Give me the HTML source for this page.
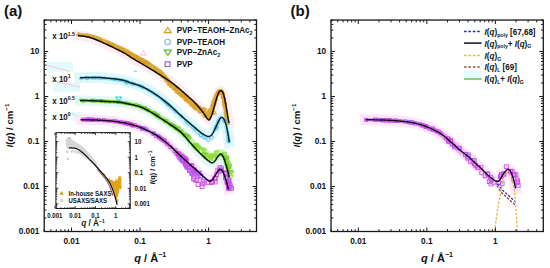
<!DOCTYPE html>
<html><head><meta charset="utf-8"><style>
html,body{margin:0;padding:0;background:#fff;width:550px;height:268px;overflow:hidden}
svg{display:block}
</style></head><body>
<svg width="550" height="268" viewBox="0 0 550 268">
<style>text{font-family:"Liberation Sans", sans-serif;font-weight:bold;fill:#111}</style>
<rect width="550" height="268" fill="#fff"/>
<rect x="47" y="62" width="26" height="10" fill="#e4fafb"/>
<rect x="53" y="83" width="27" height="9" fill="#e4fafb"/>
<rect x="72" y="112" width="10" height="9" fill="#e4fafb"/>
<path d="M47 65.4 L69.4 71.4 M53 81.1 L80 87.1 M72 113 L84 121" stroke="#f6c4ec" stroke-width="1"/>
<path d="M78.00 35.60 L78.77 35.69 L79.80 35.80 L81.02 35.93 L82.38 36.08 L83.81 36.26 L85.27 36.47 L86.68 36.71 L88.00 37.00 L89.25 37.33 L90.50 37.70 L91.75 38.11 L93.00 38.56 L94.25 39.02 L95.50 39.51 L96.75 40.00 L98.00 40.50 L99.26 41.02 L100.55 41.57 L101.84 42.14 L103.12 42.73 L104.40 43.31 L105.64 43.89 L106.85 44.46 L108.00 45.00 L109.09 45.51 L110.12 46.00 L111.10 46.48 L112.06 46.95 L113.01 47.42 L113.98 47.90 L114.97 48.39 L116.00 48.90 L117.09 49.43 L118.23 49.98 L119.39 50.54 L120.56 51.11 L121.73 51.68 L122.87 52.25 L123.96 52.83 L125.00 53.40 L125.95 53.96 L126.82 54.51 L127.64 55.06 L128.44 55.62 L129.24 56.18 L130.09 56.76 L131.00 57.37 L132.00 58.00 L133.11 58.67 L134.29 59.36 L135.53 60.07 L136.81 60.81 L138.12 61.55 L139.43 62.30 L140.73 63.05 L142.00 63.80 L143.25 64.55 L144.50 65.30 L145.75 66.06 L147.00 66.83 L148.25 67.59 L149.50 68.36 L150.75 69.13 L152.00 69.90 L153.26 70.68 L154.55 71.46 L155.84 72.25 L157.12 73.04 L158.40 73.83 L159.64 74.60 L160.85 75.36 L162.00 76.10 L163.10 76.81 L164.16 77.51 L165.19 78.19 L166.19 78.86 L167.16 79.52 L168.12 80.18 L169.06 80.84 L170.00 81.50 L170.92 82.16 L171.80 82.79 L172.65 83.42 L173.50 84.05 L174.35 84.69 L175.20 85.36 L176.08 86.06 L177.00 86.80 L177.94 87.58 L178.88 88.38 L179.84 89.21 L180.81 90.06 L181.81 90.95 L182.84 91.86 L183.90 92.81 L185.00 93.80 L186.17 94.83 L187.41 95.92 L188.69 97.05 L190.00 98.20 L191.31 99.37 L192.59 100.55 L193.83 101.73 L195.00 102.90 L196.11 104.07 L197.20 105.27 L198.26 106.49 L199.29 107.70 L200.28 108.90 L201.23 110.08 L202.14 111.21 L203.00 112.30 L203.82 113.40 L204.60 114.55 L205.34 115.70 L206.04 116.81 L206.69 117.83 L207.31 118.69 L207.88 119.37 L208.40 119.80 L208.86 119.96 L209.26 119.90 L209.61 119.65 L209.91 119.24 L210.19 118.74 L210.46 118.17 L210.72 117.57 L211.00 117.00 L211.28 116.41 L211.54 115.75 L211.79 115.03 L212.04 114.26 L212.28 113.46 L212.51 112.65 L212.75 111.82 L213.00 111.00 L213.25 110.17 L213.50 109.32 L213.75 108.45 L214.00 107.56 L214.25 106.67 L214.50 105.77 L214.75 104.88 L215.00 104.00 L215.25 103.11 L215.50 102.20 L215.75 101.28 L216.00 100.36 L216.25 99.46 L216.50 98.60 L216.75 97.77 L217.00 97.00 L217.25 96.27 L217.51 95.57 L217.76 94.89 L218.02 94.25 L218.27 93.65 L218.52 93.11 L218.76 92.62 L219.00 92.20 L219.23 91.85 L219.44 91.55 L219.66 91.32 L219.86 91.14 L220.07 91.00 L220.28 90.90 L220.48 90.84 L220.70 90.80 L220.92 90.79 L221.15 90.81 L221.38 90.86 L221.61 90.95 L221.84 91.09 L222.07 91.27 L222.29 91.51 L222.50 91.80 L222.70 92.15 L222.90 92.56 L223.08 93.02 L223.27 93.52 L223.45 94.08 L223.63 94.68 L223.81 95.32 L224.00 96.00 L224.19 96.73 L224.38 97.51 L224.56 98.33 L224.75 99.20 L224.94 100.11 L225.12 101.04 L225.31 102.01 L225.50 103.00 L225.69 104.04 L225.88 105.16 L226.08 106.32 L226.27 107.50 L226.46 108.68 L226.65 109.84 L226.83 110.96 L227.00 112.00 L227.17 112.99 L227.33 113.96 L227.49 114.90 L227.64 115.81 L227.79 116.68 L227.94 117.51 L228.07 118.28 L228.20 119.00 L228.32 119.67 L228.45 120.30 L228.56 120.90 L228.67 121.44 L228.78 121.92 L228.87 122.35 L228.94 122.71 L229.00 123.00" stroke="#fcecf6" stroke-width="10.0" fill="none" stroke-linecap="square" stroke-linejoin="round" opacity="1.00"/>
<path d="M80.00 77.80 L81.17 77.76 L82.73 77.70 L84.59 77.62 L86.65 77.54 L88.82 77.47 L91.00 77.42 L93.09 77.39 L95.00 77.40 L96.77 77.44 L98.50 77.51 L100.21 77.61 L101.90 77.72 L103.58 77.85 L105.25 77.99 L106.92 78.14 L108.60 78.30 L110.32 78.47 L112.09 78.65 L113.88 78.84 L115.65 79.04 L117.38 79.26 L119.03 79.49 L120.58 79.74 L122.00 80.00 L123.24 80.28 L124.33 80.57 L125.31 80.88 L126.21 81.21 L127.09 81.54 L127.99 81.89 L128.94 82.24 L130.00 82.60 L131.15 82.96 L132.36 83.31 L133.60 83.67 L134.88 84.04 L136.16 84.43 L137.45 84.85 L138.74 85.30 L140.00 85.80 L141.25 86.34 L142.50 86.91 L143.75 87.51 L145.00 88.14 L146.25 88.79 L147.50 89.47 L148.75 90.18 L150.00 90.90 L151.25 91.64 L152.50 92.41 L153.75 93.20 L155.00 94.02 L156.25 94.86 L157.50 95.72 L158.75 96.60 L160.00 97.50 L161.25 98.42 L162.50 99.37 L163.75 100.34 L165.00 101.33 L166.25 102.34 L167.50 103.38 L168.75 104.43 L170.00 105.50 L171.25 106.60 L172.50 107.75 L173.75 108.92 L175.00 110.11 L176.25 111.30 L177.50 112.49 L178.75 113.66 L180.00 114.80 L181.27 115.93 L182.57 117.08 L183.88 118.23 L185.19 119.36 L186.47 120.46 L187.71 121.53 L188.89 122.55 L190.00 123.50 L191.03 124.39 L191.98 125.23 L192.89 126.01 L193.75 126.76 L194.58 127.48 L195.39 128.17 L196.19 128.84 L197.00 129.50 L197.80 130.15 L198.59 130.78 L199.36 131.39 L200.11 131.97 L200.85 132.53 L201.58 133.06 L202.30 133.55 L203.00 134.00 L203.70 134.43 L204.40 134.84 L205.09 135.22 L205.77 135.57 L206.42 135.87 L207.05 136.12 L207.65 136.30 L208.20 136.40 L208.71 136.43 L209.17 136.40 L209.59 136.31 L209.99 136.16 L210.37 135.96 L210.74 135.69 L211.11 135.37 L211.50 135.00 L211.89 134.56 L212.27 134.04 L212.65 133.45 L213.02 132.82 L213.39 132.14 L213.76 131.44 L214.13 130.72 L214.50 130.00 L214.88 129.25 L215.26 128.44 L215.65 127.60 L216.03 126.74 L216.41 125.89 L216.79 125.05 L217.15 124.25 L217.50 123.50 L217.84 122.79 L218.17 122.08 L218.50 121.38 L218.82 120.72 L219.13 120.10 L219.43 119.53 L219.72 119.02 L220.00 118.60 L220.27 118.26 L220.52 117.99 L220.77 117.78 L221.01 117.62 L221.24 117.52 L221.46 117.45 L221.68 117.41 L221.90 117.40 L222.12 117.41 L222.32 117.47 L222.53 117.56 L222.73 117.69 L222.92 117.85 L223.11 118.04 L223.31 118.26 L223.50 118.50 L223.69 118.77 L223.88 119.07 L224.07 119.40 L224.26 119.76 L224.44 120.15 L224.63 120.56 L224.81 121.02 L225.00 121.50 L225.19 122.01 L225.38 122.55 L225.56 123.12 L225.75 123.72 L225.94 124.35 L226.12 125.03 L226.31 125.74 L226.50 126.50 L226.69 127.31 L226.88 128.18 L227.07 129.09 L227.26 130.04 L227.45 131.01 L227.64 132.00 L227.82 133.00 L228.00 134.00 L228.18 135.06 L228.37 136.23 L228.56 137.45 L228.74 138.67 L228.92 139.83 L229.07 140.87 L229.20 141.75 L229.30 142.40" stroke="#def8fc" stroke-width="11.0" fill="none" stroke-linecap="square" stroke-linejoin="round" opacity="1.00"/>
<path d="M80.00 100.50 L81.17 100.52 L82.73 100.54 L84.59 100.57 L86.65 100.60 L88.82 100.64 L91.00 100.68 L93.09 100.74 L95.00 100.80 L96.78 100.88 L98.55 100.97 L100.30 101.07 L102.03 101.17 L103.72 101.29 L105.39 101.40 L107.01 101.50 L108.60 101.60 L110.14 101.68 L111.64 101.75 L113.10 101.81 L114.52 101.87 L115.92 101.95 L117.30 102.04 L118.66 102.15 L120.00 102.30 L121.32 102.48 L122.60 102.70 L123.85 102.93 L125.09 103.19 L126.31 103.46 L127.53 103.73 L128.76 104.02 L130.00 104.30 L131.25 104.57 L132.50 104.84 L133.75 105.10 L135.00 105.38 L136.25 105.67 L137.50 106.00 L138.75 106.37 L140.00 106.80 L141.25 107.28 L142.50 107.81 L143.75 108.37 L145.00 108.97 L146.25 109.60 L147.50 110.25 L148.75 110.92 L150.00 111.60 L151.25 112.31 L152.50 113.04 L153.75 113.80 L155.00 114.59 L156.25 115.38 L157.50 116.19 L158.75 117.00 L160.00 117.80 L161.25 118.60 L162.50 119.41 L163.75 120.23 L165.00 121.05 L166.25 121.88 L167.50 122.71 L168.75 123.55 L170.00 124.40 L171.28 125.27 L172.62 126.16 L173.97 127.07 L175.31 127.99 L176.62 128.89 L177.85 129.77 L178.99 130.61 L180.00 131.40 L180.86 132.13 L181.60 132.81 L182.24 133.46 L182.81 134.07 L183.34 134.69 L183.87 135.30 L184.41 135.93 L185.00 136.60 L185.62 137.30 L186.25 138.01 L186.88 138.74 L187.50 139.47 L188.12 140.21 L188.75 140.95 L189.38 141.68 L190.00 142.40 L190.62 143.11 L191.25 143.82 L191.88 144.53 L192.50 145.24 L193.12 145.94 L193.75 146.63 L194.38 147.32 L195.00 148.00 L195.62 148.67 L196.25 149.34 L196.88 150.00 L197.50 150.66 L198.12 151.30 L198.75 151.94 L199.38 152.58 L200.00 153.20 L200.63 153.82 L201.27 154.44 L201.92 155.06 L202.56 155.67 L203.20 156.26 L203.82 156.84 L204.42 157.38 L205.00 157.90 L205.55 158.39 L206.09 158.86 L206.61 159.31 L207.11 159.74 L207.60 160.15 L208.08 160.53 L208.55 160.88 L209.00 161.20 L209.44 161.51 L209.87 161.80 L210.28 162.08 L210.68 162.33 L211.06 162.54 L211.45 162.69 L211.82 162.78 L212.20 162.80 L212.57 162.74 L212.92 162.61 L213.27 162.42 L213.61 162.18 L213.95 161.88 L214.30 161.55 L214.64 161.19 L215.00 160.80 L215.37 160.35 L215.75 159.82 L216.14 159.23 L216.52 158.61 L216.91 157.99 L217.29 157.40 L217.65 156.86 L218.00 156.40 L218.33 156.00 L218.65 155.61 L218.96 155.26 L219.26 154.94 L219.55 154.67 L219.84 154.45 L220.12 154.29 L220.40 154.20 L220.68 154.17 L220.95 154.20 L221.21 154.29 L221.48 154.43 L221.73 154.62 L221.99 154.87 L222.24 155.16 L222.50 155.50 L222.75 155.90 L223.01 156.35 L223.26 156.87 L223.51 157.43 L223.75 158.03 L224.00 158.66 L224.25 159.32 L224.50 160.00 L224.75 160.72 L225.01 161.51 L225.27 162.33 L225.53 163.19 L225.79 164.05 L226.04 164.90 L226.27 165.72 L226.50 166.50 L226.71 167.24 L226.91 167.95 L227.11 168.64 L227.29 169.31 L227.47 169.98 L227.65 170.65 L227.83 171.32 L228.00 172.00 L228.18 172.73 L228.37 173.50 L228.56 174.30 L228.74 175.09 L228.92 175.84 L229.07 176.51 L229.20 177.08 L229.30 177.50" stroke="#e2f8f6" stroke-width="10.0" fill="none" stroke-linecap="square" stroke-linejoin="round" opacity="1.00"/>
<path d="M80.60 119.70 L81.72 119.72 L83.21 119.74 L84.98 119.77 L86.95 119.80 L89.03 119.84 L91.12 119.88 L93.14 119.94 L95.00 120.00 L96.75 120.07 L98.51 120.15 L100.26 120.24 L101.99 120.33 L103.70 120.43 L105.37 120.55 L107.01 120.67 L108.60 120.80 L110.14 120.94 L111.64 121.09 L113.10 121.25 L114.52 121.42 L115.92 121.60 L117.30 121.79 L118.66 121.99 L120.00 122.20 L121.32 122.41 L122.60 122.63 L123.85 122.86 L125.09 123.09 L126.31 123.34 L127.53 123.61 L128.76 123.89 L130.00 124.20 L131.25 124.53 L132.50 124.87 L133.75 125.22 L135.00 125.60 L136.25 125.99 L137.50 126.41 L138.75 126.84 L140.00 127.30 L141.25 127.78 L142.50 128.27 L143.75 128.78 L145.00 129.32 L146.25 129.88 L147.50 130.46 L148.75 131.06 L150.00 131.70 L151.25 132.36 L152.50 133.04 L153.75 133.74 L155.00 134.47 L156.25 135.23 L157.50 136.01 L158.75 136.84 L160.00 137.70 L161.25 138.60 L162.50 139.54 L163.75 140.52 L165.00 141.53 L166.25 142.56 L167.50 143.62 L168.75 144.70 L170.00 145.80 L171.25 146.93 L172.50 148.11 L173.75 149.31 L175.00 150.54 L176.25 151.77 L177.50 153.00 L178.75 154.21 L180.00 155.40 L181.27 156.58 L182.57 157.78 L183.88 158.98 L185.19 160.17 L186.47 161.33 L187.71 162.45 L188.89 163.51 L190.00 164.50 L191.03 165.41 L191.98 166.25 L192.89 167.03 L193.75 167.77 L194.58 168.48 L195.39 169.18 L196.19 169.88 L197.00 170.60 L197.80 171.33 L198.56 172.05 L199.31 172.77 L200.04 173.48 L200.77 174.18 L201.50 174.87 L202.24 175.54 L203.00 176.20 L203.79 176.88 L204.63 177.60 L205.48 178.34 L206.32 179.04 L207.15 179.70 L207.94 180.26 L208.66 180.71 L209.30 181.00 L209.85 181.13 L210.32 181.14 L210.74 181.03 L211.11 180.83 L211.45 180.56 L211.79 180.23 L212.13 179.87 L212.50 179.50 L212.89 179.08 L213.28 178.57 L213.66 178.01 L214.04 177.41 L214.42 176.78 L214.79 176.16 L215.15 175.56 L215.50 175.00 L215.84 174.46 L216.17 173.91 L216.49 173.36 L216.81 172.82 L217.11 172.30 L217.41 171.82 L217.71 171.38 L218.00 171.00 L218.28 170.66 L218.55 170.36 L218.80 170.08 L219.06 169.85 L219.31 169.66 L219.56 169.52 L219.83 169.43 L220.10 169.40 L220.38 169.42 L220.68 169.47 L220.97 169.58 L221.27 169.73 L221.58 169.94 L221.89 170.22 L222.19 170.57 L222.50 171.00 L222.81 171.53 L223.13 172.17 L223.46 172.89 L223.79 173.67 L224.11 174.48 L224.42 175.31 L224.72 176.12 L225.00 176.90 L225.26 177.65 L225.50 178.40 L225.74 179.16 L225.96 179.92 L226.17 180.68 L226.38 181.45 L226.59 182.22 L226.80 183.00 L227.02 183.83 L227.25 184.73 L227.48 185.66 L227.71 186.58 L227.93 187.46 L228.12 188.24 L228.28 188.90 L228.40 189.40" stroke="#fbe8fa" stroke-width="10.0" fill="none" stroke-linecap="square" stroke-linejoin="round" opacity="1.00"/>
<path d="M78.31 33.12 L78.89 33.16 L79.63 33.20 L80.54 33.24 L81.57 33.29 L82.69 33.36 L83.88 33.44 L85.10 33.54 L86.33 33.67 L87.55 33.84 L88.71 34.03 L89.82 34.27 L90.91 34.52 L92.00 34.81 L93.07 35.11 L94.14 35.43 L95.19 35.76 L96.24 36.11 L97.28 36.46 L98.31 36.81 L99.35 37.16 L100.41 37.55 L101.49 37.96 L102.57 38.38 L103.65 38.81 L104.72 39.25 L105.77 39.68 L106.81 40.11 L107.81 40.54 L108.78 40.94 L109.72 41.34 L110.62 41.72 L111.49 42.09 L112.32 42.45 L113.13 42.81 L113.93 43.16 L114.71 43.51 L115.50 43.86 L116.29 44.21 L117.11 44.58 L117.94 44.95 L118.81 45.33 L119.71 45.73 L120.65 46.13 L121.61 46.54 L122.58 46.97 L123.56 47.40 L124.53 47.84 L125.50 48.30 L126.45 48.76 L127.38 49.23 L128.27 49.71 L129.11 50.18 L129.88 50.65 L130.60 51.10 L131.29 51.53 L131.95 51.95 L132.60 52.36 L133.26 52.77 L133.95 53.17 L134.71 53.59 L135.55 54.05 L136.47 54.53 L137.44 55.04 L138.45 55.56 L139.50 56.09 L140.57 56.64 L141.66 57.20 L142.75 57.76 L143.84 58.33 L144.91 58.90 L145.92 59.53 L146.91 60.17 L147.91 60.81 L148.91 61.45 L149.90 62.09 L150.89 62.73 L151.88 63.38 L152.86 64.02 L153.85 64.66 L154.83 65.30 L155.78 66.00 L156.75 66.72 L157.72 67.43 L158.71 68.16 L159.69 68.88 L160.66 69.60 L161.63 70.32 L162.55 71.05 L163.36 71.93 L164.13 72.79 L164.87 73.62 L165.58 74.43 L166.27 75.22 L166.95 75.99 L167.61 76.74 L168.28 77.46 L168.93 78.18 L169.58 78.89 L170.22 79.60 L170.85 80.31 L171.47 81.00 L172.07 81.68 L172.67 82.32 L173.36 82.83 L174.04 83.34 L174.72 83.86 L175.40 84.39 L176.10 84.94 L176.81 85.52 L177.55 86.13 L178.31 86.76 L179.06 87.40 L179.83 88.06 L180.59 88.73 L181.38 89.42 L182.17 90.13 L182.98 90.86 L183.81 91.61 L184.67 92.39 L185.55 93.18 L186.47 94.01 L187.44 94.87 L188.45 95.76 L189.48 96.67 L190.53 97.60 L191.65 98.47 L192.77 99.34 L193.86 100.22 L194.92 101.11 L195.93 101.99 L196.91 102.89 L197.87 103.80 L198.80 104.73 L199.72 105.66 L200.82 106.42 L202.24 106.89 L203.63 107.36 L204.98 107.84 L206.27 108.29 L207.54 108.79 L208.85 109.42 L210.15 110.14 L211.39 110.83 L212.54 111.47 L213.58 112.00 L214.50 112.37 L215.24 112.50 L215.69 112.25 L215.57 111.44 L214.33 109.95 L211.06 109.20 L206.91 109.64 L203.77 111.38 L202.34 113.09 L201.94 114.14 L202.01 114.61 L202.31 114.66 L202.73 114.41 L203.26 113.93 L203.80 113.51 L204.20 113.39 L204.54 113.31 L204.91 113.08 L205.31 112.74 L205.71 112.32 L206.13 111.82 L206.55 111.27 L206.99 110.68 L207.44 110.06 L207.89 109.46 L208.35 108.89 L208.79 108.32 L209.24 107.72 L209.70 107.11 L210.15 106.48 L210.39 105.78 L210.63 105.08 L210.88 104.37 L211.12 103.67 L211.37 102.97 L211.61 102.29 L211.85 101.59 L212.09 100.88 L212.33 100.15 L212.58 99.42 L212.83 98.69 L213.08 97.98 L213.33 97.27 L213.59 96.59 L213.85 95.94 L214.11 95.33 L214.36 94.74 L214.63 94.17 L214.89 93.61 L215.16 93.07 L215.47 92.57 L215.77 92.10 L216.08 91.65 L216.39 91.23 L216.71 90.84 L217.03 90.48 L217.36 90.14 L217.70 89.84 L218.07 89.57 L218.46 89.32 L218.87 89.13 L219.30 88.98 L219.72 88.90 L220.11 88.87 L220.49 88.88 L220.85 88.94 L221.23 89.02 L221.60 89.12 L221.98 89.27 L222.34 89.46 L222.68 89.70 L222.99 89.98 L223.27 90.30 L223.51 90.65 L223.72 91.02 L223.90 91.41 L224.06 91.80 L224.21 92.22 L224.34 92.66 L224.47 93.11 L224.59 93.59 L224.71 94.09 L224.83 94.61 L224.95 95.15 L225.06 95.72 L225.20 96.31 L225.34 96.94 L225.48 97.60 L225.62 98.28 L225.75 98.99 L225.89 99.72 L226.03 100.47 L226.16 101.24 L226.30 102.03 L226.43 102.83 L226.57 103.66 L226.71 104.55 L226.85 105.47 L226.99 106.41 L227.13 107.36 L227.27 108.31 L227.40 109.25 L227.54 110.16 L227.67 111.04 L227.79 111.87 L227.91 112.66 L228.03 113.45 L228.14 114.21 L228.26 114.96 L228.37 115.69 L228.48 116.39 L228.58 117.06 L228.68 117.70 L228.79 118.31 L228.89 118.87 L228.99 119.41 L229.09 119.92 L229.18 120.41 L229.27 120.87 L229.36 121.30 L229.44 121.69 L229.52 122.04 L229.58 122.36 L229.64 122.63 L229.69 122.86 L226.35 123.54 L226.29 123.33 L226.21 123.07 L226.12 122.76 L226.02 122.40 L225.90 122.01 L225.78 121.58 L225.65 121.11 L225.51 120.61 L225.37 120.09 L225.23 119.54 L225.08 118.97 L224.94 118.36 L224.84 117.71 L224.73 117.03 L224.62 116.33 L224.51 115.60 L224.40 114.85 L224.28 114.08 L224.16 113.30 L224.04 112.50 L223.92 111.66 L223.79 110.77 L223.65 109.85 L223.52 108.92 L223.38 107.97 L223.24 107.02 L223.10 106.09 L222.97 105.19 L222.83 104.33 L222.70 103.52 L222.57 102.74 L222.43 101.97 L222.30 101.21 L222.17 100.48 L222.03 99.77 L221.90 99.09 L221.77 98.44 L221.64 97.82 L221.52 97.24 L221.39 96.69 L221.29 96.16 L221.19 95.65 L221.10 95.17 L221.01 94.73 L220.92 94.33 L220.84 93.97 L220.76 93.66 L220.70 93.39 L220.64 93.17 L220.60 93.01 L220.59 92.90 L220.60 92.84 L220.63 92.79 L220.68 92.76 L220.74 92.73 L220.80 92.70 L220.85 92.65 L220.89 92.60 L220.90 92.56 L220.89 92.52 L220.88 92.48 L220.87 92.44 L220.86 92.40 L220.85 92.37 L220.80 92.35 L220.73 92.36 L220.62 92.42 L220.49 92.52 L220.33 92.68 L220.15 92.88 L219.95 93.14 L219.73 93.46 L219.51 93.82 L219.28 94.23 L219.04 94.67 L218.83 95.16 L218.63 95.68 L218.42 96.22 L218.22 96.77 L218.02 97.34 L217.82 97.93 L217.62 98.57 L217.42 99.23 L217.22 99.93 L217.01 100.64 L216.81 101.37 L216.60 102.10 L216.40 102.84 L216.19 103.57 L215.99 104.28 L215.78 104.98 L215.58 105.69 L215.37 106.40 L215.17 107.12 L214.96 107.83 L214.70 108.53 L214.43 109.21 L214.17 109.89 L213.90 110.55 L213.64 111.19 L213.38 111.83 L213.12 112.47 L212.87 113.11 L212.62 113.74 L212.37 114.36 L212.11 114.97 L211.85 115.54 L211.57 116.07 L211.29 116.56 L211.00 117.00 L210.74 117.44 L210.49 117.90 L210.24 118.35 L209.99 118.77 L209.74 119.13 L209.48 119.41 L209.23 119.56 L209.03 119.59 L208.86 119.53 L208.66 119.37 L208.18 119.27 L207.59 118.95 L206.92 118.47 L206.20 117.87 L205.44 117.19 L204.64 116.46 L203.82 115.71 L202.96 114.98 L202.04 114.34 L201.05 113.80 L200.01 113.27 L198.90 112.70 L197.76 112.11 L196.58 111.54 L195.38 110.97 L194.42 110.18 L193.61 109.28 L192.78 108.39 L191.95 107.53 L191.11 106.69 L190.24 105.86 L189.31 105.01 L188.33 104.15 L187.32 103.27 L186.28 102.39 L185.28 101.45 L184.28 100.52 L183.29 99.60 L182.33 98.70 L181.40 97.84 L180.53 97.01 L179.70 96.22 L178.89 95.45 L178.11 94.71 L177.34 93.99 L176.60 93.30 L175.88 92.63 L175.16 91.98 L174.46 91.35 L173.77 90.74 L173.08 90.15 L172.42 89.58 L171.78 89.04 L171.15 88.52 L170.52 88.01 L169.89 87.51 L169.25 87.00 L168.70 86.34 L168.16 85.61 L167.60 84.87 L167.03 84.11 L166.46 83.36 L165.88 82.60 L165.29 81.84 L164.69 81.07 L164.06 80.32 L163.41 79.56 L162.73 78.78 L162.03 77.98 L161.31 77.17 L160.57 76.32 L159.79 75.45 L158.85 74.77 L157.88 74.10 L156.89 73.43 L155.88 72.76 L154.88 72.08 L153.87 71.40 L152.88 70.73 L151.90 70.07 L150.90 69.45 L149.91 68.82 L148.91 68.20 L147.92 67.57 L146.92 66.95 L145.93 66.33 L144.93 65.72 L143.94 65.10 L142.94 64.49 L141.95 63.89 L140.94 63.28 L139.91 62.68 L138.86 62.07 L137.82 61.47 L136.78 60.87 L135.75 60.27 L134.75 59.69 L133.78 59.12 L132.85 58.57 L131.98 58.04 L131.17 57.52 L130.42 57.03 L129.73 56.55 L129.07 56.09 L128.43 55.64 L127.79 55.19 L127.15 54.75 L126.48 54.30 L125.77 53.85 L125.00 53.40 L124.18 52.94 L123.31 52.48 L122.42 52.02 L121.50 51.56 L120.56 51.11 L119.62 50.65 L118.69 50.20 L117.77 49.76 L116.87 49.33 L116.00 48.90 L115.17 48.49 L114.37 48.09 L113.59 47.70 L112.82 47.33 L112.06 46.95 L111.30 46.57 L110.52 46.20 L109.71 45.81 L108.88 45.41 L108.00 45.00 L107.08 44.57 L106.13 44.12 L105.15 43.66 L104.14 43.20 L103.12 42.73 L102.10 42.26 L101.06 41.80 L100.03 41.35 L99.01 40.91 L98.00 40.50 L97.00 40.10 L96.00 39.71 L94.99 39.32 L93.99 38.95 L92.99 38.58 L91.99 38.23 L90.99 37.90 L89.99 37.59 L88.99 37.30 L87.99 37.05 L86.94 36.82 L85.83 36.62 L84.68 36.45 L83.51 36.29 L82.37 36.16 L81.27 36.04 L80.26 35.94 L79.35 35.85 L78.58 35.77 L77.99 35.70 Z" fill="#e6b038" opacity="0.9"/>
<defs><linearGradient id="g485738843" gradientUnits="userSpaceOnUse" x1="175.0" y1="0" x2="200.0" y2="0"><stop offset="0" stop-color="#a8e6f6" stop-opacity="0.90"/><stop offset="1" stop-color="#a8e6f6" stop-opacity="0"/></linearGradient></defs>
<path d="M79.97 76.80 L80.86 76.76 L82.02 76.70 L83.40 76.63 L84.95 76.56 L86.61 76.48 L88.35 76.40 L90.10 76.34 L91.83 76.28 L93.49 76.25 L95.02 76.25 L96.45 76.27 L97.86 76.31 L99.25 76.36 L100.63 76.42 L101.99 76.50 L103.34 76.59 L104.68 76.69 L106.03 76.79 L107.37 76.90 L108.72 77.02 L110.10 77.14 L111.51 77.27 L112.95 77.40 L114.38 77.55 L115.81 77.70 L117.21 77.86 L118.58 78.03 L119.89 78.21 L121.12 78.40 L122.28 78.61 L123.34 78.83 L124.30 79.07 L125.17 79.31 L125.97 79.57 L126.72 79.84 L127.44 80.10 L128.15 80.37 L128.87 80.64 L129.63 80.90 L130.46 81.17 L131.36 81.45 L132.30 81.73 L133.27 82.01 L134.28 82.29 L135.31 82.59 L136.35 82.90 L137.41 83.23 L138.47 83.59 L139.53 83.97 L140.58 84.38 L141.62 84.82 L142.64 85.27 L143.67 85.75 L144.69 86.25 L145.71 86.76 L146.73 87.29 L147.75 87.83 L148.76 88.39 L149.78 88.96 L150.79 89.55 L151.81 90.15 L152.83 90.76 L153.84 91.39 L154.86 92.04 L155.87 92.70 L156.89 93.37 L157.90 94.06 L158.92 94.76 L159.93 95.48 L160.94 96.21 L161.95 96.96 L162.96 97.72 L163.97 98.50 L164.98 99.29 L165.99 100.10 L167.00 100.92 L168.00 101.75 L169.01 102.59 L170.01 103.45 L171.02 104.32 L172.04 105.22 L173.05 106.14 L174.06 107.08 L175.06 108.03 L176.06 108.99 L177.06 109.95 L178.05 110.90 L179.05 111.84 L180.03 112.77 L181.02 113.67 L182.02 114.57 L183.05 115.49 L184.09 116.40 L185.13 117.32 L186.17 118.22 L187.18 119.12 L188.18 119.99 L189.14 120.84 L190.06 121.65 L190.94 122.42 L191.76 123.14 L192.54 123.83 L193.27 124.49 L193.98 125.12 L194.66 125.72 L195.31 126.30 L195.95 126.85 L196.58 127.40 L197.21 127.93 L197.84 128.46 L198.48 128.98 L199.10 129.50 L199.72 130.00 L200.31 130.48 L200.90 130.95 L201.45 131.42 L202.00 131.87 L202.53 132.29 L203.06 132.69 L203.58 133.07 L204.11 133.44 L204.63 133.80 L205.16 134.14 L205.67 134.46 L206.17 134.76 L206.64 135.02 L207.10 135.25 L207.53 135.43 L207.93 135.58 L208.30 135.62 L208.63 135.57 L208.91 135.49 L209.15 135.39 L209.34 135.27 L209.52 135.14 L209.69 134.99 L209.87 134.80 L210.06 134.58 L210.27 134.32 L210.48 134.03 L210.69 133.72 L210.90 133.37 L211.14 132.97 L211.38 132.53 L211.64 132.04 L211.90 131.52 L212.16 130.97 L212.43 130.39 L212.71 129.81 L212.98 129.22 L213.25 128.64 L213.52 128.02 L213.79 127.36 L214.07 126.69 L214.35 126.00 L214.63 125.30 L214.91 124.61 L215.19 123.93 L215.47 123.28 L215.73 122.66 L215.98 122.08 L216.23 121.51 L216.50 120.94 L216.76 120.39 L217.02 119.84 L217.28 119.31 L217.54 118.81 L217.81 118.32 L218.09 117.86 L218.37 117.44 L218.67 117.05 L218.98 116.70 L219.31 116.39 L219.66 116.11 L220.04 115.88 L220.43 115.69 L220.82 115.55 L221.19 115.47 L221.53 115.42 L221.89 115.40 L222.32 115.43 L222.77 115.54 L223.18 115.71 L223.54 115.92 L223.85 116.14 L224.12 116.39 L224.36 116.63 L224.57 116.89 L224.76 117.14 L224.95 117.41 L225.13 117.70 L225.31 118.00 L225.48 118.32 L225.64 118.65 L225.79 118.99 L225.95 119.35 L226.09 119.72 L226.24 120.11 L226.38 120.51 L226.52 120.93 L226.66 121.36 L226.80 121.81 L226.94 122.28 L227.08 122.77 L227.22 123.27 L227.35 123.80 L227.49 124.35 L227.64 124.93 L227.78 125.53 L227.93 126.16 L228.07 126.82 L228.22 127.52 L228.36 128.24 L228.51 128.99 L228.65 129.76 L228.79 130.55 L228.94 131.35 L229.08 132.15 L229.21 132.96 L229.35 133.77 L229.48 134.62 L229.62 135.54 L229.77 136.51 L229.91 137.50 L230.05 138.47 L230.18 139.41 L230.30 140.28 L230.41 141.05 L230.51 141.70 L230.59 142.20 L227.03 142.75 L226.95 142.24 L226.85 141.58 L226.74 140.81 L226.60 139.94 L226.45 139.01 L226.30 138.05 L226.14 137.08 L225.98 136.13 L225.82 135.23 L225.67 134.41 L225.52 133.62 L225.37 132.83 L225.21 132.05 L225.05 131.27 L224.89 130.51 L224.73 129.76 L224.57 129.04 L224.41 128.35 L224.26 127.69 L224.10 127.08 L223.95 126.49 L223.80 125.94 L223.64 125.42 L223.51 124.92 L223.39 124.44 L223.26 123.98 L223.14 123.54 L223.02 123.12 L222.90 122.72 L222.78 122.34 L222.66 121.97 L222.54 121.64 L222.43 121.32 L222.32 121.04 L222.21 120.77 L222.11 120.53 L222.01 120.32 L221.92 120.13 L221.83 119.96 L221.75 119.81 L221.67 119.67 L221.59 119.55 L221.53 119.47 L221.50 119.41 L221.49 119.38 L221.52 119.37 L221.59 119.38 L221.70 119.40 L221.82 119.40 L221.91 119.40 L221.92 119.40 L221.91 119.40 L221.92 119.40 L221.95 119.39 L221.97 119.37 L221.97 119.38 L221.94 119.40 L221.86 119.47 L221.76 119.59 L221.63 119.76 L221.47 120.00 L221.28 120.31 L221.07 120.69 L220.85 121.12 L220.62 121.60 L220.37 122.11 L220.12 122.65 L219.85 123.21 L219.63 123.81 L219.42 124.41 L219.21 125.02 L219.00 125.66 L218.77 126.33 L218.54 127.04 L218.31 127.76 L218.07 128.49 L217.82 129.22 L217.57 129.94 L217.31 130.64 L217.06 131.31 L216.82 131.93 L216.59 132.54 L216.35 133.16 L216.11 133.79 L215.85 134.41 L215.57 135.04 L215.26 135.67 L214.93 136.29 L214.59 136.96 L214.23 137.61 L213.89 138.19 L213.54 138.73 L213.10 139.29 L212.57 139.84 L211.92 140.37 L211.15 140.86 L210.30 141.28 L209.39 141.60 L208.47 141.84 L207.50 141.99 L206.52 141.87 L205.64 141.51 L204.86 141.11 L204.15 140.68 L203.50 140.22 L202.88 139.75 L202.29 139.27 L201.73 138.78 L201.18 138.29 L200.64 137.79 L200.07 137.26 L199.50 136.70 L198.94 136.12 L198.39 135.54 L197.85 134.94 L197.26 134.39 L196.65 133.86 L196.05 133.31 L195.44 132.75 L194.82 132.19 L194.19 131.60 L193.56 131.01 L192.93 130.41 L192.30 129.80 L191.65 129.18 L191.00 128.54 L190.32 127.87 L189.62 127.18 L188.88 126.46 L188.10 125.69 L187.27 124.89 L186.40 124.03 L185.47 123.14 L184.52 122.21 L183.54 121.26 L182.52 120.33 L181.47 119.39 L180.43 118.45 L179.40 117.51 L178.39 116.58 L177.39 115.64 L176.39 114.68 L175.39 113.71 L174.40 112.74 L173.41 111.77 L172.43 110.81 L171.46 109.86 L170.49 108.94 L169.52 108.04 L168.56 107.16 L167.59 106.30 L166.61 105.45 L165.64 104.61 L164.66 103.78 L163.69 102.97 L162.71 102.17 L161.74 101.39 L160.77 100.61 L159.79 99.86 L158.82 99.12 L157.84 98.40 L156.85 97.70 L155.87 97.01 L154.89 96.33 L153.91 95.67 L152.92 95.03 L151.94 94.40 L150.96 93.78 L149.99 93.18 L149.01 92.60 L148.02 92.02 L147.04 91.46 L146.06 90.92 L145.08 90.39 L144.11 89.87 L143.13 89.37 L142.16 88.90 L141.19 88.44 L140.22 88.00 L139.26 87.59 L138.31 87.20 L137.33 86.85 L136.34 86.51 L135.34 86.19 L134.33 85.88 L133.32 85.58 L132.32 85.29 L131.33 85.00 L130.36 84.71 L129.41 84.41 L128.52 84.11 L127.69 83.82 L126.94 83.53 L126.23 83.26 L125.54 83.01 L124.86 82.77 L124.16 82.54 L123.40 82.32 L122.56 82.11 L121.61 81.91 L120.54 81.72 L119.36 81.53 L118.11 81.35 L116.78 81.18 L115.41 81.02 L114.01 80.86 L112.59 80.71 L111.17 80.58 L109.77 80.44 L108.41 80.32 L107.06 80.20 L105.73 80.08 L104.40 79.98 L103.08 79.87 L101.75 79.78 L100.42 79.70 L99.08 79.63 L97.73 79.58 L96.35 79.53 L94.97 79.51 L93.49 79.51 L91.88 79.53 L90.18 79.58 L88.45 79.63 L86.73 79.70 L85.07 79.77 L83.53 79.85 L82.15 79.91 L80.98 79.96 L80.07 80.00 Z" fill="url(#g485738843)"/>
<defs><linearGradient id="g929583699" gradientUnits="userSpaceOnUse" x1="175.0" y1="0" x2="200.0" y2="0"><stop offset="0" stop-color="#9ce05a" stop-opacity="0.90"/><stop offset="1" stop-color="#9ce05a" stop-opacity="0"/></linearGradient></defs>
<path d="M80.03 98.80 L80.93 98.81 L82.09 98.81 L83.47 98.82 L85.01 98.82 L86.68 98.83 L88.41 98.85 L90.17 98.86 L91.90 98.89 L93.55 98.91 L95.07 98.95 L96.51 99.00 L97.94 99.05 L99.36 99.12 L100.76 99.19 L102.15 99.26 L103.51 99.33 L104.85 99.41 L106.17 99.48 L107.46 99.55 L108.72 99.62 L109.94 99.67 L111.13 99.72 L112.31 99.76 L113.47 99.79 L114.62 99.83 L115.76 99.88 L116.89 99.93 L118.02 100.01 L119.14 100.10 L120.26 100.22 L121.37 100.36 L122.44 100.52 L123.49 100.69 L124.52 100.88 L125.54 101.08 L126.54 101.29 L127.53 101.51 L128.51 101.72 L129.50 101.94 L130.48 102.15 L131.47 102.36 L132.46 102.55 L133.46 102.75 L134.48 102.95 L135.50 103.17 L136.54 103.40 L137.59 103.65 L138.65 103.93 L139.72 104.25 L140.80 104.61 L141.86 105.00 L142.92 105.42 L143.97 105.86 L145.02 106.33 L146.06 106.81 L147.09 107.32 L148.12 107.83 L149.15 108.36 L150.17 108.90 L151.20 109.44 L152.23 110.01 L153.27 110.60 L154.30 111.20 L155.33 111.82 L156.35 112.45 L157.37 113.08 L158.39 113.71 L159.40 114.35 L160.40 114.98 L161.41 115.61 L162.43 116.23 L163.45 116.85 L164.48 117.47 L165.50 118.10 L166.53 118.73 L167.55 119.37 L168.58 120.01 L169.61 120.66 L170.63 121.31 L171.65 121.96 L172.69 122.62 L173.77 123.29 L174.87 123.99 L175.98 124.69 L177.09 125.40 L178.17 126.11 L179.23 126.81 L180.24 127.50 L181.20 128.18 L182.08 128.84 L182.93 129.42 L183.69 129.99 L184.38 130.55 L185.00 131.09 L185.57 131.61 L186.08 132.11 L186.57 132.58 L187.03 133.03 L187.49 133.47 L187.99 133.93 L188.55 134.45 L189.13 135.00 L189.70 135.55 L190.27 136.10 L190.83 136.65 L191.38 137.20 L191.93 137.74 L192.48 138.27 L193.01 138.79 L193.55 139.30 L194.10 139.81 L194.65 140.33 L195.20 140.85 L195.74 141.36 L196.33 141.83 L196.91 142.30 L197.49 142.76 L198.07 143.21 L198.65 143.66 L199.22 144.10 L199.80 144.53 L200.38 144.97 L200.95 145.40 L201.53 145.82 L202.10 146.24 L202.67 146.65 L203.24 147.06 L203.80 147.46 L204.37 147.84 L204.92 148.23 L205.50 148.59 L206.09 148.95 L206.68 149.31 L207.28 149.67 L207.87 150.02 L208.45 150.36 L209.02 150.69 L209.57 151.00 L210.11 151.30 L210.63 151.59 L211.14 151.87 L211.63 152.14 L212.11 152.37 L212.57 152.57 L212.99 152.74 L213.37 152.88 L213.72 152.99 L214.03 153.07 L214.30 153.10 L214.60 153.16 L215.03 153.30 L215.45 153.45 L215.75 153.52 L215.91 153.49 L215.89 153.35 L215.65 153.10 L215.06 152.92 L214.17 152.71 L212.96 152.57 L211.57 152.62 L210.27 152.88 L209.20 153.27 L208.40 153.71 L207.85 154.12 L207.53 154.43 L207.39 154.64 L207.38 154.73 L207.49 154.72 L207.69 154.61 L207.84 154.56 L208.01 154.74 L208.25 154.83 L208.62 154.75 L209.06 154.55 L209.55 154.25 L210.08 153.89 L210.64 153.47 L211.23 153.01 L211.87 152.51 L212.51 152.06 L213.01 151.76 L213.46 151.52 L213.93 151.26 L214.43 150.97 L214.98 150.65 L215.60 150.31 L216.31 149.96 L217.16 149.60 L218.18 149.28 L219.33 149.11 L220.45 149.14 L221.49 149.36 L222.44 149.68 L223.31 150.00 L224.07 150.40 L224.71 150.85 L225.25 151.30 L225.71 151.76 L226.12 152.23 L226.50 152.71 L226.88 153.26 L227.22 153.82 L227.52 154.37 L227.80 154.92 L228.06 155.47 L228.31 156.03 L228.55 156.59 L228.79 157.15 L229.01 157.72 L229.24 158.30 L229.47 158.94 L229.71 159.61 L229.95 160.31 L230.18 161.01 L230.41 161.72 L230.64 162.43 L230.85 163.12 L231.06 163.80 L231.26 164.45 L231.45 165.06 L231.64 165.66 L231.82 166.25 L231.99 166.82 L232.15 167.39 L232.32 167.95 L232.48 168.50 L232.63 169.05 L232.78 169.60 L232.94 170.15 L233.09 170.71 L233.24 171.32 L233.40 171.95 L233.55 172.61 L233.71 173.26 L233.86 173.90 L234.00 174.51 L234.13 175.08 L234.24 175.57 L234.34 175.99 L234.41 176.31 L228.08 177.78 L228.01 177.46 L227.91 177.03 L227.79 176.53 L227.67 175.98 L227.53 175.38 L227.38 174.75 L227.23 174.11 L227.08 173.48 L226.93 172.87 L226.79 172.31 L226.62 171.77 L226.46 171.24 L226.30 170.72 L226.13 170.20 L225.96 169.68 L225.79 169.15 L225.61 168.61 L225.42 168.07 L225.23 167.51 L225.03 166.93 L224.82 166.32 L224.60 165.68 L224.37 165.02 L224.13 164.35 L223.89 163.68 L223.65 163.02 L223.41 162.37 L223.17 161.76 L222.94 161.18 L222.71 160.64 L222.48 160.13 L222.25 159.62 L222.02 159.14 L221.78 158.68 L221.55 158.26 L221.33 157.88 L221.11 157.54 L220.91 157.25 L220.72 157.03 L220.55 156.86 L220.39 156.72 L220.24 156.62 L220.13 156.58 L220.06 156.59 L220.05 156.64 L220.12 156.74 L220.26 156.85 L220.48 156.87 L220.71 156.83 L220.94 156.74 L221.12 156.63 L221.20 156.53 L221.17 156.48 L221.06 156.50 L220.89 156.58 L220.68 156.72 L220.43 156.91 L220.16 157.13 L219.86 157.39 L219.57 157.64 L219.30 157.91 L219.02 158.24 L218.70 158.64 L218.36 159.08 L218.01 159.54 L217.65 160.02 L217.28 160.50 L216.90 160.96 L216.51 161.40 L216.13 161.79 L215.81 162.13 L215.51 162.45 L215.20 162.76 L214.88 163.07 L214.54 163.35 L214.17 163.62 L213.76 163.87 L213.32 164.07 L212.82 164.22 L212.29 164.30 L211.75 164.29 L211.23 164.19 L210.75 164.04 L210.32 163.85 L209.91 163.64 L209.53 163.42 L209.16 163.20 L208.80 162.97 L208.45 162.74 L208.09 162.51 L207.69 162.26 L207.28 161.98 L206.86 161.68 L206.45 161.37 L206.02 161.04 L205.59 160.70 L205.16 160.36 L204.72 159.99 L204.27 159.62 L203.81 159.24 L203.33 158.83 L202.83 158.41 L202.32 157.97 L201.80 157.52 L201.27 157.05 L200.73 156.57 L200.19 156.09 L199.65 155.60 L199.12 155.11 L198.59 154.62 L198.08 154.12 L197.58 153.60 L197.07 153.09 L196.56 152.57 L196.06 152.04 L195.55 151.51 L195.05 150.98 L194.54 150.44 L194.04 149.90 L193.53 149.36 L193.03 148.81 L192.52 148.25 L192.01 147.69 L191.51 147.13 L191.01 146.57 L190.50 146.00 L190.00 145.43 L189.49 144.87 L188.99 144.30 L188.48 143.73 L187.97 143.15 L187.46 142.56 L186.95 141.97 L186.45 141.38 L185.95 140.79 L185.45 140.21 L184.95 139.64 L184.46 139.07 L183.96 138.52 L183.47 137.97 L182.97 137.42 L182.51 136.89 L182.08 136.39 L181.67 135.92 L181.27 135.46 L180.85 135.01 L180.40 134.55 L179.90 134.08 L179.33 133.57 L178.68 133.03 L177.93 132.43 L177.08 131.79 L176.16 131.12 L175.17 130.42 L174.14 129.70 L173.08 128.97 L172.00 128.24 L170.93 127.51 L169.87 126.80 L168.85 126.10 L167.85 125.42 L166.86 124.74 L165.87 124.07 L164.88 123.40 L163.88 122.74 L162.89 122.08 L161.90 121.43 L160.91 120.77 L159.91 120.13 L158.92 119.48 L157.92 118.83 L156.92 118.18 L155.93 117.53 L154.94 116.89 L153.95 116.25 L152.97 115.62 L151.99 115.01 L151.01 114.42 L150.04 113.85 L149.06 113.29 L148.08 112.75 L147.10 112.21 L146.11 111.68 L145.14 111.17 L144.16 110.67 L143.19 110.20 L142.23 109.75 L141.27 109.32 L140.31 108.92 L139.36 108.55 L138.42 108.22 L137.48 107.92 L136.52 107.65 L135.56 107.40 L134.59 107.16 L133.61 106.94 L132.62 106.72 L131.63 106.51 L130.62 106.29 L129.61 106.06 L128.61 105.83 L127.62 105.60 L126.65 105.37 L125.68 105.15 L124.71 104.94 L123.75 104.74 L122.78 104.54 L121.79 104.37 L120.80 104.21 L119.78 104.07 L118.74 103.95 L117.70 103.85 L116.63 103.77 L115.55 103.70 L114.44 103.64 L113.31 103.59 L112.15 103.54 L110.96 103.49 L109.75 103.43 L108.50 103.35 L107.22 103.27 L105.93 103.19 L104.61 103.10 L103.27 103.01 L101.91 102.92 L100.54 102.83 L99.15 102.74 L97.76 102.66 L96.35 102.59 L94.93 102.53 L93.44 102.47 L91.81 102.43 L90.09 102.38 L88.35 102.35 L86.62 102.31 L84.96 102.28 L83.42 102.26 L82.04 102.24 L80.87 102.22 L79.97 102.20 Z" fill="url(#g929583699)"/>
<path d="M188.04 133.99 L188.37 134.31 L188.80 134.72 L189.30 135.21 L189.86 135.75 L190.46 136.34 L191.09 136.95 L191.74 137.56 L192.37 138.17 L192.98 138.75 L193.55 139.29 L194.10 139.81 L194.65 140.33 L195.20 140.85 L195.74 141.36 L196.33 141.83 L196.91 142.30 L197.49 142.76 L198.07 143.21 L198.65 143.66 L199.22 144.10 L199.80 144.53 L200.38 144.97 L200.95 145.40 L201.53 145.82 L202.10 146.24 L202.67 146.65 L203.24 147.06 L203.80 147.46 L204.37 147.84 L204.92 148.23 L205.50 148.59 L206.09 148.95 L206.68 149.31 L207.28 149.67 L207.87 150.02 L208.45 150.36 L209.02 150.69 L209.57 151.00 L210.11 151.30 L210.63 151.59 L211.14 151.87 L211.63 152.14 L212.11 152.37 L212.57 152.57 L212.99 152.74 L213.37 152.88 L213.72 152.99 L214.03 153.07 L214.30 153.10 L214.60 153.16 L215.03 153.30 L215.45 153.45 L215.75 153.52 L215.91 153.49 L215.89 153.35 L215.65 153.10 L215.06 152.92 L214.17 152.71 L212.96 152.57 L211.57 152.62 L210.27 152.88 L209.20 153.27 L208.40 153.71 L207.85 154.12 L207.53 154.43 L207.39 154.64 L207.38 154.73 L207.49 154.72 L207.69 154.61 L207.84 154.56 L208.01 154.74 L208.25 154.83 L208.62 154.75 L209.06 154.55 L209.55 154.25 L210.08 153.89 L210.64 153.47 L211.23 153.01 L211.87 152.51 L212.51 152.06 L213.01 151.76 L213.46 151.52 L213.93 151.26 L214.43 150.97 L214.98 150.65 L215.60 150.31 L216.31 149.96 L217.16 149.60 L218.18 149.28 L219.33 149.11 L220.45 149.14 L221.49 149.36 L222.44 149.68 L223.31 150.00 L224.07 150.40 L224.71 150.85 L225.25 151.30 L225.71 151.76 L226.12 152.23 L226.50 152.71 L226.88 153.26 L227.22 153.82 L227.52 154.37 L227.80 154.92 L228.06 155.47 L228.31 156.03 L228.55 156.59 L228.79 157.15 L229.01 157.72 L229.24 158.30 L229.47 158.94 L229.71 159.61 L229.95 160.31 L230.18 161.01 L230.41 161.72 L230.64 162.43 L230.85 163.12 L231.06 163.80 L231.26 164.45 L231.45 165.06 L231.64 165.66 L231.82 166.25 L231.99 166.82 L232.15 167.39 L232.32 167.95 L232.48 168.50 L232.63 169.05 L232.78 169.60 L232.94 170.15 L233.09 170.71 L233.24 171.32 L233.40 171.95 L233.55 172.61 L233.71 173.26 L233.86 173.90 L234.00 174.51 L234.13 175.08 L234.24 175.57 L234.34 175.99 L234.41 176.31 L228.08 177.78 L228.01 177.46 L227.91 177.03 L227.79 176.53 L227.67 175.98 L227.53 175.38 L227.38 174.75 L227.23 174.11 L227.08 173.48 L226.93 172.87 L226.79 172.31 L226.62 171.77 L226.46 171.24 L226.30 170.72 L226.13 170.20 L225.96 169.68 L225.79 169.15 L225.61 168.61 L225.42 168.07 L225.23 167.51 L225.03 166.93 L224.82 166.32 L224.60 165.68 L224.37 165.02 L224.13 164.35 L223.89 163.68 L223.65 163.02 L223.41 162.37 L223.17 161.76 L222.94 161.18 L222.71 160.64 L222.48 160.13 L222.25 159.62 L222.02 159.14 L221.78 158.68 L221.55 158.26 L221.33 157.88 L221.11 157.54 L220.91 157.25 L220.72 157.03 L220.55 156.86 L220.39 156.72 L220.24 156.62 L220.13 156.58 L220.06 156.59 L220.05 156.64 L220.12 156.74 L220.26 156.85 L220.48 156.87 L220.71 156.83 L220.94 156.74 L221.12 156.63 L221.20 156.53 L221.17 156.48 L221.06 156.50 L220.89 156.58 L220.68 156.72 L220.43 156.91 L220.16 157.13 L219.86 157.39 L219.57 157.64 L219.30 157.91 L219.02 158.24 L218.70 158.64 L218.36 159.08 L218.01 159.54 L217.65 160.02 L217.28 160.50 L216.90 160.96 L216.51 161.40 L216.13 161.79 L215.81 162.13 L215.51 162.45 L215.20 162.76 L214.88 163.07 L214.54 163.35 L214.17 163.62 L213.76 163.87 L213.32 164.07 L212.82 164.22 L212.29 164.30 L211.75 164.29 L211.23 164.19 L210.75 164.04 L210.32 163.85 L209.91 163.64 L209.53 163.42 L209.16 163.20 L208.80 162.97 L208.45 162.74 L208.09 162.51 L207.69 162.26 L207.28 161.98 L206.86 161.68 L206.45 161.37 L206.02 161.04 L205.59 160.70 L205.16 160.36 L204.72 159.99 L204.27 159.62 L203.81 159.24 L203.33 158.83 L202.83 158.41 L202.32 157.97 L201.80 157.52 L201.27 157.05 L200.73 156.57 L200.19 156.09 L199.65 155.60 L199.12 155.11 L198.59 154.62 L198.08 154.12 L197.58 153.60 L197.07 153.09 L196.56 152.57 L196.06 152.04 L195.55 151.51 L195.05 150.98 L194.54 150.44 L194.04 149.90 L193.53 149.36 L193.03 148.81 L192.52 148.25 L192.01 147.69 L191.51 147.13 L191.01 146.57 L190.50 146.00 L190.00 145.43 L189.49 144.87 L188.99 144.30 L188.48 143.73 L187.95 143.13 L187.39 142.49 L186.81 141.82 L186.22 141.14 L185.64 140.48 L185.09 139.84 L184.58 139.25 L184.12 138.73 L183.74 138.29 L183.44 137.94 Z" fill="#c8f0a0" opacity="0.7"/>
<defs><linearGradient id="g601051017" gradientUnits="userSpaceOnUse" x1="165.0" y1="0" x2="190.0" y2="0"><stop offset="0" stop-color="#e496f0" stop-opacity="0.90"/><stop offset="1" stop-color="#e496f0" stop-opacity="0"/></linearGradient></defs>
<path d="M80.63 117.90 L81.49 117.91 L82.60 117.93 L83.91 117.94 L85.39 117.96 L86.98 117.99 L88.64 118.01 L90.33 118.04 L91.99 118.08 L93.59 118.12 L95.07 118.17 L96.48 118.23 L97.89 118.28 L99.30 118.35 L100.70 118.42 L102.09 118.49 L103.47 118.57 L104.83 118.65 L106.17 118.75 L107.48 118.84 L108.76 118.95 L110.01 119.06 L111.23 119.18 L112.43 119.30 L113.60 119.43 L114.75 119.57 L115.89 119.71 L117.01 119.86 L118.11 120.02 L119.21 120.18 L120.29 120.34 L121.36 120.51 L122.41 120.69 L123.44 120.86 L124.45 121.05 L125.45 121.24 L126.45 121.44 L127.45 121.65 L128.45 121.87 L129.45 122.11 L130.47 122.36 L131.49 122.61 L132.51 122.87 L133.53 123.14 L134.55 123.43 L135.58 123.72 L136.60 124.03 L137.63 124.35 L138.66 124.68 L139.68 125.03 L140.71 125.40 L141.74 125.77 L142.76 126.16 L143.79 126.56 L144.81 126.97 L145.84 127.39 L146.87 127.84 L147.90 128.29 L148.93 128.77 L149.97 129.26 L151.00 129.78 L152.02 130.30 L153.05 130.84 L154.08 131.39 L155.11 131.96 L156.14 132.55 L157.17 133.16 L158.21 133.79 L159.25 134.44 L160.29 135.12 L161.33 135.82 L162.38 136.53 L163.43 137.27 L164.48 138.03 L165.53 138.81 L166.57 139.60 L167.61 140.42 L168.65 141.25 L169.69 142.09 L170.73 142.94 L171.77 143.81 L172.82 144.71 L173.87 145.64 L174.92 146.59 L175.96 147.55 L176.99 148.51 L178.02 149.47 L179.04 150.43 L180.06 151.37 L181.04 152.32 L182.02 153.24 L183.03 154.17 L184.06 155.12 L185.10 156.07 L186.15 157.02 L187.19 157.96 L188.22 158.89 L189.22 159.79 L190.19 160.65 L191.12 161.48 L192.00 162.26 L192.76 163.05 L193.48 163.78 L194.16 164.48 L194.82 165.14 L195.46 165.78 L196.08 166.40 L196.70 167.01 L197.31 167.63 L197.92 168.25 L198.54 168.89 L199.16 169.54 L199.75 170.19 L200.33 170.82 L200.88 171.44 L201.43 172.05 L201.95 172.65 L202.47 173.25 L202.99 173.83 L203.52 174.40 L204.06 174.97 L204.64 175.57 L205.25 176.21 L205.87 176.85 L206.48 177.49 L207.09 178.11 L207.68 178.68 L208.23 179.20 L208.78 179.59 L209.28 179.82 L209.68 179.94 L209.95 179.96 L210.12 179.94 L210.22 179.89 L210.29 179.83 L210.38 179.74 L210.52 179.60 L210.70 179.39 L210.92 179.13 L211.18 178.81 L211.46 178.49 L211.69 178.20 L211.89 177.85 L212.06 177.41 L212.25 176.93 L212.43 176.41 L212.63 175.88 L212.82 175.33 L213.03 174.77 L213.24 174.22 L213.44 173.70 L213.61 173.23 L213.77 172.77 L213.94 172.30 L214.11 171.82 L214.28 171.33 L214.47 170.85 L214.69 170.37 L214.93 169.90 L215.19 169.42 L215.46 168.97 L215.69 168.60 L215.91 168.26 L216.16 167.91 L216.45 167.54 L216.79 167.16 L217.22 166.77 L217.76 166.38 L218.43 166.02 L219.23 165.76 L220.03 165.63 L220.71 165.60 L221.36 165.64 L222.03 165.76 L222.72 165.96 L223.41 166.21 L224.07 166.54 L224.71 166.94 L225.30 167.40 L225.86 167.92 L226.38 168.49 L226.88 169.10 L227.33 169.74 L227.76 170.39 L228.17 171.05 L228.57 171.73 L228.94 172.41 L229.25 173.11 L229.53 173.80 L229.81 174.46 L230.07 175.11 L230.32 175.77 L230.57 176.44 L230.81 177.10 L231.03 177.76 L231.24 178.41 L231.44 179.05 L231.64 179.68 L231.83 180.30 L232.02 180.92 L232.21 181.55 L232.41 182.23 L232.63 182.96 L232.84 183.72 L233.06 184.48 L233.26 185.22 L233.46 185.93 L233.63 186.58 L233.77 187.17 L233.89 187.65 L233.98 188.02 L226.70 189.82 L226.61 189.43 L226.49 188.94 L226.34 188.35 L226.17 187.70 L225.98 187.01 L225.78 186.28 L225.57 185.55 L225.36 184.82 L225.16 184.13 L224.97 183.49 L224.78 182.88 L224.59 182.27 L224.40 181.66 L224.22 181.06 L224.03 180.47 L223.84 179.89 L223.64 179.31 L223.43 178.74 L223.22 178.17 L223.00 177.61 L222.75 177.02 L222.50 176.39 L222.23 175.76 L221.95 175.13 L221.65 174.54 L221.35 173.97 L221.05 173.46 L220.77 173.02 L220.51 172.67 L220.30 172.43 L220.12 172.28 L219.96 172.19 L219.85 172.16 L219.78 172.18 L219.76 172.24 L219.78 172.32 L219.82 172.46 L219.90 172.60 L219.99 172.73 L220.17 172.85 L220.50 172.93 L220.90 172.93 L221.23 172.90 L221.47 172.87 L221.61 172.89 L221.69 172.96 L221.70 173.10 L221.66 173.29 L221.58 173.55 L221.52 173.81 L221.50 174.02 L221.47 174.27 L221.40 174.59 L221.31 174.97 L221.30 175.47 L221.31 176.02 L221.29 176.62 L221.26 177.25 L221.20 177.93 L221.16 178.57 L221.18 179.12 L221.22 179.68 L221.22 180.32 L221.19 181.02 L221.13 181.78 L221.02 182.60 L220.84 183.49 L220.57 184.46 L220.09 185.48 L219.59 186.34 L219.41 186.82 L219.30 187.22 L218.94 187.85 L218.25 188.73 L217.10 189.85 L215.35 191.05 L213.00 192.08 L210.31 192.65 L207.66 192.71 L205.24 192.39 L203.14 191.86 L201.42 191.33 L200.16 190.57 L199.21 189.67 L198.38 188.80 L197.65 187.97 L196.98 187.17 L196.38 186.43 L195.86 185.76 L195.34 185.11 L194.72 184.37 L194.08 183.59 L193.48 182.84 L192.92 182.11 L192.40 181.41 L192.00 180.63 L191.64 179.87 L191.30 179.13 L190.97 178.39 L190.63 177.65 L190.27 176.90 L189.89 176.13 L189.49 175.36 L189.07 174.57 L188.62 173.75 L188.15 172.89 L187.66 171.99 L187.13 171.05 L186.58 170.04 L186.01 168.98 L185.24 168.05 L184.43 167.07 L183.58 166.04 L182.71 164.98 L181.82 163.88 L180.91 162.77 L179.99 161.65 L179.08 160.52 L178.18 159.40 L177.29 158.29 L176.41 157.17 L175.53 156.03 L174.56 154.99 L173.61 153.95 L172.66 152.92 L171.71 151.90 L170.78 150.89 L169.85 149.91 L168.93 148.96 L168.01 148.04 L167.07 147.12 L166.13 146.21 L165.20 145.32 L164.26 144.44 L163.32 143.57 L162.39 142.73 L161.46 141.91 L160.53 141.11 L159.60 140.33 L158.67 139.58 L157.71 138.90 L156.75 138.24 L155.79 137.60 L154.83 136.99 L153.86 136.39 L152.89 135.81 L151.92 135.24 L150.95 134.69 L149.98 134.15 L149.00 133.62 L148.03 133.11 L147.07 132.62 L146.10 132.15 L145.13 131.69 L144.16 131.24 L143.19 130.81 L142.21 130.39 L141.24 129.99 L140.26 129.59 L139.29 129.20 L138.32 128.83 L137.34 128.48 L136.37 128.13 L135.40 127.80 L134.42 127.48 L133.45 127.17 L132.47 126.87 L131.49 126.59 L130.51 126.31 L129.53 126.04 L128.56 125.79 L127.60 125.55 L126.64 125.33 L125.69 125.11 L124.73 124.91 L123.76 124.71 L122.78 124.52 L121.78 124.34 L120.76 124.16 L119.72 123.98 L118.66 123.80 L117.59 123.63 L116.51 123.47 L115.42 123.31 L114.31 123.16 L113.18 123.01 L112.04 122.87 L110.87 122.73 L109.67 122.60 L108.45 122.48 L107.20 122.36 L105.91 122.25 L104.60 122.14 L103.26 122.04 L101.89 121.95 L100.52 121.86 L99.13 121.77 L97.73 121.69 L96.34 121.62 L94.94 121.55 L93.48 121.48 L91.90 121.42 L90.25 121.37 L88.58 121.32 L86.93 121.27 L85.34 121.23 L83.87 121.19 L82.55 121.16 L81.44 121.13 L80.57 121.11 Z" fill="url(#g601051017)"/>
<path d="M222.21 89.94 L223.97 92.82 L220.45 92.82 Z" stroke="#e0a028" stroke-width="0.90" fill="none"/>
<path d="M117.87 45.60 L119.63 48.48 L116.11 48.48 Z" stroke="#e0a028" stroke-width="0.90" fill="none"/>
<path d="M99.08 37.39 L100.84 40.27 L97.32 40.27 Z" stroke="#e09818" stroke-width="0.90" fill="none"/>
<path d="M191.38 101.21 L193.14 104.09 L189.62 104.09 Z" stroke="#c8b040" stroke-width="0.90" fill="none"/>
<path d="M202.86 108.40 L204.62 111.28 L201.10 111.28 Z" stroke="#e09818" stroke-width="0.90" fill="none"/>
<path d="M91.61 34.82 L93.37 37.70 L89.85 37.70 Z" stroke="#e0a028" stroke-width="0.90" fill="none"/>
<path d="M193.03 100.81 L194.79 103.69 L191.27 103.69 Z" stroke="#e0a028" stroke-width="0.90" fill="none"/>
<path d="M179.17 89.22 L180.93 92.10 L177.41 92.10 Z" stroke="#c8b040" stroke-width="0.90" fill="none"/>
<path d="M79.15 32.90 L80.91 35.78 L77.39 35.78 Z" stroke="#e09818" stroke-width="0.90" fill="none"/>
<path d="M207.26 114.74 L209.02 117.62 L205.50 117.62 Z" stroke="#e0a028" stroke-width="0.90" fill="none"/>
<path d="M176.92 89.70 L178.68 92.58 L175.16 92.58 Z" stroke="#e09818" stroke-width="0.90" fill="none"/>
<path d="M220.25 89.02 L222.01 91.90 L218.49 91.90 Z" stroke="#e09818" stroke-width="0.90" fill="none"/>
<path d="M220.49 89.29 L222.25 92.17 L218.73 92.17 Z" stroke="#c8b040" stroke-width="0.90" fill="none"/>
<path d="M155.46 66.80 L157.22 69.68 L153.70 69.68 Z" stroke="#c8b040" stroke-width="0.90" fill="none"/>
<path d="M94.65 35.57 L96.41 38.45 L92.89 38.45 Z" stroke="#e09818" stroke-width="0.90" fill="none"/>
<path d="M142.29 60.56 L144.05 63.44 L140.53 63.44 Z" stroke="#c8b040" stroke-width="0.90" fill="none"/>
<path d="M212.56 107.36 L214.32 110.24 L210.80 110.24 Z" stroke="#e09818" stroke-width="0.90" fill="none"/>
<path d="M169.83 81.65 L171.59 84.53 L168.07 84.53 Z" stroke="#e0a028" stroke-width="0.90" fill="none"/>
<path d="M166.84 79.08 L168.60 81.96 L165.08 81.96 Z" stroke="#c8b040" stroke-width="0.90" fill="none"/>
<path d="M103.83 39.29 L105.59 42.17 L102.07 42.17 Z" stroke="#e0a028" stroke-width="0.90" fill="none"/>
<path d="M78.27 32.58 L80.03 35.46 L76.51 35.46 Z" stroke="#e09818" stroke-width="0.90" fill="none"/>
<path d="M123.15 48.24 L124.91 51.12 L121.39 51.12 Z" stroke="#e09818" stroke-width="0.90" fill="none"/>
<path d="M87.68 33.84 L89.44 36.72 L85.92 36.72 Z" stroke="#d8a838" stroke-width="0.90" fill="none"/>
<path d="M217.47 91.76 L219.23 94.64 L215.71 94.64 Z" stroke="#e09818" stroke-width="0.90" fill="none"/>
<path d="M98.29 36.91 L100.05 39.79 L96.53 39.79 Z" stroke="#d8a838" stroke-width="0.90" fill="none"/>
<path d="M194.79 105.89 L196.55 108.77 L193.03 108.77 Z" stroke="#c8b040" stroke-width="0.90" fill="none"/>
<path d="M217.98 91.46 L219.74 94.34 L216.22 94.34 Z" stroke="#d8a838" stroke-width="0.90" fill="none"/>
<path d="M224.76 101.10 L226.52 103.98 L223.00 103.98 Z" stroke="#e0a028" stroke-width="0.90" fill="none"/>
<path d="M209.32 113.79 L211.08 116.67 L207.56 116.67 Z" stroke="#c8b040" stroke-width="0.90" fill="none"/>
<path d="M223.52 95.37 L225.28 98.25 L221.76 98.25 Z" stroke="#c8b040" stroke-width="0.90" fill="none"/>
<path d="M88.88 34.12 L90.64 37.00 L87.12 37.00 Z" stroke="#c8b040" stroke-width="0.90" fill="none"/>
<path d="M132.77 52.93 L134.53 55.81 L131.01 55.81 Z" stroke="#c8b040" stroke-width="0.90" fill="none"/>
<path d="M139.02 58.18 L140.78 61.06 L137.26 61.06 Z" stroke="#e0a028" stroke-width="0.90" fill="none"/>
<path d="M172.43 83.51 L174.19 86.39 L170.67 86.39 Z" stroke="#e09818" stroke-width="0.90" fill="none"/>
<path d="M137.32 55.16 L139.08 58.04 L135.56 58.04 Z" stroke="#d8a838" stroke-width="0.90" fill="none"/>
<path d="M161.42 72.60 L163.18 75.48 L159.66 75.48 Z" stroke="#e09818" stroke-width="0.90" fill="none"/>
<path d="M116.09 44.98 L117.85 47.86 L114.33 47.86 Z" stroke="#d8a838" stroke-width="0.90" fill="none"/>
<path d="M108.36 41.28 L110.12 44.16 L106.60 44.16 Z" stroke="#d8a838" stroke-width="0.90" fill="none"/>
<path d="M203.87 108.46 L205.63 111.34 L202.11 111.34 Z" stroke="#e09818" stroke-width="0.90" fill="none"/>
<path d="M225.02 104.50 L226.78 107.38 L223.26 107.38 Z" stroke="#d8a838" stroke-width="0.90" fill="none"/>
<path d="M214.69 111.29 L216.45 114.17 L212.93 114.17 Z" stroke="#c8b040" stroke-width="0.90" fill="none"/>
<path d="M93.33 35.31 L95.09 38.19 L91.57 38.19 Z" stroke="#e0a028" stroke-width="0.90" fill="none"/>
<path d="M227.81 121.37 L229.57 124.25 L226.05 124.25 Z" stroke="#e0a028" stroke-width="0.90" fill="none"/>
<path d="M213.71 99.47 L215.47 102.35 L211.95 102.35 Z" stroke="#d8a838" stroke-width="0.90" fill="none"/>
<path d="M97.17 36.57 L98.93 39.45 L95.41 39.45 Z" stroke="#e09818" stroke-width="0.90" fill="none"/>
<path d="M222.58 91.33 L224.34 94.21 L220.82 94.21 Z" stroke="#c8b040" stroke-width="0.90" fill="none"/>
<path d="M155.24 68.75 L157.00 71.63 L153.48 71.63 Z" stroke="#e09818" stroke-width="0.90" fill="none"/>
<path d="M227.85 119.98 L229.61 122.86 L226.09 122.86 Z" stroke="#d8a838" stroke-width="0.90" fill="none"/>
<path d="M157.87 68.45 L159.63 71.33 L156.11 71.33 Z" stroke="#e09818" stroke-width="0.90" fill="none"/>
<path d="M178.84 89.45 L180.60 92.33 L177.08 92.33 Z" stroke="#d8a838" stroke-width="0.90" fill="none"/>
<path d="M192.56 101.83 L194.32 104.71 L190.80 104.71 Z" stroke="#c8b040" stroke-width="0.90" fill="none"/>
<path d="M213.20 102.43 L214.96 105.31 L211.44 105.31 Z" stroke="#c8b040" stroke-width="0.90" fill="none"/>
<path d="M131.61 54.26 L133.37 57.14 L129.85 57.14 Z" stroke="#e0a028" stroke-width="0.90" fill="none"/>
<path d="M179.28 88.85 L181.04 91.73 L177.52 91.73 Z" stroke="#d8a838" stroke-width="0.90" fill="none"/>
<path d="M203.61 109.55 L205.37 112.43 L201.85 112.43 Z" stroke="#d8a838" stroke-width="0.90" fill="none"/>
<path d="M120.64 47.00 L122.40 49.88 L118.88 49.88 Z" stroke="#e0a028" stroke-width="0.90" fill="none"/>
<path d="M223.25 94.99 L225.01 97.87 L221.49 97.87 Z" stroke="#e0a028" stroke-width="0.90" fill="none"/>
<path d="M107.53 41.01 L109.29 43.89 L105.77 43.89 Z" stroke="#e09818" stroke-width="0.90" fill="none"/>
<path d="M203.67 113.08 L205.43 115.96 L201.91 115.96 Z" stroke="#c8b040" stroke-width="0.90" fill="none"/>
<path d="M171.48 81.81 L173.24 84.69 L169.72 84.69 Z" stroke="#c8b040" stroke-width="0.90" fill="none"/>
<path d="M156.52 68.12 L158.28 71.00 L154.76 71.00 Z" stroke="#c8b040" stroke-width="0.90" fill="none"/>
<path d="M145.22 59.70 L146.98 62.58 L143.46 62.58 Z" stroke="#d8a838" stroke-width="0.90" fill="none"/>
<path d="M222.66 93.45 L224.42 96.33 L220.90 96.33 Z" stroke="#d8a838" stroke-width="0.90" fill="none"/>
<path d="M201.56 108.09 L203.32 110.97 L199.80 110.97 Z" stroke="#e0a028" stroke-width="0.90" fill="none"/>
<path d="M160.31 71.71 L162.07 74.59 L158.55 74.59 Z" stroke="#e0a028" stroke-width="0.90" fill="none"/>
<path d="M213.85 98.67 L215.61 101.55 L212.09 101.55 Z" stroke="#e09818" stroke-width="0.90" fill="none"/>
<path d="M167.29 78.06 L169.05 80.94 L165.53 80.94 Z" stroke="#e09818" stroke-width="0.90" fill="none"/>
<path d="M207.54 113.72 L209.30 116.60 L205.78 116.60 Z" stroke="#c8b040" stroke-width="0.90" fill="none"/>
<path d="M132.46 53.02 L134.22 55.90 L130.70 55.90 Z" stroke="#e09818" stroke-width="0.90" fill="none"/>
<path d="M116.60 45.37 L118.36 48.25 L114.84 48.25 Z" stroke="#d8a838" stroke-width="0.90" fill="none"/>
<path d="M183.23 91.61 L184.99 94.49 L181.47 94.49 Z" stroke="#e0a028" stroke-width="0.90" fill="none"/>
<path d="M158.88 69.01 L160.64 71.89 L157.12 71.89 Z" stroke="#e0a028" stroke-width="0.90" fill="none"/>
<path d="M97.75 36.49 L99.51 39.37 L95.99 39.37 Z" stroke="#c8b040" stroke-width="0.90" fill="none"/>
<path d="M120.62 46.21 L122.38 49.09 L118.86 49.09 Z" stroke="#e09818" stroke-width="0.90" fill="none"/>
<path d="M155.52 67.27 L157.28 70.15 L153.76 70.15 Z" stroke="#d8a838" stroke-width="0.90" fill="none"/>
<path d="M169.90 81.07 L171.66 83.95 L168.14 83.95 Z" stroke="#e0a028" stroke-width="0.90" fill="none"/>
<path d="M100.26 37.46 L102.02 40.34 L98.50 40.34 Z" stroke="#e09818" stroke-width="0.90" fill="none"/>
<path d="M124.06 47.73 L125.82 50.61 L122.30 50.61 Z" stroke="#e09818" stroke-width="0.90" fill="none"/>
<path d="M226.87 116.47 L228.63 119.35 L225.11 119.35 Z" stroke="#e09818" stroke-width="0.90" fill="none"/>
<path d="M149.55 64.84 L151.31 67.72 L147.79 67.72 Z" stroke="#c8b040" stroke-width="0.90" fill="none"/>
<path d="M148.79 63.29 L150.55 66.17 L147.03 66.17 Z" stroke="#e0a028" stroke-width="0.90" fill="none"/>
<path d="M216.09 96.40 L217.85 99.28 L214.33 99.28 Z" stroke="#e09818" stroke-width="0.90" fill="none"/>
<path d="M115.38 44.69 L117.14 47.57 L113.62 47.57 Z" stroke="#e0a028" stroke-width="0.90" fill="none"/>
<path d="M228.17 121.40 L229.93 124.28 L226.41 124.28 Z" stroke="#c8b040" stroke-width="0.90" fill="none"/>
<path d="M225.76 109.43 L227.52 112.31 L224.00 112.31 Z" stroke="#e0a028" stroke-width="0.90" fill="none"/>
<path d="M166.12 76.95 L167.88 79.83 L164.36 79.83 Z" stroke="#e0a028" stroke-width="0.90" fill="none"/>
<path d="M180.19 89.30 L181.95 92.18 L178.43 92.18 Z" stroke="#c8b040" stroke-width="0.90" fill="none"/>
<path d="M226.36 111.40 L228.12 114.28 L224.60 114.28 Z" stroke="#e0a028" stroke-width="0.90" fill="none"/>
<path d="M141.13 59.49 L142.89 62.37 L139.37 62.37 Z" stroke="#c8b040" stroke-width="0.90" fill="none"/>
<path d="M121.22 47.09 L122.98 49.97 L119.46 49.97 Z" stroke="#e09818" stroke-width="0.90" fill="none"/>
<path d="M191.99 103.59 L193.75 106.47 L190.23 106.47 Z" stroke="#c8b040" stroke-width="0.90" fill="none"/>
<path d="M184.04 92.15 L185.80 95.03 L182.28 95.03 Z" stroke="#e09818" stroke-width="0.90" fill="none"/>
<path d="M174.54 85.04 L176.30 87.92 L172.78 87.92 Z" stroke="#c8b040" stroke-width="0.90" fill="none"/>
<path d="M225.19 103.83 L226.95 106.71 L223.43 106.71 Z" stroke="#c8b040" stroke-width="0.90" fill="none"/>
<path d="M134.65 54.91 L136.41 57.79 L132.89 57.79 Z" stroke="#c8b040" stroke-width="0.90" fill="none"/>
<path d="M179.04 91.34 L180.80 94.22 L177.28 94.22 Z" stroke="#c8b040" stroke-width="0.90" fill="none"/>
<path d="M196.44 103.17 L198.20 106.05 L194.68 106.05 Z" stroke="#e09818" stroke-width="0.90" fill="none"/>
<path d="M86.17 33.58 L87.93 36.46 L84.41 36.46 Z" stroke="#e09818" stroke-width="0.90" fill="none"/>
<path d="M208.70 113.64 L210.46 116.52 L206.94 116.52 Z" stroke="#e09818" stroke-width="0.90" fill="none"/>
<path d="M175.81 86.51 L177.57 89.39 L174.05 89.39 Z" stroke="#d8a838" stroke-width="0.90" fill="none"/>
<path d="M205.58 114.00 L207.34 116.88 L203.82 116.88 Z" stroke="#c8b040" stroke-width="0.90" fill="none"/>
<path d="M216.68 92.72 L218.44 95.60 L214.92 95.60 Z" stroke="#e0a028" stroke-width="0.90" fill="none"/>
<path d="M222.57 91.42 L224.33 94.30 L220.81 94.30 Z" stroke="#e0a028" stroke-width="0.90" fill="none"/>
<path d="M128.05 50.14 L129.81 53.02 L126.29 53.02 Z" stroke="#d8a838" stroke-width="0.90" fill="none"/>
<path d="M224.15 99.90 L225.91 102.78 L222.39 102.78 Z" stroke="#e0a028" stroke-width="0.90" fill="none"/>
<path d="M213.92 103.01 L215.68 105.89 L212.16 105.89 Z" stroke="#e09818" stroke-width="0.90" fill="none"/>
<path d="M107.36 41.05 L109.12 43.93 L105.60 43.93 Z" stroke="#e09818" stroke-width="0.90" fill="none"/>
<path d="M165.88 75.43 L167.64 78.31 L164.12 78.31 Z" stroke="#e0a028" stroke-width="0.90" fill="none"/>
<path d="M121.22 46.93 L122.98 49.81 L119.46 49.81 Z" stroke="#d8a838" stroke-width="0.90" fill="none"/>
<path d="M224.99 101.73 L226.75 104.61 L223.23 104.61 Z" stroke="#e09818" stroke-width="0.90" fill="none"/>
<path d="M209.42 111.48 L211.18 114.36 L207.66 114.36 Z" stroke="#e0a028" stroke-width="0.90" fill="none"/>
<path d="M215.05 97.59 L216.81 100.47 L213.29 100.47 Z" stroke="#e09818" stroke-width="0.90" fill="none"/>
<path d="M86.64 33.48 L88.40 36.36 L84.88 36.36 Z" stroke="#e0a028" stroke-width="0.90" fill="none"/>
<path d="M118.61 46.58 L120.37 49.46 L116.85 49.46 Z" stroke="#e0a028" stroke-width="0.90" fill="none"/>
<path d="M218.37 89.50 L220.13 92.38 L216.61 92.38 Z" stroke="#e09818" stroke-width="0.90" fill="none"/>
<path d="M107.65 40.71 L109.41 43.59 L105.89 43.59 Z" stroke="#e09818" stroke-width="0.90" fill="none"/>
<path d="M212.73 105.85 L214.49 108.73 L210.97 108.73 Z" stroke="#c8b040" stroke-width="0.90" fill="none"/>
<path d="M122.99 48.21 L124.75 51.09 L121.23 51.09 Z" stroke="#e09818" stroke-width="0.90" fill="none"/>
<path d="M219.77 89.33 L221.53 92.21 L218.01 92.21 Z" stroke="#c8b040" stroke-width="0.90" fill="none"/>
<path d="M225.07 104.10 L226.83 106.98 L223.31 106.98 Z" stroke="#e09818" stroke-width="0.90" fill="none"/>
<path d="M176.84 89.69 L178.60 92.57 L175.08 92.57 Z" stroke="#c8b040" stroke-width="0.90" fill="none"/>
<path d="M186.59 98.02 L188.35 100.90 L184.83 100.90 Z" stroke="#d8a838" stroke-width="0.90" fill="none"/>
<path d="M215.51 97.26 L217.27 100.14 L213.75 100.14 Z" stroke="#e0a028" stroke-width="0.90" fill="none"/>
<path d="M216.02 95.06 L217.78 97.94 L214.26 97.94 Z" stroke="#d8a838" stroke-width="0.90" fill="none"/>
<path d="M223.47 94.84 L225.23 97.72 L221.71 97.72 Z" stroke="#c8b040" stroke-width="0.90" fill="none"/>
<path d="M122.19 48.17 L123.95 51.05 L120.43 51.05 Z" stroke="#d8a838" stroke-width="0.90" fill="none"/>
<path d="M140.54 59.27 L142.30 62.15 L138.78 62.15 Z" stroke="#e09818" stroke-width="0.90" fill="none"/>
<path d="M128.15 49.75 L129.91 52.63 L126.39 52.63 Z" stroke="#d8a838" stroke-width="0.90" fill="none"/>
<path d="M148.32 62.22 L150.08 65.10 L146.56 65.10 Z" stroke="#c8b040" stroke-width="0.90" fill="none"/>
<path d="M178.15 88.89 L179.91 91.77 L176.39 91.77 Z" stroke="#e0a028" stroke-width="0.90" fill="none"/>
<path d="M212.75 111.60 L214.51 114.48 L210.99 114.48 Z" stroke="#e09818" stroke-width="0.90" fill="none"/>
<path d="M210.30 111.21 L212.06 114.09 L208.54 114.09 Z" stroke="#c8b040" stroke-width="0.90" fill="none"/>
<path d="M177.01 86.83 L178.77 89.71 L175.25 89.71 Z" stroke="#d8a838" stroke-width="0.90" fill="none"/>
<path d="M131.77 52.12 L133.53 55.00 L130.01 55.00 Z" stroke="#c8b040" stroke-width="0.90" fill="none"/>
<path d="M226.54 114.19 L228.30 117.07 L224.78 117.07 Z" stroke="#e09818" stroke-width="0.90" fill="none"/>
<path d="M184.25 93.75 L186.01 96.63 L182.49 96.63 Z" stroke="#e09818" stroke-width="0.90" fill="none"/>
<path d="M157.76 67.77 L159.52 70.65 L156.00 70.65 Z" stroke="#c8b040" stroke-width="0.90" fill="none"/>
<path d="M182.86 92.78 L184.62 95.66 L181.10 95.66 Z" stroke="#c8b040" stroke-width="0.90" fill="none"/>
<path d="M225.68 109.33 L227.44 112.21 L223.92 112.21 Z" stroke="#d8a838" stroke-width="0.90" fill="none"/>
<path d="M180.71 91.29 L182.47 94.17 L178.95 94.17 Z" stroke="#d8a838" stroke-width="0.90" fill="none"/>
<path d="M185.30 96.41 L187.06 99.29 L183.54 99.29 Z" stroke="#e09818" stroke-width="0.90" fill="none"/>
<path d="M212.81 104.07 L214.57 106.95 L211.05 106.95 Z" stroke="#e0a028" stroke-width="0.90" fill="none"/>
<path d="M161.52 71.33 L163.28 74.21 L159.76 74.21 Z" stroke="#c8b040" stroke-width="0.90" fill="none"/>
<path d="M89.63 33.88 L91.39 36.76 L87.87 36.76 Z" stroke="#d8a838" stroke-width="0.90" fill="none"/>
<path d="M94.80 35.47 L96.56 38.35 L93.04 38.35 Z" stroke="#e0a028" stroke-width="0.90" fill="none"/>
<path d="M88.45 34.02 L90.21 36.90 L86.69 36.90 Z" stroke="#c8b040" stroke-width="0.90" fill="none"/>
<path d="M109.83 41.33 L111.59 44.21 L108.07 44.21 Z" stroke="#e09818" stroke-width="0.90" fill="none"/>
<path d="M196.07 105.39 L197.83 108.27 L194.31 108.27 Z" stroke="#e0a028" stroke-width="0.90" fill="none"/>
<path d="M222.29 90.92 L224.05 93.80 L220.53 93.80 Z" stroke="#e0a028" stroke-width="0.90" fill="none"/>
<path d="M205.52 110.45 L207.28 113.33 L203.76 113.33 Z" stroke="#d8a838" stroke-width="0.90" fill="none"/>
<path d="M199.64 106.84 L201.40 109.72 L197.88 109.72 Z" stroke="#e0a028" stroke-width="0.90" fill="none"/>
<path d="M226.18 110.94 L227.94 113.82 L224.42 113.82 Z" stroke="#e0a028" stroke-width="0.90" fill="none"/>
<path d="M172.48 84.10 L174.24 86.98 L170.72 86.98 Z" stroke="#d8a838" stroke-width="0.90" fill="none"/>
<path d="M135.88 55.22 L137.64 58.10 L134.12 58.10 Z" stroke="#e0a028" stroke-width="0.90" fill="none"/>
<path d="M198.32 106.05 L200.08 108.93 L196.56 108.93 Z" stroke="#e0a028" stroke-width="0.90" fill="none"/>
<path d="M222.91 94.74 L224.67 97.62 L221.15 97.62 Z" stroke="#e09818" stroke-width="0.90" fill="none"/>
<path d="M80.24 32.93 L82.00 35.81 L78.48 35.81 Z" stroke="#e0a028" stroke-width="0.90" fill="none"/>
<path d="M181.68 93.99 L183.44 96.87 L179.92 96.87 Z" stroke="#e09818" stroke-width="0.90" fill="none"/>
<path d="M224.41 102.18 L226.17 105.06 L222.65 105.06 Z" stroke="#c8b040" stroke-width="0.90" fill="none"/>
<path d="M171.54 84.42 L173.30 87.30 L169.78 87.30 Z" stroke="#d8a838" stroke-width="0.90" fill="none"/>
<path d="M174.09 86.79 L175.85 89.67 L172.33 89.67 Z" stroke="#c8b040" stroke-width="0.90" fill="none"/>
<path d="M215.29 96.16 L217.05 99.04 L213.53 99.04 Z" stroke="#e0a028" stroke-width="0.90" fill="none"/>
<path d="M167.11 77.46 L168.87 80.34 L165.35 80.34 Z" stroke="#e0a028" stroke-width="0.90" fill="none"/>
<path d="M204.22 107.24 L205.98 110.12 L202.46 110.12 Z" stroke="#d8a838" stroke-width="0.90" fill="none"/>
<path d="M139.25 56.61 L141.01 59.49 L137.49 59.49 Z" stroke="#d8a838" stroke-width="0.90" fill="none"/>
<path d="M189.03 98.94 L190.79 101.82 L187.27 101.82 Z" stroke="#d8a838" stroke-width="0.90" fill="none"/>
<path d="M95.72 36.27 L97.48 39.15 L93.96 39.15 Z" stroke="#c8b040" stroke-width="0.90" fill="none"/>
<path d="M140.87 57.41 L142.63 60.29 L139.11 60.29 Z" stroke="#e09818" stroke-width="0.90" fill="none"/>
<path d="M143.34 58.31 L145.10 61.19 L141.58 61.19 Z" stroke="#c8b040" stroke-width="0.90" fill="none"/>
<path d="M206.94 112.86 L208.70 115.74 L205.18 115.74 Z" stroke="#d8a838" stroke-width="0.90" fill="none"/>
<path d="M223.19 95.34 L224.95 98.22 L221.43 98.22 Z" stroke="#e09818" stroke-width="0.90" fill="none"/>
<path d="M145.07 60.88 L146.83 63.76 L143.31 63.76 Z" stroke="#d8a838" stroke-width="0.90" fill="none"/>
<path d="M166.20 76.25 L167.96 79.13 L164.44 79.13 Z" stroke="#c8b040" stroke-width="0.90" fill="none"/>
<path d="M226.69 114.31 L228.45 117.19 L224.93 117.19 Z" stroke="#e0a028" stroke-width="0.90" fill="none"/>
<path d="M97.11 36.33 L98.87 39.21 L95.35 39.21 Z" stroke="#c8b040" stroke-width="0.90" fill="none"/>
<path d="M214.19 98.94 L215.95 101.82 L212.43 101.82 Z" stroke="#d8a838" stroke-width="0.90" fill="none"/>
<path d="M214.57 98.81 L216.33 101.69 L212.81 101.69 Z" stroke="#e0a028" stroke-width="0.90" fill="none"/>
<path d="M98.18 36.95 L99.94 39.83 L96.42 39.83 Z" stroke="#d8a838" stroke-width="0.90" fill="none"/>
<path d="M216.06 95.75 L217.82 98.63 L214.30 98.63 Z" stroke="#d8a838" stroke-width="0.90" fill="none"/>
<path d="M226.58 114.02 L228.34 116.90 L224.82 116.90 Z" stroke="#c8b040" stroke-width="0.90" fill="none"/>
<path d="M92.66 34.96 L94.42 37.84 L90.90 37.84 Z" stroke="#e09818" stroke-width="0.90" fill="none"/>
<path d="M135.07 56.13 L136.83 59.01 L133.31 59.01 Z" stroke="#d8a838" stroke-width="0.90" fill="none"/>
<path d="M97.15 36.46 L98.91 39.34 L95.39 39.34 Z" stroke="#c8b040" stroke-width="0.90" fill="none"/>
<path d="M129.97 52.61 L131.73 55.49 L128.21 55.49 Z" stroke="#d8a838" stroke-width="0.90" fill="none"/>
<path d="M212.59 105.82 L214.35 108.70 L210.83 108.70 Z" stroke="#e0a028" stroke-width="0.90" fill="none"/>
<path d="M174.70 85.76 L176.46 88.64 L172.94 88.64 Z" stroke="#e09818" stroke-width="0.90" fill="none"/>
<path d="M205.15 111.32 L206.91 114.20 L203.39 114.20 Z" stroke="#d8a838" stroke-width="0.90" fill="none"/>
<path d="M221.78 89.33 L223.54 92.21 L220.02 92.21 Z" stroke="#e09818" stroke-width="0.90" fill="none"/>
<path d="M224.08 96.71 L225.84 99.59 L222.32 99.59 Z" stroke="#e09818" stroke-width="0.90" fill="none"/>
<path d="M215.10 97.75 L216.86 100.63 L213.34 100.63 Z" stroke="#c8b040" stroke-width="0.90" fill="none"/>
<path d="M224.57 102.75 L226.33 105.63 L222.81 105.63 Z" stroke="#e0a028" stroke-width="0.90" fill="none"/>
<path d="M144.69 60.81 L146.45 63.69 L142.93 63.69 Z" stroke="#d8a838" stroke-width="0.90" fill="none"/>
<path d="M136.06 54.58 L137.82 57.46 L134.30 57.46 Z" stroke="#d8a838" stroke-width="0.90" fill="none"/>
<path d="M202.01 107.35 L203.77 110.23 L200.25 110.23 Z" stroke="#e0a028" stroke-width="0.90" fill="none"/>
<path d="M224.85 101.94 L226.61 104.82 L223.09 104.82 Z" stroke="#e09818" stroke-width="0.90" fill="none"/>
<path d="M142.80 60.28 L144.56 63.16 L141.04 63.16 Z" stroke="#d8a838" stroke-width="0.90" fill="none"/>
<path d="M124.38 49.16 L126.14 52.04 L122.62 52.04 Z" stroke="#e0a028" stroke-width="0.90" fill="none"/>
<path d="M166.93 76.77 L168.69 79.65 L165.17 79.65 Z" stroke="#c8b040" stroke-width="0.90" fill="none"/>
<path d="M115.56 44.15 L117.32 47.03 L113.80 47.03 Z" stroke="#c8b040" stroke-width="0.90" fill="none"/>
<path d="M221.65 89.49 L223.41 92.37 L219.89 92.37 Z" stroke="#c8b040" stroke-width="0.90" fill="none"/>
<path d="M224.60 102.45 L226.36 105.33 L222.84 105.33 Z" stroke="#c8b040" stroke-width="0.90" fill="none"/>
<path d="M222.41 91.20 L224.17 94.08 L220.65 94.08 Z" stroke="#e0a028" stroke-width="0.90" fill="none"/>
<path d="M226.06 109.79 L227.82 112.67 L224.30 112.67 Z" stroke="#d8a838" stroke-width="0.90" fill="none"/>
<path d="M214.75 101.06 L216.51 103.94 L212.99 103.94 Z" stroke="#e0a028" stroke-width="0.90" fill="none"/>
<path d="M224.17 97.50 L225.93 100.38 L222.41 100.38 Z" stroke="#e0a028" stroke-width="0.90" fill="none"/>
<path d="M205.40 114.75 L207.16 117.63 L203.64 117.63 Z" stroke="#e0a028" stroke-width="0.90" fill="none"/>
<path d="M162.72 72.39 L164.48 75.27 L160.96 75.27 Z" stroke="#e0a028" stroke-width="0.90" fill="none"/>
<path d="M199.99 105.79 L201.75 108.67 L198.23 108.67 Z" stroke="#d8a838" stroke-width="0.90" fill="none"/>
<path d="M177.46 90.10 L179.22 92.98 L175.70 92.98 Z" stroke="#e0a028" stroke-width="0.90" fill="none"/>
<path d="M216.05 93.42 L217.81 96.30 L214.29 96.30 Z" stroke="#e0a028" stroke-width="0.90" fill="none"/>
<path d="M96.59 36.48 L98.35 39.36 L94.83 39.36 Z" stroke="#c8b040" stroke-width="0.90" fill="none"/>
<path d="M208.51 115.42 L210.27 118.30 L206.75 118.30 Z" stroke="#d8a838" stroke-width="0.90" fill="none"/>
<path d="M82.39 33.13 L84.15 36.01 L80.63 36.01 Z" stroke="#c8b040" stroke-width="0.90" fill="none"/>
<path d="M122.77 47.79 L124.53 50.67 L121.01 50.67 Z" stroke="#c8b040" stroke-width="0.90" fill="none"/>
<path d="M112.51 42.66 L114.27 45.54 L110.75 45.54 Z" stroke="#e09818" stroke-width="0.90" fill="none"/>
<path d="M186.14 94.00 L187.90 96.88 L184.38 96.88 Z" stroke="#e09818" stroke-width="0.90" fill="none"/>
<path d="M152.51 64.83 L154.27 67.71 L150.75 67.71 Z" stroke="#c8b040" stroke-width="0.90" fill="none"/>
<path d="M209.43 109.12 L211.19 112.00 L207.67 112.00 Z" stroke="#e09818" stroke-width="0.90" fill="none"/>
<path d="M200.57 110.22 L202.33 113.10 L198.81 113.10 Z" stroke="#e0a028" stroke-width="0.90" fill="none"/>
<path d="M138.94 58.32 L140.70 61.20 L137.18 61.20 Z" stroke="#e09818" stroke-width="0.90" fill="none"/>
<path d="M222.15 89.76 L223.91 92.64 L220.39 92.64 Z" stroke="#e0a028" stroke-width="0.90" fill="none"/>
<path d="M138.67 57.40 L140.43 60.28 L136.91 60.28 Z" stroke="#d8a838" stroke-width="0.90" fill="none"/>
<path d="M226.24 111.26 L228.00 114.14 L224.48 114.14 Z" stroke="#e0a028" stroke-width="0.90" fill="none"/>
<path d="M121.15 46.71 L122.91 49.59 L119.39 49.59 Z" stroke="#d8a838" stroke-width="0.90" fill="none"/>
<path d="M142.36 59.78 L144.12 62.66 L140.60 62.66 Z" stroke="#c8b040" stroke-width="0.90" fill="none"/>
<path d="M217.44 92.59 L219.20 95.47 L215.68 95.47 Z" stroke="#e0a028" stroke-width="0.90" fill="none"/>
<path d="M194.73 105.81 L196.49 108.69 L192.97 108.69 Z" stroke="#e0a028" stroke-width="0.90" fill="none"/>
<path d="M160.54 70.10 L162.30 72.98 L158.78 72.98 Z" stroke="#e09818" stroke-width="0.90" fill="none"/>
<path d="M100.36 38.10 L102.12 40.98 L98.60 40.98 Z" stroke="#e09818" stroke-width="0.90" fill="none"/>
<path d="M149.28 62.32 L151.04 65.20 L147.52 65.20 Z" stroke="#e0a028" stroke-width="0.90" fill="none"/>
<path d="M201.80 107.31 L203.56 110.19 L200.04 110.19 Z" stroke="#d8a838" stroke-width="0.90" fill="none"/>
<path d="M225.06 103.98 L226.82 106.86 L223.30 106.86 Z" stroke="#c8b040" stroke-width="0.90" fill="none"/>
<path d="M193.97 104.00 L195.73 106.88 L192.21 106.88 Z" stroke="#e09818" stroke-width="0.90" fill="none"/>
<path d="M132.71 54.51 L134.47 57.39 L130.95 57.39 Z" stroke="#d8a838" stroke-width="0.90" fill="none"/>
<path d="M200.21 109.59 L201.97 112.47 L198.45 112.47 Z" stroke="#d8a838" stroke-width="0.90" fill="none"/>
<path d="M216.68 92.72 L218.44 95.60 L214.92 95.60 Z" stroke="#e0a028" stroke-width="0.90" fill="none"/>
<path d="M131.88 53.10 L133.64 55.98 L130.12 55.98 Z" stroke="#e0a028" stroke-width="0.90" fill="none"/>
<path d="M187.34 98.68 L189.10 101.56 L185.58 101.56 Z" stroke="#e0a028" stroke-width="0.90" fill="none"/>
<path d="M185.85 98.08 L187.61 100.96 L184.09 100.96 Z" stroke="#e0a028" stroke-width="0.90" fill="none"/>
<path d="M130.22 51.92 L131.98 54.80 L128.46 54.80 Z" stroke="#d8a838" stroke-width="0.90" fill="none"/>
<path d="M147.05 60.54 L148.81 63.42 L145.29 63.42 Z" stroke="#e09818" stroke-width="0.90" fill="none"/>
<path d="M168.31 78.89 L170.07 81.77 L166.55 81.77 Z" stroke="#e0a028" stroke-width="0.90" fill="none"/>
<path d="M224.38 100.17 L226.14 103.05 L222.62 103.05 Z" stroke="#d8a838" stroke-width="0.90" fill="none"/>
<path d="M114.73 43.79 L116.49 46.67 L112.97 46.67 Z" stroke="#d8a838" stroke-width="0.90" fill="none"/>
<path d="M191.68 102.81 L193.44 105.69 L189.92 105.69 Z" stroke="#d8a838" stroke-width="0.90" fill="none"/>
<path d="M129.51 51.45 L131.27 54.33 L127.75 54.33 Z" stroke="#e0a028" stroke-width="0.90" fill="none"/>
<path d="M118.08 45.63 L119.84 48.51 L116.32 48.51 Z" stroke="#e0a028" stroke-width="0.90" fill="none"/>
<path d="M212.93 101.70 L214.69 104.58 L211.17 104.58 Z" stroke="#e0a028" stroke-width="0.90" fill="none"/>
<path d="M142.49 58.60 L144.25 61.48 L140.73 61.48 Z" stroke="#e09818" stroke-width="0.90" fill="none"/>
<path d="M112.50 43.21 L114.26 46.09 L110.74 46.09 Z" stroke="#e09818" stroke-width="0.90" fill="none"/>
<path d="M109.28 41.76 L111.04 44.64 L107.52 44.64 Z" stroke="#e0a028" stroke-width="0.90" fill="none"/>
<path d="M133.70 54.12 L135.46 57.00 L131.94 57.00 Z" stroke="#d8a838" stroke-width="0.90" fill="none"/>
<path d="M90.36 34.16 L92.12 37.04 L88.60 37.04 Z" stroke="#c8b040" stroke-width="0.90" fill="none"/>
<path d="M226.30 112.45 L228.06 115.33 L224.54 115.33 Z" stroke="#c8b040" stroke-width="0.90" fill="none"/>
<path d="M150.10 62.61 L151.86 65.49 L148.34 65.49 Z" stroke="#c8b040" stroke-width="0.90" fill="none"/>
<path d="M210.96 108.35 L212.72 111.23 L209.20 111.23 Z" stroke="#c8b040" stroke-width="0.90" fill="none"/>
<path d="M218.11 89.97 L219.87 92.85 L216.35 92.85 Z" stroke="#e09818" stroke-width="0.90" fill="none"/>
<path d="M224.42 100.44 L226.18 103.32 L222.66 103.32 Z" stroke="#c8b040" stroke-width="0.90" fill="none"/>
<path d="M162.55 74.57 L164.31 77.45 L160.79 77.45 Z" stroke="#c8b040" stroke-width="0.90" fill="none"/>
<path d="M208.27 112.07 L210.03 114.95 L206.51 114.95 Z" stroke="#d8a838" stroke-width="0.90" fill="none"/>
<path d="M223.75 95.40 L225.51 98.28 L221.99 98.28 Z" stroke="#e0a028" stroke-width="0.90" fill="none"/>
<path d="M175.96 87.36 L177.72 90.24 L174.20 90.24 Z" stroke="#e09818" stroke-width="0.90" fill="none"/>
<path d="M170.88 84.27 L172.64 87.15 L169.12 87.15 Z" stroke="#c8b040" stroke-width="0.90" fill="none"/>
<path d="M225.88 108.15 L227.64 111.03 L224.12 111.03 Z" stroke="#d8a838" stroke-width="0.90" fill="none"/>
<path d="M222.64 92.01 L224.40 94.89 L220.88 94.89 Z" stroke="#c8b040" stroke-width="0.90" fill="none"/>
<path d="M187.69 95.79 L189.45 98.67 L185.93 98.67 Z" stroke="#e09818" stroke-width="0.90" fill="none"/>
<path d="M178.22 90.48 L179.98 93.36 L176.46 93.36 Z" stroke="#c8b040" stroke-width="0.90" fill="none"/>
<path d="M78.27 32.77 L80.03 35.65 L76.51 35.65 Z" stroke="#d8a838" stroke-width="0.90" fill="none"/>
<path d="M83.52 33.25 L85.28 36.13 L81.76 36.13 Z" stroke="#c8b040" stroke-width="0.90" fill="none"/>
<path d="M109.06 41.31 L110.82 44.19 L107.30 44.19 Z" stroke="#e0a028" stroke-width="0.90" fill="none"/>
<path d="M88.54 34.08 L90.30 36.96 L86.78 36.96 Z" stroke="#c8b040" stroke-width="0.90" fill="none"/>
<path d="M109.50 41.40 L111.26 44.28 L107.74 44.28 Z" stroke="#c8b040" stroke-width="0.90" fill="none"/>
<path d="M223.03 94.70 L224.79 97.58 L221.27 97.58 Z" stroke="#e09818" stroke-width="0.90" fill="none"/>
<path d="M120.30 46.16 L122.06 49.04 L118.54 49.04 Z" stroke="#d8a838" stroke-width="0.90" fill="none"/>
<path d="M223.79 99.21 L225.55 102.09 L222.03 102.09 Z" stroke="#e0a028" stroke-width="0.90" fill="none"/>
<path d="M180.63 92.28 L182.39 95.16 L178.87 95.16 Z" stroke="#e09818" stroke-width="0.90" fill="none"/>
<path d="M200.81 108.93 L202.57 111.81 L199.05 111.81 Z" stroke="#d8a838" stroke-width="0.90" fill="none"/>
<path d="M223.01 92.60 L224.77 95.48 L221.25 95.48 Z" stroke="#e0a028" stroke-width="0.90" fill="none"/>
<path d="M148.19 61.18 L149.95 64.06 L146.43 64.06 Z" stroke="#e0a028" stroke-width="0.90" fill="none"/>
<path d="M125.66 49.69 L127.42 52.57 L123.90 52.57 Z" stroke="#e0a028" stroke-width="0.90" fill="none"/>
<path d="M134.89 54.39 L136.65 57.27 L133.13 57.27 Z" stroke="#d8a838" stroke-width="0.90" fill="none"/>
<path d="M154.86 66.51 L156.62 69.39 L153.10 69.39 Z" stroke="#e09818" stroke-width="0.90" fill="none"/>
<path d="M190.05 100.85 L191.81 103.73 L188.29 103.73 Z" stroke="#e0a028" stroke-width="0.90" fill="none"/>
<path d="M136.33 55.38 L138.09 58.26 L134.57 58.26 Z" stroke="#e09818" stroke-width="0.90" fill="none"/>
<path d="M168.87 82.13 L170.63 85.01 L167.11 85.01 Z" stroke="#e09818" stroke-width="0.90" fill="none"/>
<path d="M79.69 32.78 L81.45 35.66 L77.93 35.66 Z" stroke="#d8a838" stroke-width="0.90" fill="none"/>
<path d="M163.68 74.11 L165.44 76.99 L161.92 76.99 Z" stroke="#e0a028" stroke-width="0.90" fill="none"/>
<path d="M130.12 52.57 L131.88 55.45 L128.36 55.45 Z" stroke="#e09818" stroke-width="0.90" fill="none"/>
<path d="M118.46 45.25 L120.22 48.13 L116.70 48.13 Z" stroke="#c8b040" stroke-width="0.90" fill="none"/>
<path d="M224.87 102.89 L226.63 105.77 L223.11 105.77 Z" stroke="#e09818" stroke-width="0.90" fill="none"/>
<path d="M225.23 105.76 L226.99 108.64 L223.47 108.64 Z" stroke="#d8a838" stroke-width="0.90" fill="none"/>
<path d="M144.81 60.58 L146.57 63.46 L143.05 63.46 Z" stroke="#e09818" stroke-width="0.90" fill="none"/>
<circle cx="173.55" cy="109.22" r="1.50" stroke="#60c4ec" stroke-width="0.80" fill="none"/>
<circle cx="175.72" cy="111.22" r="1.50" stroke="#70d0f0" stroke-width="0.80" fill="none"/>
<circle cx="102.13" cy="78.18" r="1.50" stroke="#88d8f4" stroke-width="0.80" fill="none"/>
<circle cx="126.27" cy="81.48" r="1.50" stroke="#70d0f0" stroke-width="0.80" fill="none"/>
<circle cx="185.93" cy="121.10" r="1.50" stroke="#70d0f0" stroke-width="0.80" fill="none"/>
<circle cx="181.83" cy="116.57" r="1.50" stroke="#70d0f0" stroke-width="0.80" fill="none"/>
<circle cx="142.89" cy="87.26" r="1.50" stroke="#60c4ec" stroke-width="0.80" fill="none"/>
<circle cx="162.25" cy="99.66" r="1.50" stroke="#70d0f0" stroke-width="0.80" fill="none"/>
<circle cx="94.34" cy="77.75" r="1.50" stroke="#60c4ec" stroke-width="0.80" fill="none"/>
<circle cx="126.60" cy="81.74" r="1.50" stroke="#88d8f4" stroke-width="0.80" fill="none"/>
<circle cx="159.84" cy="97.49" r="1.50" stroke="#88d8f4" stroke-width="0.80" fill="none"/>
<circle cx="170.98" cy="106.65" r="1.50" stroke="#60c4ec" stroke-width="0.80" fill="none"/>
<circle cx="113.84" cy="79.26" r="1.50" stroke="#60c4ec" stroke-width="0.80" fill="none"/>
<circle cx="92.10" cy="77.93" r="1.50" stroke="#88d8f4" stroke-width="0.80" fill="none"/>
<circle cx="105.36" cy="78.31" r="1.50" stroke="#60c4ec" stroke-width="0.80" fill="none"/>
<circle cx="164.55" cy="101.09" r="1.50" stroke="#70d0f0" stroke-width="0.80" fill="none"/>
<circle cx="80.68" cy="78.40" r="1.50" stroke="#60c4ec" stroke-width="0.80" fill="none"/>
<circle cx="137.96" cy="85.28" r="1.50" stroke="#70d0f0" stroke-width="0.80" fill="none"/>
<circle cx="187.28" cy="122.31" r="1.50" stroke="#88d8f4" stroke-width="0.80" fill="none"/>
<circle cx="165.59" cy="101.76" r="1.50" stroke="#88d8f4" stroke-width="0.80" fill="none"/>
<circle cx="140.02" cy="85.80" r="1.50" stroke="#70d0f0" stroke-width="0.80" fill="none"/>
<circle cx="156.22" cy="94.97" r="1.50" stroke="#70d0f0" stroke-width="0.80" fill="none"/>
<circle cx="181.08" cy="115.85" r="1.50" stroke="#70d0f0" stroke-width="0.80" fill="none"/>
<circle cx="165.51" cy="102.18" r="1.50" stroke="#70d0f0" stroke-width="0.80" fill="none"/>
<circle cx="152.63" cy="92.54" r="1.50" stroke="#70d0f0" stroke-width="0.80" fill="none"/>
<circle cx="168.16" cy="104.42" r="1.50" stroke="#60c4ec" stroke-width="0.80" fill="none"/>
<circle cx="166.25" cy="102.88" r="1.50" stroke="#60c4ec" stroke-width="0.80" fill="none"/>
<circle cx="115.81" cy="79.38" r="1.50" stroke="#60c4ec" stroke-width="0.80" fill="none"/>
<circle cx="152.72" cy="93.07" r="1.50" stroke="#88d8f4" stroke-width="0.80" fill="none"/>
<circle cx="188.69" cy="123.25" r="1.50" stroke="#60c4ec" stroke-width="0.80" fill="none"/>
<circle cx="131.20" cy="83.23" r="1.50" stroke="#88d8f4" stroke-width="0.80" fill="none"/>
<circle cx="100.41" cy="78.21" r="1.50" stroke="#60c4ec" stroke-width="0.80" fill="none"/>
<circle cx="148.99" cy="90.38" r="1.50" stroke="#70d0f0" stroke-width="0.80" fill="none"/>
<circle cx="163.76" cy="100.36" r="1.50" stroke="#88d8f4" stroke-width="0.80" fill="none"/>
<circle cx="142.96" cy="87.20" r="1.50" stroke="#88d8f4" stroke-width="0.80" fill="none"/>
<circle cx="186.77" cy="121.53" r="1.50" stroke="#70d0f0" stroke-width="0.80" fill="none"/>
<circle cx="109.77" cy="78.74" r="1.50" stroke="#88d8f4" stroke-width="0.80" fill="none"/>
<circle cx="168.07" cy="104.06" r="1.50" stroke="#60c4ec" stroke-width="0.80" fill="none"/>
<circle cx="130.87" cy="82.99" r="1.50" stroke="#70d0f0" stroke-width="0.80" fill="none"/>
<circle cx="176.10" cy="111.77" r="1.50" stroke="#70d0f0" stroke-width="0.80" fill="none"/>
<circle cx="153.55" cy="93.07" r="1.50" stroke="#88d8f4" stroke-width="0.80" fill="none"/>
<circle cx="186.99" cy="122.30" r="1.50" stroke="#70d0f0" stroke-width="0.80" fill="none"/>
<circle cx="168.37" cy="104.98" r="1.50" stroke="#60c4ec" stroke-width="0.80" fill="none"/>
<circle cx="122.57" cy="80.31" r="1.50" stroke="#60c4ec" stroke-width="0.80" fill="none"/>
<circle cx="104.11" cy="78.20" r="1.50" stroke="#88d8f4" stroke-width="0.80" fill="none"/>
<circle cx="97.76" cy="77.97" r="1.50" stroke="#88d8f4" stroke-width="0.80" fill="none"/>
<circle cx="170.10" cy="106.03" r="1.50" stroke="#60c4ec" stroke-width="0.80" fill="none"/>
<circle cx="134.50" cy="84.29" r="1.50" stroke="#88d8f4" stroke-width="0.80" fill="none"/>
<circle cx="119.81" cy="79.79" r="1.50" stroke="#60c4ec" stroke-width="0.80" fill="none"/>
<circle cx="98.38" cy="78.02" r="1.50" stroke="#88d8f4" stroke-width="0.80" fill="none"/>
<circle cx="167.82" cy="104.26" r="1.50" stroke="#70d0f0" stroke-width="0.80" fill="none"/>
<circle cx="103.77" cy="78.13" r="1.50" stroke="#88d8f4" stroke-width="0.80" fill="none"/>
<circle cx="133.04" cy="83.77" r="1.50" stroke="#60c4ec" stroke-width="0.80" fill="none"/>
<circle cx="142.90" cy="87.45" r="1.50" stroke="#70d0f0" stroke-width="0.80" fill="none"/>
<circle cx="87.01" cy="78.13" r="1.50" stroke="#60c4ec" stroke-width="0.80" fill="none"/>
<circle cx="153.05" cy="93.10" r="1.50" stroke="#88d8f4" stroke-width="0.80" fill="none"/>
<circle cx="86.15" cy="78.05" r="1.50" stroke="#70d0f0" stroke-width="0.80" fill="none"/>
<circle cx="188.58" cy="123.34" r="1.50" stroke="#88d8f4" stroke-width="0.80" fill="none"/>
<circle cx="92.59" cy="78.03" r="1.50" stroke="#88d8f4" stroke-width="0.80" fill="none"/>
<circle cx="87.56" cy="78.17" r="1.50" stroke="#60c4ec" stroke-width="0.80" fill="none"/>
<circle cx="133.22" cy="83.77" r="1.50" stroke="#60c4ec" stroke-width="0.80" fill="none"/>
<circle cx="117.93" cy="79.74" r="1.50" stroke="#60c4ec" stroke-width="0.80" fill="none"/>
<circle cx="123.30" cy="80.55" r="1.50" stroke="#70d0f0" stroke-width="0.80" fill="none"/>
<circle cx="126.89" cy="81.71" r="1.50" stroke="#60c4ec" stroke-width="0.80" fill="none"/>
<circle cx="95.62" cy="77.78" r="1.50" stroke="#88d8f4" stroke-width="0.80" fill="none"/>
<circle cx="131.50" cy="83.44" r="1.50" stroke="#70d0f0" stroke-width="0.80" fill="none"/>
<circle cx="140.81" cy="86.25" r="1.50" stroke="#70d0f0" stroke-width="0.80" fill="none"/>
<circle cx="111.47" cy="78.89" r="1.50" stroke="#88d8f4" stroke-width="0.80" fill="none"/>
<circle cx="216.37" cy="127.35" r="1.70" stroke="#60c4ec" stroke-width="0.90" fill="none"/>
<circle cx="200.62" cy="135.16" r="1.70" stroke="#88d8f4" stroke-width="0.90" fill="none"/>
<circle cx="196.79" cy="131.61" r="1.70" stroke="#88d8f4" stroke-width="0.90" fill="none"/>
<circle cx="215.69" cy="128.92" r="1.70" stroke="#60c4ec" stroke-width="0.90" fill="none"/>
<circle cx="190.59" cy="125.23" r="1.70" stroke="#70d0f0" stroke-width="0.90" fill="none"/>
<circle cx="218.82" cy="120.27" r="1.70" stroke="#60c4ec" stroke-width="0.90" fill="none"/>
<circle cx="228.37" cy="139.22" r="1.70" stroke="#88d8f4" stroke-width="0.90" fill="none"/>
<circle cx="216.27" cy="128.13" r="1.70" stroke="#88d8f4" stroke-width="0.90" fill="none"/>
<circle cx="193.54" cy="127.04" r="1.70" stroke="#70d0f0" stroke-width="0.90" fill="none"/>
<circle cx="195.09" cy="129.43" r="1.70" stroke="#60c4ec" stroke-width="0.90" fill="none"/>
<circle cx="228.34" cy="140.30" r="1.70" stroke="#70d0f0" stroke-width="0.90" fill="none"/>
<circle cx="216.04" cy="127.94" r="1.70" stroke="#70d0f0" stroke-width="0.90" fill="none"/>
<circle cx="217.95" cy="122.04" r="1.70" stroke="#88d8f4" stroke-width="0.90" fill="none"/>
<circle cx="215.56" cy="127.97" r="1.70" stroke="#88d8f4" stroke-width="0.90" fill="none"/>
<circle cx="203.72" cy="136.99" r="1.70" stroke="#60c4ec" stroke-width="0.90" fill="none"/>
<circle cx="199.50" cy="132.96" r="1.70" stroke="#70d0f0" stroke-width="0.90" fill="none"/>
<circle cx="218.21" cy="121.93" r="1.70" stroke="#88d8f4" stroke-width="0.90" fill="none"/>
<circle cx="224.58" cy="121.79" r="1.70" stroke="#70d0f0" stroke-width="0.90" fill="none"/>
<circle cx="214.51" cy="129.98" r="1.70" stroke="#88d8f4" stroke-width="0.90" fill="none"/>
<circle cx="216.41" cy="126.94" r="1.70" stroke="#70d0f0" stroke-width="0.90" fill="none"/>
<circle cx="217.87" cy="123.24" r="1.70" stroke="#70d0f0" stroke-width="0.90" fill="none"/>
<circle cx="228.62" cy="141.36" r="1.70" stroke="#60c4ec" stroke-width="0.90" fill="none"/>
<circle cx="220.38" cy="117.75" r="1.70" stroke="#88d8f4" stroke-width="0.90" fill="none"/>
<circle cx="211.77" cy="137.30" r="1.70" stroke="#60c4ec" stroke-width="0.90" fill="none"/>
<circle cx="224.06" cy="120.72" r="1.70" stroke="#88d8f4" stroke-width="0.90" fill="none"/>
<circle cx="216.30" cy="126.21" r="1.70" stroke="#60c4ec" stroke-width="0.90" fill="none"/>
<circle cx="195.47" cy="129.02" r="1.70" stroke="#88d8f4" stroke-width="0.90" fill="none"/>
<circle cx="200.85" cy="135.00" r="1.70" stroke="#60c4ec" stroke-width="0.90" fill="none"/>
<circle cx="194.14" cy="127.84" r="1.70" stroke="#88d8f4" stroke-width="0.90" fill="none"/>
<circle cx="193.43" cy="127.55" r="1.70" stroke="#88d8f4" stroke-width="0.90" fill="none"/>
<circle cx="208.18" cy="139.59" r="1.70" stroke="#60c4ec" stroke-width="0.90" fill="none"/>
<circle cx="227.43" cy="132.81" r="1.70" stroke="#70d0f0" stroke-width="0.90" fill="none"/>
<circle cx="226.85" cy="130.53" r="1.70" stroke="#88d8f4" stroke-width="0.90" fill="none"/>
<circle cx="226.33" cy="127.05" r="1.70" stroke="#88d8f4" stroke-width="0.90" fill="none"/>
<circle cx="205.57" cy="137.43" r="1.70" stroke="#60c4ec" stroke-width="0.90" fill="none"/>
<circle cx="224.57" cy="120.75" r="1.70" stroke="#60c4ec" stroke-width="0.90" fill="none"/>
<circle cx="228.05" cy="136.46" r="1.70" stroke="#60c4ec" stroke-width="0.90" fill="none"/>
<circle cx="195.07" cy="129.35" r="1.70" stroke="#88d8f4" stroke-width="0.90" fill="none"/>
<path d="M170.33 126.11 L172.09 123.23 L168.57 123.23 Z" stroke="#60cc20" stroke-width="0.90" fill="none"/>
<path d="M174.68 128.78 L176.44 125.90 L172.92 125.90 Z" stroke="#78d830" stroke-width="0.90" fill="none"/>
<path d="M184.81 136.33 L186.57 133.45 L183.05 133.45 Z" stroke="#78d830" stroke-width="0.90" fill="none"/>
<path d="M141.87 109.33 L143.63 106.45 L140.11 106.45 Z" stroke="#58c020" stroke-width="0.90" fill="none"/>
<path d="M139.36 107.76 L141.12 104.88 L137.60 104.88 Z" stroke="#60cc20" stroke-width="0.90" fill="none"/>
<path d="M101.17 102.97 L102.93 100.09 L99.41 100.09 Z" stroke="#58c020" stroke-width="0.90" fill="none"/>
<path d="M107.13 103.41 L108.89 100.53 L105.37 100.53 Z" stroke="#78d830" stroke-width="0.90" fill="none"/>
<path d="M92.37 102.19 L94.13 99.31 L90.61 99.31 Z" stroke="#58c020" stroke-width="0.90" fill="none"/>
<path d="M144.50 110.15 L146.26 107.27 L142.74 107.27 Z" stroke="#60cc20" stroke-width="0.90" fill="none"/>
<path d="M117.35 103.81 L119.11 100.93 L115.59 100.93 Z" stroke="#58c020" stroke-width="0.90" fill="none"/>
<path d="M125.34 105.16 L127.10 102.28 L123.58 102.28 Z" stroke="#60cc20" stroke-width="0.90" fill="none"/>
<path d="M93.77 102.43 L95.53 99.55 L92.01 99.55 Z" stroke="#60cc20" stroke-width="0.90" fill="none"/>
<path d="M178.62 130.20 L180.38 127.32 L176.86 127.32 Z" stroke="#78d830" stroke-width="0.90" fill="none"/>
<path d="M114.03 103.58 L115.79 100.70 L112.27 100.70 Z" stroke="#78d830" stroke-width="0.90" fill="none"/>
<path d="M121.82 104.32 L123.58 101.44 L120.06 101.44 Z" stroke="#60cc20" stroke-width="0.90" fill="none"/>
<path d="M93.72 102.15 L95.48 99.27 L91.96 99.27 Z" stroke="#60cc20" stroke-width="0.90" fill="none"/>
<path d="M175.15 129.46 L176.91 126.58 L173.39 126.58 Z" stroke="#58c020" stroke-width="0.90" fill="none"/>
<path d="M158.69 119.25 L160.45 116.37 L156.93 116.37 Z" stroke="#78d830" stroke-width="0.90" fill="none"/>
<path d="M119.74 104.09 L121.50 101.21 L117.98 101.21 Z" stroke="#58c020" stroke-width="0.90" fill="none"/>
<path d="M164.50 122.80 L166.26 119.92 L162.74 119.92 Z" stroke="#60cc20" stroke-width="0.90" fill="none"/>
<path d="M129.12 105.78 L130.88 102.90 L127.36 102.90 Z" stroke="#60cc20" stroke-width="0.90" fill="none"/>
<path d="M147.43 111.94 L149.19 109.06 L145.67 109.06 Z" stroke="#78d830" stroke-width="0.90" fill="none"/>
<path d="M118.14 104.05 L119.90 101.17 L116.38 101.17 Z" stroke="#58c020" stroke-width="0.90" fill="none"/>
<path d="M155.57 116.42 L157.33 113.54 L153.81 113.54 Z" stroke="#58c020" stroke-width="0.90" fill="none"/>
<path d="M103.55 103.18 L105.31 100.30 L101.79 100.30 Z" stroke="#78d830" stroke-width="0.90" fill="none"/>
<path d="M182.27 134.95 L184.03 132.07 L180.51 132.07 Z" stroke="#78d830" stroke-width="0.90" fill="none"/>
<path d="M94.92 102.38 L96.68 99.50 L93.16 99.50 Z" stroke="#60cc20" stroke-width="0.90" fill="none"/>
<path d="M185.51 137.68 L187.27 134.80 L183.75 134.80 Z" stroke="#60cc20" stroke-width="0.90" fill="none"/>
<path d="M148.58 112.51 L150.34 109.63 L146.82 109.63 Z" stroke="#78d830" stroke-width="0.90" fill="none"/>
<path d="M135.61 106.80 L137.37 103.92 L133.85 103.92 Z" stroke="#58c020" stroke-width="0.90" fill="none"/>
<path d="M82.89 102.32 L84.65 99.44 L81.13 99.44 Z" stroke="#78d830" stroke-width="0.90" fill="none"/>
<path d="M157.35 117.77 L159.11 114.89 L155.59 114.89 Z" stroke="#58c020" stroke-width="0.90" fill="none"/>
<path d="M99.91 102.59 L101.67 99.71 L98.15 99.71 Z" stroke="#78d830" stroke-width="0.90" fill="none"/>
<path d="M83.08 102.47 L84.84 99.59 L81.32 99.59 Z" stroke="#58c020" stroke-width="0.90" fill="none"/>
<path d="M144.96 109.83 L146.72 106.95 L143.20 106.95 Z" stroke="#58c020" stroke-width="0.90" fill="none"/>
<path d="M109.67 103.59 L111.43 100.71 L107.91 100.71 Z" stroke="#60cc20" stroke-width="0.90" fill="none"/>
<path d="M164.43 122.35 L166.19 119.47 L162.67 119.47 Z" stroke="#60cc20" stroke-width="0.90" fill="none"/>
<path d="M153.61 114.55 L155.37 111.67 L151.85 111.67 Z" stroke="#58c020" stroke-width="0.90" fill="none"/>
<path d="M176.32 130.82 L178.08 127.94 L174.56 127.94 Z" stroke="#58c020" stroke-width="0.90" fill="none"/>
<path d="M154.48 115.39 L156.24 112.51 L152.72 112.51 Z" stroke="#60cc20" stroke-width="0.90" fill="none"/>
<path d="M173.18 127.46 L174.94 124.58 L171.42 124.58 Z" stroke="#58c020" stroke-width="0.90" fill="none"/>
<path d="M153.46 114.61 L155.22 111.73 L151.70 111.73 Z" stroke="#60cc20" stroke-width="0.90" fill="none"/>
<path d="M80.69 102.05 L82.45 99.17 L78.93 99.17 Z" stroke="#78d830" stroke-width="0.90" fill="none"/>
<path d="M166.43 122.41 L168.19 119.53 L164.67 119.53 Z" stroke="#78d830" stroke-width="0.90" fill="none"/>
<path d="M164.74 123.20 L166.50 120.32 L162.98 120.32 Z" stroke="#60cc20" stroke-width="0.90" fill="none"/>
<path d="M100.77 102.80 L102.53 99.92 L99.01 99.92 Z" stroke="#58c020" stroke-width="0.90" fill="none"/>
<path d="M175.12 129.98 L176.88 127.10 L173.36 127.10 Z" stroke="#58c020" stroke-width="0.90" fill="none"/>
<path d="M179.71 133.46 L181.47 130.58 L177.95 130.58 Z" stroke="#60cc20" stroke-width="0.90" fill="none"/>
<path d="M104.72 103.27 L106.48 100.39 L102.96 100.39 Z" stroke="#60cc20" stroke-width="0.90" fill="none"/>
<path d="M126.93 105.22 L128.69 102.34 L125.17 102.34 Z" stroke="#60cc20" stroke-width="0.90" fill="none"/>
<path d="M183.30 136.49 L185.06 133.61 L181.54 133.61 Z" stroke="#60cc20" stroke-width="0.90" fill="none"/>
<path d="M170.43 126.73 L172.19 123.85 L168.67 123.85 Z" stroke="#58c020" stroke-width="0.90" fill="none"/>
<path d="M174.10 128.52 L175.86 125.64 L172.34 125.64 Z" stroke="#60cc20" stroke-width="0.90" fill="none"/>
<path d="M155.91 117.44 L157.67 114.56 L154.15 114.56 Z" stroke="#60cc20" stroke-width="0.90" fill="none"/>
<path d="M100.90 102.59 L102.66 99.71 L99.14 99.71 Z" stroke="#58c020" stroke-width="0.90" fill="none"/>
<path d="M85.44 102.47 L87.20 99.59 L83.68 99.59 Z" stroke="#78d830" stroke-width="0.90" fill="none"/>
<path d="M177.46 129.80 L179.22 126.92 L175.70 126.92 Z" stroke="#78d830" stroke-width="0.90" fill="none"/>
<path d="M94.94 102.60 L96.70 99.72 L93.18 99.72 Z" stroke="#60cc20" stroke-width="0.90" fill="none"/>
<path d="M157.58 116.90 L159.34 114.02 L155.82 114.02 Z" stroke="#58c020" stroke-width="0.90" fill="none"/>
<path d="M180.97 133.10 L182.73 130.22 L179.21 130.22 Z" stroke="#60cc20" stroke-width="0.90" fill="none"/>
<path d="M153.09 115.15 L154.85 112.27 L151.33 112.27 Z" stroke="#78d830" stroke-width="0.90" fill="none"/>
<path d="M96.12 102.34 L97.88 99.46 L94.36 99.46 Z" stroke="#78d830" stroke-width="0.90" fill="none"/>
<path d="M147.19 111.63 L148.95 108.75 L145.43 108.75 Z" stroke="#58c020" stroke-width="0.90" fill="none"/>
<path d="M91.78 102.37 L93.54 99.49 L90.02 99.49 Z" stroke="#58c020" stroke-width="0.90" fill="none"/>
<path d="M210.92 159.48 L213.01 156.06 L208.83 156.06 Z" stroke="#88e040" stroke-width="0.90" fill="none"/>
<path d="M206.28 156.91 L208.37 153.49 L204.19 153.49 Z" stroke="#60cc20" stroke-width="0.90" fill="none"/>
<path d="M196.80 149.96 L198.89 146.54 L194.71 146.54 Z" stroke="#88e040" stroke-width="0.90" fill="none"/>
<path d="M216.09 159.00 L218.18 155.58 L214.00 155.58 Z" stroke="#60cc20" stroke-width="0.90" fill="none"/>
<path d="M205.08 159.44 L207.17 156.02 L202.99 156.02 Z" stroke="#88e040" stroke-width="0.90" fill="none"/>
<path d="M209.22 158.04 L211.31 154.62 L207.13 154.62 Z" stroke="#88e040" stroke-width="0.90" fill="none"/>
<path d="M194.97 149.67 L197.06 146.25 L192.88 146.25 Z" stroke="#88e040" stroke-width="0.90" fill="none"/>
<path d="M231.21 179.05 L233.30 175.63 L229.12 175.63 Z" stroke="#a0d840" stroke-width="0.90" fill="none"/>
<path d="M188.85 141.07 L190.94 137.65 L186.76 137.65 Z" stroke="#60cc20" stroke-width="0.90" fill="none"/>
<path d="M188.09 139.78 L190.18 136.36 L186.00 136.36 Z" stroke="#78d830" stroke-width="0.90" fill="none"/>
<path d="M204.09 155.82 L206.18 152.40 L202.00 152.40 Z" stroke="#60cc20" stroke-width="0.90" fill="none"/>
<path d="M195.85 150.27 L197.94 146.85 L193.76 146.85 Z" stroke="#a0d840" stroke-width="0.90" fill="none"/>
<path d="M196.63 147.46 L198.72 144.04 L194.54 144.04 Z" stroke="#60cc20" stroke-width="0.90" fill="none"/>
<path d="M211.62 157.29 L213.71 153.87 L209.53 153.87 Z" stroke="#88e040" stroke-width="0.90" fill="none"/>
<path d="M194.39 146.70 L196.48 143.28 L192.30 143.28 Z" stroke="#88e040" stroke-width="0.90" fill="none"/>
<path d="M198.19 149.54 L200.28 146.12 L196.10 146.12 Z" stroke="#60cc20" stroke-width="0.90" fill="none"/>
<path d="M226.31 164.98 L228.40 161.56 L224.22 161.56 Z" stroke="#60cc20" stroke-width="0.90" fill="none"/>
<path d="M226.63 159.54 L228.72 156.12 L224.54 156.12 Z" stroke="#78d830" stroke-width="0.90" fill="none"/>
<path d="M196.57 146.80 L198.66 143.38 L194.48 143.38 Z" stroke="#a0d840" stroke-width="0.90" fill="none"/>
<path d="M216.30 155.22 L218.39 151.80 L214.21 151.80 Z" stroke="#88e040" stroke-width="0.90" fill="none"/>
<path d="M215.69 158.21 L217.78 154.79 L213.60 154.79 Z" stroke="#a0d840" stroke-width="0.90" fill="none"/>
<path d="M197.77 151.62 L199.86 148.20 L195.68 148.20 Z" stroke="#88e040" stroke-width="0.90" fill="none"/>
<path d="M227.98 164.36 L230.07 160.94 L225.89 160.94 Z" stroke="#78d830" stroke-width="0.90" fill="none"/>
<path d="M187.93 140.07 L190.02 136.65 L185.84 136.65 Z" stroke="#a0d840" stroke-width="0.90" fill="none"/>
<path d="M226.18 162.44 L228.27 159.02 L224.09 159.02 Z" stroke="#60cc20" stroke-width="0.90" fill="none"/>
<path d="M196.09 148.52 L198.18 145.10 L194.00 145.10 Z" stroke="#78d830" stroke-width="0.90" fill="none"/>
<path d="M199.00 150.72 L201.09 147.30 L196.91 147.30 Z" stroke="#78d830" stroke-width="0.90" fill="none"/>
<path d="M229.59 173.74 L231.68 170.32 L227.50 170.32 Z" stroke="#88e040" stroke-width="0.90" fill="none"/>
<path d="M210.39 161.79 L212.48 158.37 L208.30 158.37 Z" stroke="#88e040" stroke-width="0.90" fill="none"/>
<path d="M209.10 158.05 L211.19 154.63 L207.01 154.63 Z" stroke="#88e040" stroke-width="0.90" fill="none"/>
<path d="M197.06 150.16 L199.15 146.74 L194.97 146.74 Z" stroke="#88e040" stroke-width="0.90" fill="none"/>
<path d="M187.15 138.33 L189.24 134.91 L185.06 134.91 Z" stroke="#88e040" stroke-width="0.90" fill="none"/>
<path d="M225.22 158.51 L227.31 155.09 L223.13 155.09 Z" stroke="#88e040" stroke-width="0.90" fill="none"/>
<path d="M221.82 156.84 L223.91 153.42 L219.73 153.42 Z" stroke="#78d830" stroke-width="0.90" fill="none"/>
<path d="M186.81 138.95 L188.90 135.53 L184.72 135.53 Z" stroke="#88e040" stroke-width="0.90" fill="none"/>
<path d="M211.66 158.81 L213.75 155.39 L209.57 155.39 Z" stroke="#78d830" stroke-width="0.90" fill="none"/>
<path d="M196.58 149.81 L198.67 146.39 L194.49 146.39 Z" stroke="#88e040" stroke-width="0.90" fill="none"/>
<path d="M227.74 170.06 L229.83 166.64 L225.65 166.64 Z" stroke="#60cc20" stroke-width="0.90" fill="none"/>
<path d="M229.12 166.39 L231.21 162.97 L227.03 162.97 Z" stroke="#88e040" stroke-width="0.90" fill="none"/>
<path d="M221.35 156.97 L223.44 153.55 L219.26 153.55 Z" stroke="#60cc20" stroke-width="0.90" fill="none"/>
<path d="M227.16 160.49 L229.25 157.07 L225.07 157.07 Z" stroke="#60cc20" stroke-width="0.90" fill="none"/>
<path d="M194.91 149.61 L197.00 146.19 L192.82 146.19 Z" stroke="#88e040" stroke-width="0.90" fill="none"/>
<path d="M187.93 138.78 L190.02 135.36 L185.84 135.36 Z" stroke="#78d830" stroke-width="0.90" fill="none"/>
<path d="M230.20 173.92 L232.29 170.50 L228.11 170.50 Z" stroke="#78d830" stroke-width="0.90" fill="none"/>
<path d="M224.83 160.81 L226.92 157.39 L222.74 157.39 Z" stroke="#78d830" stroke-width="0.90" fill="none"/>
<path d="M231.38 174.34 L233.47 170.92 L229.29 170.92 Z" stroke="#78d830" stroke-width="0.90" fill="none"/>
<path d="M216.72 154.17 L218.81 150.75 L214.63 150.75 Z" stroke="#88e040" stroke-width="0.90" fill="none"/>
<path d="M226.64 167.07 L228.73 163.65 L224.55 163.65 Z" stroke="#78d830" stroke-width="0.90" fill="none"/>
<path d="M228.09 171.87 L230.18 168.45 L226.00 168.45 Z" stroke="#60cc20" stroke-width="0.90" fill="none"/>
<path d="M186.69 137.83 L188.78 134.41 L184.60 134.41 Z" stroke="#60cc20" stroke-width="0.90" fill="none"/>
<path d="M214.89 157.17 L216.98 153.75 L212.80 153.75 Z" stroke="#88e040" stroke-width="0.90" fill="none"/>
<path d="M224.72 160.68 L226.81 157.26 L222.63 157.26 Z" stroke="#60cc20" stroke-width="0.90" fill="none"/>
<path d="M195.34 148.05 L197.43 144.63 L193.25 144.63 Z" stroke="#78d830" stroke-width="0.90" fill="none"/>
<path d="M226.01 164.36 L228.10 160.94 L223.92 160.94 Z" stroke="#88e040" stroke-width="0.90" fill="none"/>
<path d="M203.60 157.02 L205.69 153.60 L201.51 153.60 Z" stroke="#60cc20" stroke-width="0.90" fill="none"/>
<path d="M207.36 159.63 L209.45 156.21 L205.27 156.21 Z" stroke="#78d830" stroke-width="0.90" fill="none"/>
<path d="M193.60 148.30 L195.69 144.88 L191.51 144.88 Z" stroke="#78d830" stroke-width="0.90" fill="none"/>
<path d="M194.13 148.01 L196.22 144.59 L192.04 144.59 Z" stroke="#78d830" stroke-width="0.90" fill="none"/>
<path d="M205.01 156.08 L207.10 152.66 L202.92 152.66 Z" stroke="#a0d840" stroke-width="0.90" fill="none"/>
<path d="M228.84 170.62 L230.93 167.20 L226.75 167.20 Z" stroke="#78d830" stroke-width="0.90" fill="none"/>
<path d="M224.68 155.74 L226.77 152.32 L222.59 152.32 Z" stroke="#78d830" stroke-width="0.90" fill="none"/>
<path d="M202.66 151.32 L204.75 147.90 L200.57 147.90 Z" stroke="#78d830" stroke-width="0.90" fill="none"/>
<path d="M198.35 152.16 L200.44 148.74 L196.26 148.74 Z" stroke="#a0d840" stroke-width="0.90" fill="none"/>
<path d="M204.49 152.67 L206.58 149.25 L202.40 149.25 Z" stroke="#78d830" stroke-width="0.90" fill="none"/>
<path d="M226.95 168.10 L229.04 164.68 L224.86 164.68 Z" stroke="#60cc20" stroke-width="0.90" fill="none"/>
<path d="M211.88 160.87 L213.97 157.45 L209.79 157.45 Z" stroke="#88e040" stroke-width="0.90" fill="none"/>
<path d="M227.49 169.59 L229.58 166.17 L225.40 166.17 Z" stroke="#88e040" stroke-width="0.90" fill="none"/>
<path d="M231.32 174.25 L233.41 170.83 L229.23 170.83 Z" stroke="#78d830" stroke-width="0.90" fill="none"/>
<path d="M214.94 157.32 L217.03 153.90 L212.85 153.90 Z" stroke="#a0d840" stroke-width="0.90" fill="none"/>
<path d="M229.77 168.32 L231.86 164.90 L227.68 164.90 Z" stroke="#60cc20" stroke-width="0.90" fill="none"/>
<path d="M209.69 158.20 L211.78 154.78 L207.60 154.78 Z" stroke="#a0d840" stroke-width="0.90" fill="none"/>
<rect x="90.84" y="118.34" width="3.20" height="3.20" stroke="#e050e8" stroke-width="0.80" fill="none"/>
<rect x="81.85" y="118.02" width="3.20" height="3.20" stroke="#e050e8" stroke-width="0.80" fill="none"/>
<rect x="125.82" y="121.83" width="3.20" height="3.20" stroke="#c050f0" stroke-width="0.80" fill="none"/>
<rect x="144.75" y="127.89" width="3.20" height="3.20" stroke="#a070f0" stroke-width="0.80" fill="none"/>
<rect x="126.88" y="121.95" width="3.20" height="3.20" stroke="#a070f0" stroke-width="0.80" fill="none"/>
<rect x="122.64" y="121.06" width="3.20" height="3.20" stroke="#c050f0" stroke-width="0.80" fill="none"/>
<rect x="162.46" y="139.11" width="3.20" height="3.20" stroke="#e050e8" stroke-width="0.80" fill="none"/>
<rect x="137.11" y="125.18" width="3.20" height="3.20" stroke="#e050e8" stroke-width="0.80" fill="none"/>
<rect x="131.76" y="123.80" width="3.20" height="3.20" stroke="#d040e0" stroke-width="0.80" fill="none"/>
<rect x="142.98" y="127.48" width="3.20" height="3.20" stroke="#a070f0" stroke-width="0.80" fill="none"/>
<rect x="151.98" y="132.05" width="3.20" height="3.20" stroke="#a070f0" stroke-width="0.80" fill="none"/>
<rect x="89.57" y="118.20" width="3.20" height="3.20" stroke="#c050f0" stroke-width="0.80" fill="none"/>
<rect x="131.12" y="123.37" width="3.20" height="3.20" stroke="#d040e0" stroke-width="0.80" fill="none"/>
<rect x="131.07" y="123.63" width="3.20" height="3.20" stroke="#d040e0" stroke-width="0.80" fill="none"/>
<rect x="126.56" y="121.90" width="3.20" height="3.20" stroke="#d040e0" stroke-width="0.80" fill="none"/>
<rect x="156.08" y="134.44" width="3.20" height="3.20" stroke="#a070f0" stroke-width="0.80" fill="none"/>
<rect x="107.38" y="119.24" width="3.20" height="3.20" stroke="#e050e8" stroke-width="0.80" fill="none"/>
<rect x="158.94" y="136.86" width="3.20" height="3.20" stroke="#c050f0" stroke-width="0.80" fill="none"/>
<rect x="112.03" y="119.49" width="3.20" height="3.20" stroke="#e050e8" stroke-width="0.80" fill="none"/>
<rect x="87.29" y="117.96" width="3.20" height="3.20" stroke="#a070f0" stroke-width="0.80" fill="none"/>
<rect x="91.10" y="118.11" width="3.20" height="3.20" stroke="#d040e0" stroke-width="0.80" fill="none"/>
<rect x="127.39" y="122.48" width="3.20" height="3.20" stroke="#e050e8" stroke-width="0.80" fill="none"/>
<rect x="102.50" y="118.66" width="3.20" height="3.20" stroke="#d040e0" stroke-width="0.80" fill="none"/>
<rect x="157.52" y="135.65" width="3.20" height="3.20" stroke="#d040e0" stroke-width="0.80" fill="none"/>
<rect x="165.59" y="142.25" width="3.20" height="3.20" stroke="#e050e8" stroke-width="0.80" fill="none"/>
<rect x="86.33" y="117.92" width="3.20" height="3.20" stroke="#c050f0" stroke-width="0.80" fill="none"/>
<rect x="168.77" y="145.41" width="3.20" height="3.20" stroke="#e050e8" stroke-width="0.80" fill="none"/>
<rect x="84.05" y="118.08" width="3.20" height="3.20" stroke="#e050e8" stroke-width="0.80" fill="none"/>
<rect x="133.10" y="123.57" width="3.20" height="3.20" stroke="#e050e8" stroke-width="0.80" fill="none"/>
<rect x="140.49" y="126.73" width="3.20" height="3.20" stroke="#d040e0" stroke-width="0.80" fill="none"/>
<rect x="97.14" y="118.35" width="3.20" height="3.20" stroke="#d040e0" stroke-width="0.80" fill="none"/>
<rect x="163.36" y="139.40" width="3.20" height="3.20" stroke="#e050e8" stroke-width="0.80" fill="none"/>
<rect x="124.04" y="121.69" width="3.20" height="3.20" stroke="#d040e0" stroke-width="0.80" fill="none"/>
<rect x="141.87" y="126.59" width="3.20" height="3.20" stroke="#a070f0" stroke-width="0.80" fill="none"/>
<rect x="119.33" y="120.48" width="3.20" height="3.20" stroke="#a070f0" stroke-width="0.80" fill="none"/>
<rect x="93.83" y="118.31" width="3.20" height="3.20" stroke="#e050e8" stroke-width="0.80" fill="none"/>
<rect x="154.67" y="134.39" width="3.20" height="3.20" stroke="#d040e0" stroke-width="0.80" fill="none"/>
<rect x="114.47" y="119.83" width="3.20" height="3.20" stroke="#e050e8" stroke-width="0.80" fill="none"/>
<rect x="129.01" y="122.57" width="3.20" height="3.20" stroke="#d040e0" stroke-width="0.80" fill="none"/>
<rect x="160.61" y="137.91" width="3.20" height="3.20" stroke="#e050e8" stroke-width="0.80" fill="none"/>
<rect x="89.52" y="118.28" width="3.20" height="3.20" stroke="#e050e8" stroke-width="0.80" fill="none"/>
<rect x="162.01" y="138.62" width="3.20" height="3.20" stroke="#a070f0" stroke-width="0.80" fill="none"/>
<rect x="152.42" y="132.08" width="3.20" height="3.20" stroke="#a070f0" stroke-width="0.80" fill="none"/>
<rect x="87.71" y="118.01" width="3.20" height="3.20" stroke="#a070f0" stroke-width="0.80" fill="none"/>
<rect x="152.19" y="132.33" width="3.20" height="3.20" stroke="#a070f0" stroke-width="0.80" fill="none"/>
<rect x="117.88" y="120.62" width="3.20" height="3.20" stroke="#e050e8" stroke-width="0.80" fill="none"/>
<rect x="140.81" y="127.12" width="3.20" height="3.20" stroke="#a070f0" stroke-width="0.80" fill="none"/>
<rect x="198.78" y="174.01" width="3.80" height="3.80" stroke="#d040e0" stroke-width="0.90" fill="none"/>
<rect x="192.67" y="172.07" width="3.80" height="3.80" stroke="#9868f0" stroke-width="0.90" fill="none"/>
<rect x="186.77" y="166.00" width="3.80" height="3.80" stroke="#d040e0" stroke-width="0.90" fill="none"/>
<rect x="200.61" y="181.95" width="3.80" height="3.80" stroke="#d860e8" stroke-width="0.90" fill="none"/>
<rect x="183.27" y="159.41" width="3.80" height="3.80" stroke="#d860e8" stroke-width="0.90" fill="none"/>
<rect x="218.79" y="168.47" width="3.80" height="3.80" stroke="#c050f0" stroke-width="0.90" fill="none"/>
<rect x="197.41" y="171.29" width="3.80" height="3.80" stroke="#d860e8" stroke-width="0.90" fill="none"/>
<rect x="178.90" y="157.27" width="3.80" height="3.80" stroke="#9868f0" stroke-width="0.90" fill="none"/>
<rect x="174.91" y="151.22" width="3.80" height="3.80" stroke="#d860e8" stroke-width="0.90" fill="none"/>
<rect x="180.82" y="158.75" width="3.80" height="3.80" stroke="#d860e8" stroke-width="0.90" fill="none"/>
<rect x="227.07" y="178.75" width="3.80" height="3.80" stroke="#d040e0" stroke-width="0.90" fill="none"/>
<rect x="212.75" y="176.95" width="3.80" height="3.80" stroke="#d860e8" stroke-width="0.90" fill="none"/>
<rect x="228.13" y="182.78" width="3.80" height="3.80" stroke="#d860e8" stroke-width="0.90" fill="none"/>
<rect x="192.99" y="170.97" width="3.80" height="3.80" stroke="#c050f0" stroke-width="0.90" fill="none"/>
<rect x="226.54" y="184.99" width="3.80" height="3.80" stroke="#d040e0" stroke-width="0.90" fill="none"/>
<rect x="175.67" y="151.48" width="3.80" height="3.80" stroke="#d860e8" stroke-width="0.90" fill="none"/>
<rect x="225.04" y="172.60" width="3.80" height="3.80" stroke="#d860e8" stroke-width="0.90" fill="none"/>
<rect x="187.73" y="168.77" width="3.80" height="3.80" stroke="#d040e0" stroke-width="0.90" fill="none"/>
<rect x="228.30" y="185.36" width="3.80" height="3.80" stroke="#d040e0" stroke-width="0.90" fill="none"/>
<rect x="192.10" y="168.26" width="3.80" height="3.80" stroke="#c050f0" stroke-width="0.90" fill="none"/>
<rect x="186.01" y="165.29" width="3.80" height="3.80" stroke="#c050f0" stroke-width="0.90" fill="none"/>
<rect x="223.48" y="170.71" width="3.80" height="3.80" stroke="#d040e0" stroke-width="0.90" fill="none"/>
<rect x="194.92" y="178.18" width="3.80" height="3.80" stroke="#d040e0" stroke-width="0.90" fill="none"/>
<rect x="187.39" y="166.11" width="3.80" height="3.80" stroke="#9868f0" stroke-width="0.90" fill="none"/>
<rect x="193.51" y="169.89" width="3.80" height="3.80" stroke="#c050f0" stroke-width="0.90" fill="none"/>
<rect x="214.74" y="172.72" width="3.80" height="3.80" stroke="#d040e0" stroke-width="0.90" fill="none"/>
<rect x="213.29" y="180.09" width="3.80" height="3.80" stroke="#c050f0" stroke-width="0.90" fill="none"/>
<rect x="173.36" y="148.91" width="3.80" height="3.80" stroke="#9868f0" stroke-width="0.90" fill="none"/>
<rect x="226.09" y="180.67" width="3.80" height="3.80" stroke="#c050f0" stroke-width="0.90" fill="none"/>
<rect x="224.08" y="171.47" width="3.80" height="3.80" stroke="#c050f0" stroke-width="0.90" fill="none"/>
<rect x="180.03" y="157.12" width="3.80" height="3.80" stroke="#c050f0" stroke-width="0.90" fill="none"/>
<rect x="189.92" y="164.16" width="3.80" height="3.80" stroke="#d040e0" stroke-width="0.90" fill="none"/>
<rect x="201.14" y="179.28" width="3.80" height="3.80" stroke="#9868f0" stroke-width="0.90" fill="none"/>
<rect x="228.09" y="184.16" width="3.80" height="3.80" stroke="#d860e8" stroke-width="0.90" fill="none"/>
<rect x="190.17" y="171.91" width="3.80" height="3.80" stroke="#9868f0" stroke-width="0.90" fill="none"/>
<rect x="200.18" y="184.87" width="3.80" height="3.80" stroke="#d040e0" stroke-width="0.90" fill="none"/>
<rect x="178.27" y="155.55" width="3.80" height="3.80" stroke="#d860e8" stroke-width="0.90" fill="none"/>
<rect x="188.25" y="168.57" width="3.80" height="3.80" stroke="#d860e8" stroke-width="0.90" fill="none"/>
<rect x="191.26" y="169.37" width="3.80" height="3.80" stroke="#9868f0" stroke-width="0.90" fill="none"/>
<rect x="205.97" y="180.50" width="3.80" height="3.80" stroke="#c050f0" stroke-width="0.90" fill="none"/>
<rect x="184.51" y="164.32" width="3.80" height="3.80" stroke="#9868f0" stroke-width="0.90" fill="none"/>
<rect x="215.80" y="168.23" width="3.80" height="3.80" stroke="#d860e8" stroke-width="0.90" fill="none"/>
<rect x="192.33" y="167.93" width="3.80" height="3.80" stroke="#c050f0" stroke-width="0.90" fill="none"/>
<rect x="218.03" y="165.67" width="3.80" height="3.80" stroke="#c050f0" stroke-width="0.90" fill="none"/>
<rect x="227.18" y="181.70" width="3.80" height="3.80" stroke="#9868f0" stroke-width="0.90" fill="none"/>
<rect x="226.48" y="185.64" width="3.80" height="3.80" stroke="#d040e0" stroke-width="0.90" fill="none"/>
<rect x="183.71" y="162.84" width="3.80" height="3.80" stroke="#d860e8" stroke-width="0.90" fill="none"/>
<rect x="178.84" y="154.80" width="3.80" height="3.80" stroke="#d040e0" stroke-width="0.90" fill="none"/>
<rect x="176.87" y="154.38" width="3.80" height="3.80" stroke="#d860e8" stroke-width="0.90" fill="none"/>
<rect x="177.24" y="152.72" width="3.80" height="3.80" stroke="#d040e0" stroke-width="0.90" fill="none"/>
<rect x="196.95" y="171.10" width="3.80" height="3.80" stroke="#9868f0" stroke-width="0.90" fill="none"/>
<rect x="226.51" y="179.30" width="3.80" height="3.80" stroke="#d040e0" stroke-width="0.90" fill="none"/>
<rect x="226.18" y="183.04" width="3.80" height="3.80" stroke="#c050f0" stroke-width="0.90" fill="none"/>
<rect x="196.08" y="182.67" width="3.80" height="3.80" stroke="#d040e0" stroke-width="0.90" fill="none"/>
<rect x="196.19" y="173.14" width="3.80" height="3.80" stroke="#c050f0" stroke-width="0.90" fill="none"/>
<rect x="219.74" y="166.87" width="3.80" height="3.80" stroke="#9868f0" stroke-width="0.90" fill="none"/>
<rect x="210.62" y="179.49" width="3.80" height="3.80" stroke="#d040e0" stroke-width="0.90" fill="none"/>
<rect x="182.96" y="156.87" width="3.80" height="3.80" stroke="#d040e0" stroke-width="0.90" fill="none"/>
<rect x="217.19" y="169.99" width="3.80" height="3.80" stroke="#d860e8" stroke-width="0.90" fill="none"/>
<rect x="191.81" y="174.75" width="3.80" height="3.80" stroke="#d860e8" stroke-width="0.90" fill="none"/>
<rect x="185.35" y="165.35" width="3.80" height="3.80" stroke="#c050f0" stroke-width="0.90" fill="none"/>
<rect x="187.44" y="168.66" width="3.80" height="3.80" stroke="#c050f0" stroke-width="0.90" fill="none"/>
<rect x="190.97" y="170.44" width="3.80" height="3.80" stroke="#d040e0" stroke-width="0.90" fill="none"/>
<rect x="228.09" y="183.19" width="3.80" height="3.80" stroke="#d860e8" stroke-width="0.90" fill="none"/>
<rect x="224.30" y="175.43" width="3.80" height="3.80" stroke="#d860e8" stroke-width="0.90" fill="none"/>
<rect x="181.14" y="157.16" width="3.80" height="3.80" stroke="#d860e8" stroke-width="0.90" fill="none"/>
<rect x="179.80" y="154.02" width="3.80" height="3.80" stroke="#d860e8" stroke-width="0.90" fill="none"/>
<rect x="187.85" y="163.48" width="3.80" height="3.80" stroke="#c050f0" stroke-width="0.90" fill="none"/>
<rect x="225.13" y="180.22" width="3.80" height="3.80" stroke="#d860e8" stroke-width="0.90" fill="none"/>
<rect x="183.04" y="158.01" width="3.80" height="3.80" stroke="#9868f0" stroke-width="0.90" fill="none"/>
<rect x="191.64" y="176.83" width="3.80" height="3.80" stroke="#c050f0" stroke-width="0.90" fill="none"/>
<rect x="182.85" y="156.98" width="3.80" height="3.80" stroke="#c050f0" stroke-width="0.90" fill="none"/>
<rect x="217.78" y="168.14" width="3.80" height="3.80" stroke="#9868f0" stroke-width="0.90" fill="none"/>
<rect x="181.04" y="155.18" width="3.80" height="3.80" stroke="#d040e0" stroke-width="0.90" fill="none"/>
<rect x="178.25" y="155.72" width="3.80" height="3.80" stroke="#d860e8" stroke-width="0.90" fill="none"/>
<rect x="184.00" y="162.76" width="3.80" height="3.80" stroke="#c050f0" stroke-width="0.90" fill="none"/>
<rect x="213.32" y="176.10" width="3.80" height="3.80" stroke="#d040e0" stroke-width="0.90" fill="none"/>
<rect x="180.94" y="159.05" width="3.80" height="3.80" stroke="#9868f0" stroke-width="0.90" fill="none"/>
<rect x="224.67" y="175.35" width="3.80" height="3.80" stroke="#9868f0" stroke-width="0.90" fill="none"/>
<rect x="223.95" y="176.50" width="3.80" height="3.80" stroke="#d860e8" stroke-width="0.90" fill="none"/>
<rect x="209.53" y="180.60" width="3.80" height="3.80" stroke="#d040e0" stroke-width="0.90" fill="none"/>
<rect x="226.86" y="186.81" width="3.80" height="3.80" stroke="#c050f0" stroke-width="0.90" fill="none"/>
<rect x="184.53" y="158.73" width="3.80" height="3.80" stroke="#d040e0" stroke-width="0.90" fill="none"/>
<rect x="198.93" y="174.23" width="3.80" height="3.80" stroke="#9868f0" stroke-width="0.90" fill="none"/>
<rect x="179.01" y="154.36" width="3.80" height="3.80" stroke="#9868f0" stroke-width="0.90" fill="none"/>
<rect x="229.61" y="186.53" width="3.80" height="3.80" stroke="#9868f0" stroke-width="0.90" fill="none"/>
<rect x="225.17" y="180.16" width="3.80" height="3.80" stroke="#c050f0" stroke-width="0.90" fill="none"/>
<rect x="202.51" y="181.04" width="3.80" height="3.80" stroke="#d860e8" stroke-width="0.90" fill="none"/>
<rect x="182.89" y="160.73" width="3.80" height="3.80" stroke="#c050f0" stroke-width="0.90" fill="none"/>
<rect x="189.85" y="163.98" width="3.80" height="3.80" stroke="#d040e0" stroke-width="0.90" fill="none"/>
<rect x="189.93" y="171.31" width="3.80" height="3.80" stroke="#9868f0" stroke-width="0.90" fill="none"/>
<rect x="193.23" y="178.27" width="3.80" height="3.80" stroke="#d040e0" stroke-width="0.90" fill="none"/>
<rect x="183.76" y="159.35" width="3.80" height="3.80" stroke="#d040e0" stroke-width="0.90" fill="none"/>
<rect x="192.19" y="174.63" width="3.80" height="3.80" stroke="#d860e8" stroke-width="0.90" fill="none"/>
<rect x="188.03" y="167.33" width="3.80" height="3.80" stroke="#d860e8" stroke-width="0.90" fill="none"/>
<rect x="183.39" y="157.38" width="3.80" height="3.80" stroke="#c050f0" stroke-width="0.90" fill="none"/>
<rect x="180.13" y="155.45" width="3.80" height="3.80" stroke="#c050f0" stroke-width="0.90" fill="none"/>
<rect x="176.62" y="151.89" width="3.80" height="3.80" stroke="#d040e0" stroke-width="0.90" fill="none"/>
<rect x="223.54" y="175.33" width="3.80" height="3.80" stroke="#9868f0" stroke-width="0.90" fill="none"/>
<path d="M143.3 50.6 l2.9 4.6 h-5.8 z" stroke="#f4b0ea" stroke-width="0.9" fill="none"/>
<path d="M134 71.3 h3" stroke="#60d8f0" stroke-width="1"/>
<circle cx="126.6" cy="82.2" r="1.8" stroke="#30d0e0" stroke-width="1.1" fill="none"/>
<path d="M118.7 101.2 l2.7 -4.2 h-5.4 z" stroke="#30d0e8" stroke-width="1.1" fill="none"/>
<path d="M78.00 35.60 L78.77 35.69 L79.80 35.80 L81.02 35.93 L82.38 36.08 L83.81 36.26 L85.27 36.47 L86.68 36.71 L88.00 37.00 L89.25 37.33 L90.50 37.70 L91.75 38.11 L93.00 38.56 L94.25 39.02 L95.50 39.51 L96.75 40.00 L98.00 40.50 L99.26 41.02 L100.55 41.57 L101.84 42.14 L103.12 42.73 L104.40 43.31 L105.64 43.89 L106.85 44.46 L108.00 45.00 L109.09 45.51 L110.12 46.00 L111.10 46.48 L112.06 46.95 L113.01 47.42 L113.98 47.90 L114.97 48.39 L116.00 48.90 L117.09 49.43 L118.23 49.98 L119.39 50.54 L120.56 51.11 L121.73 51.68 L122.87 52.25 L123.96 52.83 L125.00 53.40 L125.95 53.96 L126.82 54.51 L127.64 55.06 L128.44 55.62 L129.24 56.18 L130.09 56.76 L131.00 57.37 L132.00 58.00 L133.11 58.67 L134.29 59.36 L135.53 60.07 L136.81 60.81 L138.12 61.55 L139.43 62.30 L140.73 63.05 L142.00 63.80 L143.25 64.55 L144.50 65.30 L145.75 66.06 L147.00 66.83 L148.25 67.59 L149.50 68.36 L150.75 69.13 L152.00 69.90 L153.26 70.68 L154.55 71.46 L155.84 72.25 L157.12 73.04 L158.40 73.83 L159.64 74.60 L160.85 75.36 L162.00 76.10 L163.10 76.81 L164.16 77.51 L165.19 78.19 L166.19 78.86 L167.16 79.52 L168.12 80.18 L169.06 80.84 L170.00 81.50 L170.92 82.16 L171.80 82.79 L172.65 83.42 L173.50 84.05 L174.35 84.69 L175.20 85.36 L176.08 86.06 L177.00 86.80 L177.94 87.58 L178.88 88.38 L179.84 89.21 L180.81 90.06 L181.81 90.95 L182.84 91.86 L183.90 92.81 L185.00 93.80 L186.17 94.83 L187.41 95.92 L188.69 97.05 L190.00 98.20 L191.31 99.37 L192.59 100.55 L193.83 101.73 L195.00 102.90 L196.11 104.07 L197.20 105.27 L198.26 106.49 L199.29 107.70 L200.28 108.90 L201.23 110.08 L202.14 111.21 L203.00 112.30 L203.82 113.40 L204.60 114.55 L205.34 115.70 L206.04 116.81 L206.69 117.83 L207.31 118.69 L207.88 119.37 L208.40 119.80 L208.86 119.96 L209.26 119.90 L209.61 119.65 L209.91 119.24 L210.19 118.74 L210.46 118.17 L210.72 117.57 L211.00 117.00 L211.28 116.41 L211.54 115.75 L211.79 115.03 L212.04 114.26 L212.28 113.46 L212.51 112.65 L212.75 111.82 L213.00 111.00 L213.25 110.17 L213.50 109.32 L213.75 108.45 L214.00 107.56 L214.25 106.67 L214.50 105.77 L214.75 104.88 L215.00 104.00 L215.25 103.11 L215.50 102.20 L215.75 101.28 L216.00 100.36 L216.25 99.46 L216.50 98.60 L216.75 97.77 L217.00 97.00 L217.25 96.27 L217.51 95.57 L217.76 94.89 L218.02 94.25 L218.27 93.65 L218.52 93.11 L218.76 92.62 L219.00 92.20 L219.23 91.85 L219.44 91.55 L219.66 91.32 L219.86 91.14 L220.07 91.00 L220.28 90.90 L220.48 90.84 L220.70 90.80 L220.92 90.79 L221.15 90.81 L221.38 90.86 L221.61 90.95 L221.84 91.09 L222.07 91.27 L222.29 91.51 L222.50 91.80 L222.70 92.15 L222.90 92.56 L223.08 93.02 L223.27 93.52 L223.45 94.08 L223.63 94.68 L223.81 95.32 L224.00 96.00 L224.19 96.73 L224.38 97.51 L224.56 98.33 L224.75 99.20 L224.94 100.11 L225.12 101.04 L225.31 102.01 L225.50 103.00 L225.69 104.04 L225.88 105.16 L226.08 106.32 L226.27 107.50 L226.46 108.68 L226.65 109.84 L226.83 110.96 L227.00 112.00 L227.17 112.99 L227.33 113.96 L227.49 114.90 L227.64 115.81 L227.79 116.68 L227.94 117.51 L228.07 118.28 L228.20 119.00 L228.32 119.67 L228.45 120.30 L228.56 120.90 L228.67 121.44 L228.78 121.92 L228.87 122.35 L228.94 122.71 L229.00 123.00" stroke="#1a0c00" stroke-width="1.50" fill="none" stroke-linejoin="round"/>
<path d="M80.00 77.80 L81.17 77.76 L82.73 77.70 L84.59 77.62 L86.65 77.54 L88.82 77.47 L91.00 77.42 L93.09 77.39 L95.00 77.40 L96.77 77.44 L98.50 77.51 L100.21 77.61 L101.90 77.72 L103.58 77.85 L105.25 77.99 L106.92 78.14 L108.60 78.30 L110.32 78.47 L112.09 78.65 L113.88 78.84 L115.65 79.04 L117.38 79.26 L119.03 79.49 L120.58 79.74 L122.00 80.00 L123.24 80.28 L124.33 80.57 L125.31 80.88 L126.21 81.21 L127.09 81.54 L127.99 81.89 L128.94 82.24 L130.00 82.60 L131.15 82.96 L132.36 83.31 L133.60 83.67 L134.88 84.04 L136.16 84.43 L137.45 84.85 L138.74 85.30 L140.00 85.80 L141.25 86.34 L142.50 86.91 L143.75 87.51 L145.00 88.14 L146.25 88.79 L147.50 89.47 L148.75 90.18 L150.00 90.90 L151.25 91.64 L152.50 92.41 L153.75 93.20 L155.00 94.02 L156.25 94.86 L157.50 95.72 L158.75 96.60 L160.00 97.50 L161.25 98.42 L162.50 99.37 L163.75 100.34 L165.00 101.33 L166.25 102.34 L167.50 103.38 L168.75 104.43 L170.00 105.50 L171.25 106.60 L172.50 107.75 L173.75 108.92 L175.00 110.11 L176.25 111.30 L177.50 112.49 L178.75 113.66 L180.00 114.80 L181.27 115.93 L182.57 117.08 L183.88 118.23 L185.19 119.36 L186.47 120.46 L187.71 121.53 L188.89 122.55 L190.00 123.50 L191.03 124.39 L191.98 125.23 L192.89 126.01 L193.75 126.76 L194.58 127.48 L195.39 128.17 L196.19 128.84 L197.00 129.50 L197.80 130.15 L198.59 130.78 L199.36 131.39 L200.11 131.97 L200.85 132.53 L201.58 133.06 L202.30 133.55 L203.00 134.00 L203.70 134.43 L204.40 134.84 L205.09 135.22 L205.77 135.57 L206.42 135.87 L207.05 136.12 L207.65 136.30 L208.20 136.40 L208.71 136.43 L209.17 136.40 L209.59 136.31 L209.99 136.16 L210.37 135.96 L210.74 135.69 L211.11 135.37 L211.50 135.00 L211.89 134.56 L212.27 134.04 L212.65 133.45 L213.02 132.82 L213.39 132.14 L213.76 131.44 L214.13 130.72 L214.50 130.00 L214.88 129.25 L215.26 128.44 L215.65 127.60 L216.03 126.74 L216.41 125.89 L216.79 125.05 L217.15 124.25 L217.50 123.50 L217.84 122.79 L218.17 122.08 L218.50 121.38 L218.82 120.72 L219.13 120.10 L219.43 119.53 L219.72 119.02 L220.00 118.60 L220.27 118.26 L220.52 117.99 L220.77 117.78 L221.01 117.62 L221.24 117.52 L221.46 117.45 L221.68 117.41 L221.90 117.40 L222.12 117.41 L222.32 117.47 L222.53 117.56 L222.73 117.69 L222.92 117.85 L223.11 118.04 L223.31 118.26 L223.50 118.50 L223.69 118.77 L223.88 119.07 L224.07 119.40 L224.26 119.76 L224.44 120.15 L224.63 120.56 L224.81 121.02 L225.00 121.50 L225.19 122.01 L225.38 122.55 L225.56 123.12 L225.75 123.72 L225.94 124.35 L226.12 125.03 L226.31 125.74 L226.50 126.50 L226.69 127.31 L226.88 128.18 L227.07 129.09 L227.26 130.04 L227.45 131.01 L227.64 132.00 L227.82 133.00 L228.00 134.00 L228.18 135.06 L228.37 136.23 L228.56 137.45 L228.74 138.67 L228.92 139.83 L229.07 140.87 L229.20 141.75 L229.30 142.40" stroke="#08222c" stroke-width="1.50" fill="none" stroke-linejoin="round"/>
<path d="M80.00 100.50 L81.17 100.52 L82.73 100.54 L84.59 100.57 L86.65 100.60 L88.82 100.64 L91.00 100.68 L93.09 100.74 L95.00 100.80 L96.78 100.88 L98.55 100.97 L100.30 101.07 L102.03 101.17 L103.72 101.29 L105.39 101.40 L107.01 101.50 L108.60 101.60 L110.14 101.68 L111.64 101.75 L113.10 101.81 L114.52 101.87 L115.92 101.95 L117.30 102.04 L118.66 102.15 L120.00 102.30 L121.32 102.48 L122.60 102.70 L123.85 102.93 L125.09 103.19 L126.31 103.46 L127.53 103.73 L128.76 104.02 L130.00 104.30 L131.25 104.57 L132.50 104.84 L133.75 105.10 L135.00 105.38 L136.25 105.67 L137.50 106.00 L138.75 106.37 L140.00 106.80 L141.25 107.28 L142.50 107.81 L143.75 108.37 L145.00 108.97 L146.25 109.60 L147.50 110.25 L148.75 110.92 L150.00 111.60 L151.25 112.31 L152.50 113.04 L153.75 113.80 L155.00 114.59 L156.25 115.38 L157.50 116.19 L158.75 117.00 L160.00 117.80 L161.25 118.60 L162.50 119.41 L163.75 120.23 L165.00 121.05 L166.25 121.88 L167.50 122.71 L168.75 123.55 L170.00 124.40 L171.28 125.27 L172.62 126.16 L173.97 127.07 L175.31 127.99 L176.62 128.89 L177.85 129.77 L178.99 130.61 L180.00 131.40 L180.86 132.13 L181.60 132.81 L182.24 133.46 L182.81 134.07 L183.34 134.69 L183.87 135.30 L184.41 135.93 L185.00 136.60 L185.62 137.30 L186.25 138.01 L186.88 138.74 L187.50 139.47 L188.12 140.21 L188.75 140.95 L189.38 141.68 L190.00 142.40 L190.62 143.11 L191.25 143.82 L191.88 144.53 L192.50 145.24 L193.12 145.94 L193.75 146.63 L194.38 147.32 L195.00 148.00 L195.62 148.67 L196.25 149.34 L196.88 150.00 L197.50 150.66 L198.12 151.30 L198.75 151.94 L199.38 152.58 L200.00 153.20 L200.63 153.82 L201.27 154.44 L201.92 155.06 L202.56 155.67 L203.20 156.26 L203.82 156.84 L204.42 157.38 L205.00 157.90 L205.55 158.39 L206.09 158.86 L206.61 159.31 L207.11 159.74 L207.60 160.15 L208.08 160.53 L208.55 160.88 L209.00 161.20 L209.44 161.51 L209.87 161.80 L210.28 162.08 L210.68 162.33 L211.06 162.54 L211.45 162.69 L211.82 162.78 L212.20 162.80 L212.57 162.74 L212.92 162.61 L213.27 162.42 L213.61 162.18 L213.95 161.88 L214.30 161.55 L214.64 161.19 L215.00 160.80 L215.37 160.35 L215.75 159.82 L216.14 159.23 L216.52 158.61 L216.91 157.99 L217.29 157.40 L217.65 156.86 L218.00 156.40 L218.33 156.00 L218.65 155.61 L218.96 155.26 L219.26 154.94 L219.55 154.67 L219.84 154.45 L220.12 154.29 L220.40 154.20 L220.68 154.17 L220.95 154.20 L221.21 154.29 L221.48 154.43 L221.73 154.62 L221.99 154.87 L222.24 155.16 L222.50 155.50 L222.75 155.90 L223.01 156.35 L223.26 156.87 L223.51 157.43 L223.75 158.03 L224.00 158.66 L224.25 159.32 L224.50 160.00 L224.75 160.72 L225.01 161.51 L225.27 162.33 L225.53 163.19 L225.79 164.05 L226.04 164.90 L226.27 165.72 L226.50 166.50 L226.71 167.24 L226.91 167.95 L227.11 168.64 L227.29 169.31 L227.47 169.98 L227.65 170.65 L227.83 171.32 L228.00 172.00 L228.18 172.73 L228.37 173.50 L228.56 174.30 L228.74 175.09 L228.92 175.84 L229.07 176.51 L229.20 177.08 L229.30 177.50" stroke="#0a1a06" stroke-width="1.50" fill="none" stroke-linejoin="round"/>
<path d="M80.60 119.70 L81.72 119.72 L83.21 119.74 L84.98 119.77 L86.95 119.80 L89.03 119.84 L91.12 119.88 L93.14 119.94 L95.00 120.00 L96.75 120.07 L98.51 120.15 L100.26 120.24 L101.99 120.33 L103.70 120.43 L105.37 120.55 L107.01 120.67 L108.60 120.80 L110.14 120.94 L111.64 121.09 L113.10 121.25 L114.52 121.42 L115.92 121.60 L117.30 121.79 L118.66 121.99 L120.00 122.20 L121.32 122.41 L122.60 122.63 L123.85 122.86 L125.09 123.09 L126.31 123.34 L127.53 123.61 L128.76 123.89 L130.00 124.20 L131.25 124.53 L132.50 124.87 L133.75 125.22 L135.00 125.60 L136.25 125.99 L137.50 126.41 L138.75 126.84 L140.00 127.30 L141.25 127.78 L142.50 128.27 L143.75 128.78 L145.00 129.32 L146.25 129.88 L147.50 130.46 L148.75 131.06 L150.00 131.70 L151.25 132.36 L152.50 133.04 L153.75 133.74 L155.00 134.47 L156.25 135.23 L157.50 136.01 L158.75 136.84 L160.00 137.70 L161.25 138.60 L162.50 139.54 L163.75 140.52 L165.00 141.53 L166.25 142.56 L167.50 143.62 L168.75 144.70 L170.00 145.80 L171.25 146.93 L172.50 148.11 L173.75 149.31 L175.00 150.54 L176.25 151.77 L177.50 153.00 L178.75 154.21 L180.00 155.40 L181.27 156.58 L182.57 157.78 L183.88 158.98 L185.19 160.17 L186.47 161.33 L187.71 162.45 L188.89 163.51 L190.00 164.50 L191.03 165.41 L191.98 166.25 L192.89 167.03 L193.75 167.77 L194.58 168.48 L195.39 169.18 L196.19 169.88 L197.00 170.60 L197.80 171.33 L198.56 172.05 L199.31 172.77 L200.04 173.48 L200.77 174.18 L201.50 174.87 L202.24 175.54 L203.00 176.20 L203.79 176.88 L204.63 177.60 L205.48 178.34 L206.32 179.04 L207.15 179.70 L207.94 180.26 L208.66 180.71 L209.30 181.00 L209.85 181.13 L210.32 181.14 L210.74 181.03 L211.11 180.83 L211.45 180.56 L211.79 180.23 L212.13 179.87 L212.50 179.50 L212.89 179.08 L213.28 178.57 L213.66 178.01 L214.04 177.41 L214.42 176.78 L214.79 176.16 L215.15 175.56 L215.50 175.00 L215.84 174.46 L216.17 173.91 L216.49 173.36 L216.81 172.82 L217.11 172.30 L217.41 171.82 L217.71 171.38 L218.00 171.00 L218.28 170.66 L218.55 170.36 L218.80 170.08 L219.06 169.85 L219.31 169.66 L219.56 169.52 L219.83 169.43 L220.10 169.40 L220.38 169.42 L220.68 169.47 L220.97 169.58 L221.27 169.73 L221.58 169.94 L221.89 170.22 L222.19 170.57 L222.50 171.00 L222.81 171.53 L223.13 172.17 L223.46 172.89 L223.79 173.67 L224.11 174.48 L224.42 175.31 L224.72 176.12 L225.00 176.90 L225.26 177.65 L225.50 178.40 L225.74 179.16 L225.96 179.92 L226.17 180.68 L226.38 181.45 L226.59 182.22 L226.80 183.00 L227.02 183.83 L227.25 184.73 L227.48 185.66 L227.71 186.58 L227.93 187.46 L228.12 188.24 L228.28 188.90 L228.40 189.40" stroke="#1a0520" stroke-width="1.50" fill="none" stroke-linejoin="round"/>
<path d="M365.50 119.70 L366.78 119.72 L368.49 119.74 L370.54 119.77 L372.80 119.81 L375.17 119.85 L377.53 119.89 L379.78 119.94 L381.80 120.00 L383.64 120.07 L385.44 120.14 L387.19 120.22 L388.91 120.30 L390.58 120.39 L392.22 120.49 L393.82 120.59 L395.40 120.70 L396.94 120.81 L398.44 120.93 L399.90 121.05 L401.32 121.18 L402.72 121.32 L404.10 121.47 L405.46 121.63 L406.80 121.80 L408.12 121.98 L409.40 122.17 L410.65 122.36 L411.89 122.57 L413.11 122.79 L414.33 123.04 L415.56 123.30 L416.80 123.60 L418.03 123.91 L419.22 124.23 L420.41 124.56 L421.60 124.91 L422.82 125.30 L424.07 125.74 L425.40 126.24 L426.80 126.80 L428.32 127.44 L429.95 128.14 L431.66 128.90 L433.40 129.70 L435.14 130.54 L436.85 131.41 L438.48 132.30 L440.00 133.20 L441.40 134.12 L442.72 135.07 L443.98 136.04 L445.20 137.04 L446.39 138.06 L447.57 139.10 L448.77 140.15 L450.00 141.20 L451.25 142.28 L452.50 143.38 L453.75 144.51 L455.00 145.65 L456.25 146.79 L457.50 147.92 L458.75 149.02 L460.00 150.10 L461.28 151.16 L462.59 152.21 L463.93 153.26 L465.25 154.29 L466.54 155.30 L467.78 156.28 L468.94 157.21 L470.00 158.10 L470.96 158.95 L471.83 159.76 L472.63 160.55 L473.38 161.29 L474.07 162.00 L474.73 162.68 L475.37 163.31 L476.00 163.90 L476.59 164.42 L477.12 164.86 L477.60 165.24 L478.06 165.59 L478.51 165.94 L478.98 166.31 L479.47 166.72 L480.00 167.20 L480.58 167.75 L481.18 168.36 L481.80 169.00 L482.44 169.66 L483.08 170.34 L483.73 171.01 L484.37 171.67 L485.00 172.30 L485.63 172.92 L486.26 173.54 L486.90 174.15 L487.53 174.76 L488.16 175.36 L488.79 175.93 L489.40 176.48 L490.00 177.00 L490.59 177.49 L491.19 177.97 L491.77 178.43 L492.35 178.87 L492.92 179.28 L493.46 179.66 L493.99 180.00 L494.50 180.30 L494.99 180.57 L495.46 180.82 L495.91 181.04 L496.35 181.23 L496.77 181.37 L497.17 181.47 L497.54 181.51 L497.90 181.50 L498.23 181.42 L498.52 181.28 L498.79 181.09 L499.04 180.85 L499.28 180.57 L499.51 180.27 L499.75 179.94 L500.00 179.60 L500.25 179.24 L500.48 178.83 L500.71 178.40 L500.94 177.94 L501.18 177.47 L501.43 176.98 L501.70 176.49 L502.00 176.00 L502.33 175.49 L502.69 174.95 L503.07 174.39 L503.46 173.83 L503.86 173.27 L504.25 172.74 L504.64 172.24 L505.00 171.80 L505.35 171.39 L505.69 171.00 L506.04 170.64 L506.37 170.30 L506.69 170.00 L507.01 169.75 L507.31 169.54 L507.60 169.40 L507.87 169.32 L508.13 169.30 L508.38 169.33 L508.62 169.40 L508.85 169.51 L509.07 169.65 L509.29 169.82 L509.50 170.00 L509.70 170.19 L509.89 170.41 L510.07 170.65 L510.24 170.91 L510.42 171.22 L510.60 171.56 L510.79 171.95 L511.00 172.40 L511.23 172.91 L511.48 173.49 L511.74 174.11 L512.00 174.78 L512.26 175.48 L512.52 176.19 L512.77 176.90 L513.00 177.60 L513.21 178.31 L513.42 179.05 L513.62 179.80 L513.81 180.56 L513.99 181.32 L514.16 182.07 L514.34 182.80 L514.50 183.50 L514.66 184.20 L514.83 184.93 L514.99 185.66 L515.14 186.37 L515.29 187.03 L515.41 187.62 L515.52 188.12 L515.60 188.50" stroke="#fbe6fb" stroke-width="11.0" fill="none" stroke-linecap="square" stroke-linejoin="round" opacity="1.00"/>
<defs><linearGradient id="g588213898" gradientUnits="userSpaceOnUse" x1="451.8" y1="0" x2="476.8" y2="0"><stop offset="0" stop-color="#e496f0" stop-opacity="0.90"/><stop offset="1" stop-color="#e496f0" stop-opacity="0"/></linearGradient></defs>
<path d="M365.53 118.00 L366.51 118.02 L367.78 118.03 L369.30 118.04 L371.00 118.05 L372.83 118.06 L374.72 118.07 L376.63 118.09 L378.49 118.12 L380.25 118.15 L381.86 118.18 L383.35 118.22 L384.80 118.27 L386.23 118.32 L387.63 118.37 L389.00 118.43 L390.35 118.49 L391.68 118.55 L392.99 118.62 L394.27 118.70 L395.54 118.78 L396.78 118.86 L398.00 118.94 L399.19 119.03 L400.36 119.12 L401.51 119.21 L402.65 119.32 L403.77 119.42 L404.88 119.54 L405.98 119.66 L407.07 119.80 L408.14 119.94 L409.18 120.08 L410.21 120.22 L411.23 120.38 L412.24 120.54 L413.25 120.71 L414.25 120.90 L415.26 121.10 L416.28 121.32 L417.30 121.56 L418.31 121.79 L419.30 122.02 L420.28 122.26 L421.26 122.52 L422.26 122.79 L423.27 123.09 L424.32 123.42 L425.40 123.78 L426.52 124.18 L427.69 124.63 L428.93 125.11 L430.24 125.63 L431.62 126.20 L433.03 126.80 L434.47 127.43 L435.92 128.08 L437.36 128.76 L438.76 129.46 L440.13 130.17 L441.43 130.90 L442.66 131.65 L443.83 132.43 L444.95 133.22 L446.02 134.03 L447.05 134.84 L448.06 135.65 L449.04 136.47 L450.01 137.28 L450.98 138.08 L451.98 138.89 L453.02 139.74 L454.06 140.61 L455.11 141.49 L456.14 142.38 L457.17 143.26 L458.20 144.14 L459.21 145.01 L460.22 145.86 L461.22 146.68 L462.21 147.48 L463.22 148.26 L464.26 149.05 L465.33 149.85 L466.40 150.64 L467.48 151.42 L468.55 152.20 L469.59 152.98 L470.58 153.77 L471.53 154.54 L472.42 155.29 L473.26 156.02 L474.03 156.73 L474.75 157.41 L475.41 158.06 L476.03 158.68 L476.60 159.25 L477.13 159.79 L477.62 160.28 L478.08 160.73 L478.52 161.14 L478.93 161.50 L479.30 161.81 L479.64 162.08 L479.98 162.35 L480.34 162.62 L480.72 162.91 L481.13 163.23 L481.56 163.61 L482.02 164.03 L482.51 164.51 L483.00 165.03 L483.50 165.56 L484.00 166.11 L484.49 166.67 L484.99 167.23 L485.48 167.79 L485.96 168.35 L486.44 168.89 L486.90 169.41 L487.36 169.91 L487.83 170.41 L488.31 170.93 L488.79 171.44 L489.27 171.95 L489.74 172.44 L490.21 172.93 L490.66 173.39 L491.11 173.84 L491.54 174.27 L491.97 174.67 L492.40 175.07 L492.83 175.46 L493.25 175.83 L493.67 176.19 L494.08 176.54 L494.47 176.86 L494.85 177.16 L495.22 177.43 L495.56 177.68 L495.88 177.90 L496.22 178.10 L496.57 178.23 L496.89 178.35 L497.17 178.43 L497.41 178.48 L497.59 178.50 L497.70 178.49 L497.73 178.45 L497.66 178.41 L497.49 178.39 L497.24 178.41 L496.98 178.48 L496.79 178.56 L496.68 178.60 L496.63 178.58 L496.65 178.48 L496.72 178.32 L496.82 178.10 L496.97 177.81 L497.11 177.54 L497.18 177.35 L497.24 177.17 L497.32 176.92 L497.43 176.61 L497.56 176.25 L497.71 175.84 L497.88 175.39 L498.09 174.90 L498.32 174.37 L498.57 173.84 L498.82 173.35 L499.06 172.85 L499.31 172.34 L499.60 171.82 L499.89 171.30 L500.19 170.78 L500.49 170.26 L500.80 169.76 L501.12 169.26 L501.43 168.80 L501.71 168.39 L502.00 167.99 L502.29 167.58 L502.61 167.17 L502.95 166.76 L503.33 166.34 L503.77 165.92 L504.29 165.50 L504.92 165.07 L505.71 164.66 L506.65 164.34 L507.69 164.16 L508.73 164.15 L509.70 164.29 L510.56 164.55 L511.27 164.85 L511.86 165.17 L512.33 165.48 L512.71 165.75 L513.07 166.03 L513.47 166.38 L513.88 166.79 L514.25 167.22 L514.58 167.66 L514.88 168.08 L515.14 168.50 L515.38 168.90 L515.59 169.29 L515.80 169.69 L516.01 170.11 L516.23 170.57 L516.46 171.08 L516.70 171.61 L516.94 172.18 L517.18 172.77 L517.43 173.37 L517.67 174.00 L517.90 174.63 L518.13 175.27 L518.35 175.92 L518.56 176.58 L518.76 177.25 L518.95 177.91 L519.13 178.57 L519.30 179.22 L519.46 179.86 L519.61 180.48 L519.76 181.08 L519.90 181.64 L520.03 182.20 L520.18 182.78 L520.32 183.38 L520.46 183.99 L520.60 184.59 L520.73 185.16 L520.85 185.71 L520.97 186.20 L521.06 186.64 L521.14 187.00 L521.21 187.28 L513.86 188.88 L513.79 188.58 L513.69 188.21 L513.59 187.77 L513.47 187.29 L513.34 186.76 L513.20 186.20 L513.05 185.63 L512.90 185.06 L512.76 184.49 L512.61 183.95 L512.46 183.39 L512.30 182.82 L512.14 182.23 L511.98 181.64 L511.82 181.05 L511.65 180.46 L511.47 179.88 L511.30 179.32 L511.12 178.77 L510.93 178.25 L510.73 177.73 L510.52 177.20 L510.30 176.67 L510.07 176.14 L509.84 175.62 L509.61 175.12 L509.38 174.64 L509.16 174.20 L508.95 173.79 L508.75 173.43 L508.58 173.11 L508.42 172.82 L508.28 172.59 L508.16 172.40 L508.05 172.25 L507.96 172.15 L507.89 172.08 L507.84 172.04 L507.79 172.02 L507.72 171.98 L507.62 171.92 L507.54 171.88 L507.49 171.88 L507.51 171.91 L507.59 171.98 L507.74 172.05 L507.96 172.11 L508.22 172.14 L508.47 172.13 L508.68 172.09 L508.79 172.07 L508.80 172.10 L508.74 172.18 L508.66 172.34 L508.55 172.56 L508.41 172.81 L508.26 173.09 L508.09 173.41 L507.91 173.75 L507.73 174.09 L507.56 174.44 L507.38 174.82 L507.18 175.24 L506.98 175.69 L506.77 176.16 L506.55 176.63 L506.35 177.10 L506.19 177.59 L506.05 178.07 L505.93 178.48 L505.87 178.81 L505.82 179.13 L505.75 179.48 L505.67 179.85 L505.57 180.26 L505.45 180.71 L505.30 181.20 L505.11 181.74 L504.86 182.33 L504.60 182.88 L504.45 183.26 L504.32 183.60 L504.13 184.01 L503.87 184.49 L503.49 185.06 L502.97 185.71 L502.23 186.40 L501.26 187.07 L500.06 187.65 L498.76 188.03 L497.53 188.21 L496.42 188.24 L495.44 188.17 L494.56 188.06 L493.77 187.91 L493.05 187.76 L492.38 187.59 L491.76 187.43 L491.17 187.28 L490.66 186.96 L490.12 186.56 L489.57 186.12 L489.04 185.67 L488.52 185.20 L488.01 184.73 L487.51 184.25 L487.02 183.75 L486.54 183.25 L486.06 182.75 L485.58 182.23 L485.08 181.68 L484.58 181.12 L484.09 180.55 L483.60 179.97 L483.13 179.39 L482.66 178.81 L482.20 178.23 L481.74 177.65 L481.30 177.08 L480.85 176.51 L480.37 175.90 L479.88 175.27 L479.41 174.64 L478.95 174.02 L478.51 173.41 L478.08 172.83 L477.67 172.27 L477.29 171.74 L476.93 171.27 L476.61 170.84 L476.33 170.48 L476.08 170.16 L475.83 169.87 L475.54 169.60 L475.22 169.32 L474.85 169.00 L474.44 168.64 L473.99 168.22 L473.50 167.76 L472.96 167.23 L472.41 166.65 L471.88 166.07 L471.36 165.48 L470.85 164.89 L470.33 164.30 L469.80 163.69 L469.25 163.07 L468.68 162.44 L468.06 161.79 L467.40 161.11 L466.67 160.40 L465.86 159.64 L464.97 158.83 L464.02 158.00 L463.02 157.16 L461.98 156.30 L460.93 155.43 L459.87 154.53 L458.82 153.63 L457.79 152.72 L456.78 151.80 L455.78 150.87 L454.79 149.93 L453.80 148.98 L452.83 148.04 L451.86 147.10 L450.89 146.17 L449.94 145.26 L448.98 144.38 L448.02 143.51 L447.05 142.63 L446.09 141.76 L445.16 140.90 L444.25 140.06 L443.35 139.25 L442.44 138.46 L441.52 137.68 L440.58 136.94 L439.60 136.21 L438.57 135.50 L437.46 134.79 L436.26 134.07 L434.99 133.36 L433.67 132.66 L432.33 131.97 L430.97 131.31 L429.64 130.67 L428.33 130.06 L427.08 129.50 L425.91 128.97 L424.82 128.50 L423.79 128.08 L422.81 127.70 L421.87 127.35 L420.94 127.03 L420.03 126.73 L419.12 126.45 L418.20 126.18 L417.26 125.91 L416.30 125.64 L415.33 125.40 L414.38 125.18 L413.43 124.97 L412.49 124.78 L411.53 124.60 L410.57 124.43 L409.59 124.27 L408.60 124.11 L407.58 123.95 L406.53 123.80 L405.48 123.66 L404.41 123.52 L403.34 123.39 L402.25 123.27 L401.14 123.15 L400.01 123.04 L398.86 122.93 L397.69 122.83 L396.49 122.72 L395.26 122.62 L394.01 122.53 L392.74 122.43 L391.45 122.34 L390.14 122.26 L388.81 122.17 L387.45 122.10 L386.07 122.02 L384.65 121.95 L383.21 121.88 L381.74 121.82 L380.16 121.76 L378.41 121.70 L376.56 121.65 L374.66 121.60 L372.77 121.55 L370.95 121.51 L369.25 121.47 L367.74 121.44 L366.46 121.42 L365.47 121.40 Z" fill="url(#g588213898)"/>
<rect x="446.76" y="136.97" width="3.20" height="3.20" stroke="#d040e0" stroke-width="0.80" fill="none"/>
<rect x="374.80" y="118.20" width="3.20" height="3.20" stroke="#c050f0" stroke-width="0.80" fill="none"/>
<rect x="394.33" y="119.25" width="3.20" height="3.20" stroke="#d040e0" stroke-width="0.80" fill="none"/>
<rect x="428.08" y="127.11" width="3.20" height="3.20" stroke="#a070f0" stroke-width="0.80" fill="none"/>
<rect x="418.19" y="122.46" width="3.20" height="3.20" stroke="#a070f0" stroke-width="0.80" fill="none"/>
<rect x="447.09" y="140.32" width="3.20" height="3.20" stroke="#c050f0" stroke-width="0.80" fill="none"/>
<rect x="452.98" y="145.64" width="3.20" height="3.20" stroke="#c050f0" stroke-width="0.80" fill="none"/>
<rect x="430.84" y="127.92" width="3.20" height="3.20" stroke="#e050e8" stroke-width="0.80" fill="none"/>
<rect x="377.93" y="118.28" width="3.20" height="3.20" stroke="#a070f0" stroke-width="0.80" fill="none"/>
<rect x="437.33" y="129.94" width="3.20" height="3.20" stroke="#a070f0" stroke-width="0.80" fill="none"/>
<rect x="379.23" y="118.56" width="3.20" height="3.20" stroke="#a070f0" stroke-width="0.80" fill="none"/>
<rect x="458.30" y="146.24" width="3.20" height="3.20" stroke="#a070f0" stroke-width="0.80" fill="none"/>
<rect x="382.54" y="118.63" width="3.20" height="3.20" stroke="#c050f0" stroke-width="0.80" fill="none"/>
<rect x="444.21" y="136.68" width="3.20" height="3.20" stroke="#c050f0" stroke-width="0.80" fill="none"/>
<rect x="364.52" y="118.21" width="3.20" height="3.20" stroke="#c050f0" stroke-width="0.80" fill="none"/>
<rect x="389.02" y="119.02" width="3.20" height="3.20" stroke="#d040e0" stroke-width="0.80" fill="none"/>
<rect x="393.29" y="119.18" width="3.20" height="3.20" stroke="#c050f0" stroke-width="0.80" fill="none"/>
<rect x="373.58" y="118.06" width="3.20" height="3.20" stroke="#d040e0" stroke-width="0.80" fill="none"/>
<rect x="384.62" y="118.84" width="3.20" height="3.20" stroke="#e050e8" stroke-width="0.80" fill="none"/>
<rect x="448.98" y="138.59" width="3.20" height="3.20" stroke="#d040e0" stroke-width="0.80" fill="none"/>
<rect x="397.79" y="119.41" width="3.20" height="3.20" stroke="#e050e8" stroke-width="0.80" fill="none"/>
<rect x="403.47" y="119.86" width="3.20" height="3.20" stroke="#a070f0" stroke-width="0.80" fill="none"/>
<rect x="424.24" y="124.46" width="3.20" height="3.20" stroke="#d040e0" stroke-width="0.80" fill="none"/>
<rect x="409.18" y="120.46" width="3.20" height="3.20" stroke="#e050e8" stroke-width="0.80" fill="none"/>
<rect x="411.05" y="121.06" width="3.20" height="3.20" stroke="#e050e8" stroke-width="0.80" fill="none"/>
<rect x="413.54" y="121.87" width="3.20" height="3.20" stroke="#c050f0" stroke-width="0.80" fill="none"/>
<rect x="446.59" y="139.46" width="3.20" height="3.20" stroke="#d040e0" stroke-width="0.80" fill="none"/>
<rect x="407.69" y="120.78" width="3.20" height="3.20" stroke="#a070f0" stroke-width="0.80" fill="none"/>
<rect x="431.72" y="128.33" width="3.20" height="3.20" stroke="#c050f0" stroke-width="0.80" fill="none"/>
<rect x="406.65" y="120.31" width="3.20" height="3.20" stroke="#a070f0" stroke-width="0.80" fill="none"/>
<rect x="439.06" y="131.63" width="3.20" height="3.20" stroke="#e050e8" stroke-width="0.80" fill="none"/>
<rect x="387.32" y="118.85" width="3.20" height="3.20" stroke="#e050e8" stroke-width="0.80" fill="none"/>
<rect x="435.62" y="129.68" width="3.20" height="3.20" stroke="#e050e8" stroke-width="0.80" fill="none"/>
<rect x="435.28" y="129.67" width="3.20" height="3.20" stroke="#e050e8" stroke-width="0.80" fill="none"/>
<rect x="457.16" y="146.83" width="3.20" height="3.20" stroke="#e050e8" stroke-width="0.80" fill="none"/>
<rect x="450.20" y="142.83" width="3.20" height="3.20" stroke="#c050f0" stroke-width="0.80" fill="none"/>
<rect x="421.46" y="123.81" width="3.20" height="3.20" stroke="#c050f0" stroke-width="0.80" fill="none"/>
<rect x="424.96" y="125.60" width="3.20" height="3.20" stroke="#d040e0" stroke-width="0.80" fill="none"/>
<rect x="409.79" y="120.92" width="3.20" height="3.20" stroke="#a070f0" stroke-width="0.80" fill="none"/>
<rect x="423.70" y="125.32" width="3.20" height="3.20" stroke="#c050f0" stroke-width="0.80" fill="none"/>
<rect x="431.31" y="127.04" width="3.20" height="3.20" stroke="#d040e0" stroke-width="0.80" fill="none"/>
<rect x="387.84" y="118.54" width="3.20" height="3.20" stroke="#d040e0" stroke-width="0.80" fill="none"/>
<rect x="452.35" y="144.49" width="3.20" height="3.20" stroke="#c050f0" stroke-width="0.80" fill="none"/>
<rect x="420.26" y="123.64" width="3.20" height="3.20" stroke="#d040e0" stroke-width="0.80" fill="none"/>
<rect x="449.18" y="139.21" width="3.20" height="3.20" stroke="#d040e0" stroke-width="0.80" fill="none"/>
<rect x="393.91" y="119.09" width="3.20" height="3.20" stroke="#a070f0" stroke-width="0.80" fill="none"/>
<rect x="381.45" y="118.63" width="3.20" height="3.20" stroke="#d040e0" stroke-width="0.80" fill="none"/>
<rect x="489.04" y="182.04" width="3.80" height="3.80" stroke="#e050e8" stroke-width="0.90" fill="none"/>
<rect x="470.96" y="158.55" width="3.80" height="3.80" stroke="#d040e0" stroke-width="0.90" fill="none"/>
<rect x="499.53" y="172.36" width="3.80" height="3.80" stroke="#d040e0" stroke-width="0.90" fill="none"/>
<rect x="508.69" y="169.24" width="3.80" height="3.80" stroke="#e050e8" stroke-width="0.90" fill="none"/>
<rect x="489.35" y="178.12" width="3.80" height="3.80" stroke="#c050f0" stroke-width="0.90" fill="none"/>
<rect x="466.38" y="154.51" width="3.80" height="3.80" stroke="#a070f0" stroke-width="0.90" fill="none"/>
<rect x="516.37" y="183.52" width="3.80" height="3.80" stroke="#a070f0" stroke-width="0.90" fill="none"/>
<rect x="488.45" y="175.29" width="3.80" height="3.80" stroke="#c050f0" stroke-width="0.90" fill="none"/>
<rect x="472.45" y="161.75" width="3.80" height="3.80" stroke="#d040e0" stroke-width="0.90" fill="none"/>
<rect x="510.21" y="169.60" width="3.80" height="3.80" stroke="#c050f0" stroke-width="0.90" fill="none"/>
<rect x="508.53" y="170.02" width="3.80" height="3.80" stroke="#e050e8" stroke-width="0.90" fill="none"/>
<rect x="479.03" y="165.71" width="3.80" height="3.80" stroke="#e050e8" stroke-width="0.90" fill="none"/>
<rect x="515.13" y="180.73" width="3.80" height="3.80" stroke="#e050e8" stroke-width="0.90" fill="none"/>
<rect x="512.06" y="172.82" width="3.80" height="3.80" stroke="#a070f0" stroke-width="0.90" fill="none"/>
<rect x="475.31" y="165.33" width="3.80" height="3.80" stroke="#c050f0" stroke-width="0.90" fill="none"/>
<rect x="466.15" y="152.95" width="3.80" height="3.80" stroke="#a070f0" stroke-width="0.90" fill="none"/>
<rect x="487.34" y="179.85" width="3.80" height="3.80" stroke="#c050f0" stroke-width="0.90" fill="none"/>
<rect x="489.95" y="177.37" width="3.80" height="3.80" stroke="#e050e8" stroke-width="0.90" fill="none"/>
<rect x="515.92" y="179.98" width="3.80" height="3.80" stroke="#e050e8" stroke-width="0.90" fill="none"/>
<rect x="515.50" y="178.18" width="3.80" height="3.80" stroke="#c050f0" stroke-width="0.90" fill="none"/>
<rect x="502.00" y="172.51" width="3.80" height="3.80" stroke="#a070f0" stroke-width="0.90" fill="none"/>
<rect x="499.54" y="173.85" width="3.80" height="3.80" stroke="#c050f0" stroke-width="0.90" fill="none"/>
<rect x="500.24" y="181.67" width="3.80" height="3.80" stroke="#a070f0" stroke-width="0.90" fill="none"/>
<rect x="502.00" y="171.59" width="3.80" height="3.80" stroke="#a070f0" stroke-width="0.90" fill="none"/>
<rect x="483.23" y="173.94" width="3.80" height="3.80" stroke="#d040e0" stroke-width="0.90" fill="none"/>
<rect x="511.75" y="172.19" width="3.80" height="3.80" stroke="#e050e8" stroke-width="0.90" fill="none"/>
<rect x="476.39" y="165.61" width="3.80" height="3.80" stroke="#e050e8" stroke-width="0.90" fill="none"/>
<rect x="468.39" y="159.59" width="3.80" height="3.80" stroke="#e050e8" stroke-width="0.90" fill="none"/>
<rect x="496.60" y="180.57" width="3.80" height="3.80" stroke="#d040e0" stroke-width="0.90" fill="none"/>
<rect x="491.93" y="180.43" width="3.80" height="3.80" stroke="#a070f0" stroke-width="0.90" fill="none"/>
<rect x="514.99" y="180.18" width="3.80" height="3.80" stroke="#e050e8" stroke-width="0.90" fill="none"/>
<rect x="463.71" y="152.56" width="3.80" height="3.80" stroke="#d040e0" stroke-width="0.90" fill="none"/>
<rect x="498.43" y="174.64" width="3.80" height="3.80" stroke="#d040e0" stroke-width="0.90" fill="none"/>
<rect x="465.70" y="156.20" width="3.80" height="3.80" stroke="#d040e0" stroke-width="0.90" fill="none"/>
<rect x="511.85" y="176.95" width="3.80" height="3.80" stroke="#a070f0" stroke-width="0.90" fill="none"/>
<rect x="472.33" y="158.64" width="3.80" height="3.80" stroke="#a070f0" stroke-width="0.90" fill="none"/>
<rect x="485.71" y="171.95" width="3.80" height="3.80" stroke="#d040e0" stroke-width="0.90" fill="none"/>
<rect x="512.35" y="173.08" width="3.80" height="3.80" stroke="#d040e0" stroke-width="0.90" fill="none"/>
<rect x="504.39" y="164.79" width="3.80" height="3.80" stroke="#e050e8" stroke-width="0.90" fill="none"/>
<rect x="485.92" y="172.37" width="3.80" height="3.80" stroke="#c050f0" stroke-width="0.90" fill="none"/>
<rect x="479.75" y="170.94" width="3.80" height="3.80" stroke="#e050e8" stroke-width="0.90" fill="none"/>
<rect x="473.71" y="163.48" width="3.80" height="3.80" stroke="#d040e0" stroke-width="0.90" fill="none"/>
<rect x="514.10" y="172.88" width="3.80" height="3.80" stroke="#c050f0" stroke-width="0.90" fill="none"/>
<path d="M497.5 183.6 L502.3 189.9 L515.2 201.6" stroke="#2828c0" stroke-width="1.3" fill="none" stroke-dasharray="2.4 1.6"/>
<path d="M497.0 185.5 L501.2 192.3 L514.8 204.6" stroke="#983a28" stroke-width="1.3" fill="none" stroke-dasharray="2.4 1.6"/>
<path d="M494.80 231.50 L494.90 230.60 L495.03 229.40 L495.18 227.96 L495.36 226.38 L495.54 224.71 L495.73 223.04 L495.92 221.44 L496.10 220.00 L496.28 218.68 L496.45 217.39 L496.63 216.14 L496.82 214.91 L497.01 213.68 L497.20 212.46 L497.40 211.24 L497.60 210.00 L497.81 208.75 L498.03 207.50 L498.25 206.25 L498.48 205.00 L498.71 203.75 L498.94 202.50 L499.17 201.25 L499.40 200.00 L499.62 198.76 L499.85 197.55 L500.07 196.34 L500.30 195.12 L500.52 193.90 L500.75 192.64 L500.97 191.35 L501.20 190.00 L501.42 188.54 L501.65 186.96 L501.87 185.31 L502.09 183.65 L502.31 182.03 L502.54 180.51 L502.77 179.15 L503.00 178.00 L503.24 177.07 L503.49 176.29 L503.74 175.66 L503.99 175.13 L504.24 174.69 L504.50 174.30 L504.75 173.95 L505.00 173.60 L505.26 173.28 L505.55 173.03 L505.84 172.83 L506.12 172.68 L506.40 172.56 L506.64 172.46 L506.85 172.38 L507.00 172.30 L507.15 172.38 L507.36 172.46 L507.60 172.56 L507.88 172.68 L508.16 172.83 L508.45 173.03 L508.74 173.28 L509.00 173.60 L509.24 173.95 L509.47 174.30 L509.69 174.69 L509.92 175.13 L510.15 175.66 L510.41 176.29 L510.69 177.07 L511.00 178.00 L511.37 179.15 L511.79 180.51 L512.24 182.03 L512.71 183.65 L513.17 185.31 L513.61 186.96 L513.99 188.54 L514.30 190.00 L514.54 191.35 L514.72 192.64 L514.86 193.90 L514.96 195.12 L515.05 196.34 L515.12 197.55 L515.21 198.76 L515.30 200.00 L515.40 201.25 L515.50 202.50 L515.58 203.75 L515.67 205.00 L515.75 206.25 L515.83 207.50 L515.91 208.75 L516.00 210.00 L516.09 211.24 L516.17 212.46 L516.26 213.68 L516.35 214.91 L516.44 216.14 L516.53 217.39 L516.61 218.68 L516.70 220.00 L516.79 221.44 L516.89 223.04 L516.99 224.71 L517.09 226.38 L517.19 227.96 L517.27 229.40 L517.35 230.60 L517.40 231.50" stroke="#e0b030" stroke-width="1.2" fill="none" stroke-dasharray="2.4 1.6"/>
<path d="M365.50 119.70 L366.78 119.72 L368.49 119.74 L370.54 119.77 L372.80 119.81 L375.17 119.85 L377.53 119.89 L379.78 119.94 L381.80 120.00 L383.64 120.07 L385.44 120.14 L387.19 120.22 L388.91 120.30 L390.58 120.39 L392.22 120.49 L393.82 120.59 L395.40 120.70 L396.94 120.81 L398.44 120.93 L399.90 121.05 L401.32 121.18 L402.72 121.32 L404.10 121.47 L405.46 121.63 L406.80 121.80 L408.12 121.98 L409.40 122.17 L410.65 122.36 L411.89 122.57 L413.11 122.79 L414.33 123.04 L415.56 123.30 L416.80 123.60 L418.03 123.91 L419.22 124.23 L420.41 124.56 L421.60 124.91 L422.82 125.30 L424.07 125.74 L425.40 126.24 L426.80 126.80 L428.32 127.44 L429.95 128.14 L431.66 128.90 L433.40 129.70 L435.14 130.54 L436.85 131.41 L438.48 132.30 L440.00 133.20 L441.40 134.12 L442.72 135.07 L443.98 136.04 L445.20 137.04 L446.39 138.06 L447.57 139.10 L448.77 140.15 L450.00 141.20 L451.25 142.28 L452.50 143.38 L453.75 144.51 L455.00 145.65 L456.25 146.79 L457.50 147.92 L458.75 149.02 L460.00 150.10 L461.28 151.16 L462.59 152.21 L463.93 153.26 L465.25 154.29 L466.54 155.30 L467.78 156.28 L468.94 157.21 L470.00 158.10 L470.96 158.95 L471.83 159.76 L472.63 160.55 L473.38 161.29 L474.07 162.00 L474.73 162.68 L475.37 163.31 L476.00 163.90 L476.59 164.42 L477.12 164.86 L477.60 165.24 L478.06 165.59 L478.51 165.94 L478.98 166.31 L479.47 166.72 L480.00 167.20 L480.58 167.75 L481.18 168.36 L481.80 169.00 L482.44 169.66 L483.08 170.34 L483.73 171.01 L484.37 171.67 L485.00 172.30 L485.63 172.92 L486.26 173.54 L486.90 174.15 L487.53 174.76 L488.16 175.36 L488.79 175.93 L489.40 176.48 L490.00 177.00 L490.59 177.49 L491.19 177.97 L491.77 178.43 L492.35 178.87 L492.92 179.28 L493.46 179.66 L493.99 180.00 L494.50 180.30 L494.99 180.57 L495.46 180.82 L495.91 181.04 L496.35 181.23 L496.77 181.37 L497.17 181.47 L497.54 181.51 L497.90 181.50 L498.23 181.42 L498.52 181.28 L498.79 181.09 L499.04 180.85 L499.28 180.57 L499.51 180.27 L499.75 179.94 L500.00 179.60 L500.25 179.24 L500.48 178.83 L500.71 178.40 L500.94 177.94 L501.18 177.47 L501.43 176.98 L501.70 176.49 L502.00 176.00 L502.33 175.49 L502.69 174.95 L503.07 174.39 L503.46 173.83 L503.86 173.27 L504.25 172.74 L504.64 172.24 L505.00 171.80 L505.35 171.39 L505.69 171.00 L506.04 170.64 L506.37 170.30 L506.69 170.00 L507.01 169.75 L507.31 169.54 L507.60 169.40 L507.87 169.32 L508.13 169.30 L508.38 169.33 L508.62 169.40 L508.85 169.51 L509.07 169.65 L509.29 169.82 L509.50 170.00 L509.70 170.19 L509.89 170.41 L510.07 170.65 L510.24 170.91 L510.42 171.22 L510.60 171.56 L510.79 171.95 L511.00 172.40 L511.23 172.91 L511.48 173.49 L511.74 174.11 L512.00 174.78 L512.26 175.48 L512.52 176.19 L512.77 176.90 L513.00 177.60 L513.21 178.31 L513.42 179.05 L513.62 179.80 L513.81 180.56 L513.99 181.32 L514.16 182.07 L514.34 182.80 L514.50 183.50 L514.66 184.20 L514.83 184.93 L514.99 185.66 L515.14 186.37 L515.29 187.03 L515.41 187.62 L515.52 188.12 L515.60 188.50" stroke="#1a0a2a" stroke-width="1.40" fill="none" stroke-linejoin="round"/>
<path d="M44.22 231.50 v-2.30 M44.22 20.05 v2.30 M50.86 231.50 v-2.30 M50.86 20.05 v2.30 M56.29 231.50 v-2.30 M56.29 20.05 v2.30 M60.88 231.50 v-2.30 M60.88 20.05 v2.30 M64.86 231.50 v-2.30 M64.86 20.05 v2.30 M68.36 231.50 v-2.30 M68.36 20.05 v2.30 M71.50 231.50 v-4.00 M71.50 20.05 v4.00 M92.14 231.50 v-2.30 M92.14 20.05 v2.30 M104.21 231.50 v-2.30 M104.21 20.05 v2.30 M112.77 231.50 v-2.30 M112.77 20.05 v2.30 M119.41 231.50 v-2.30 M119.41 20.05 v2.30 M124.84 231.50 v-2.30 M124.84 20.05 v2.30 M129.43 231.50 v-2.30 M129.43 20.05 v2.30 M133.41 231.50 v-2.30 M133.41 20.05 v2.30 M136.91 231.50 v-2.30 M136.91 20.05 v2.30 M140.05 231.50 v-4.00 M140.05 20.05 v4.00 M160.69 231.50 v-2.30 M160.69 20.05 v2.30 M172.76 231.50 v-2.30 M172.76 20.05 v2.30 M181.32 231.50 v-2.30 M181.32 20.05 v2.30 M187.96 231.50 v-2.30 M187.96 20.05 v2.30 M193.39 231.50 v-2.30 M193.39 20.05 v2.30 M197.98 231.50 v-2.30 M197.98 20.05 v2.30 M201.96 231.50 v-2.30 M201.96 20.05 v2.30 M205.46 231.50 v-2.30 M205.46 20.05 v2.30 M208.60 231.50 v-4.00 M208.60 20.05 v4.00 M229.24 231.50 v-2.30 M229.24 20.05 v2.30 M241.31 231.50 v-2.30 M241.31 20.05 v2.30 M249.87 231.50 v-2.30 M249.87 20.05 v2.30 M256.51 231.50 v-2.30 M256.51 20.05 v2.30 M44.22 231.50 h4.00 M256.51 231.50 h-4.00 M44.22 217.95 h2.30 M256.51 217.95 h-2.30 M44.22 210.03 h2.30 M256.51 210.03 h-2.30 M44.22 204.41 h2.30 M256.51 204.41 h-2.30 M44.22 200.05 h2.30 M256.51 200.05 h-2.30 M44.22 196.48 h2.30 M256.51 196.48 h-2.30 M44.22 193.47 h2.30 M256.51 193.47 h-2.30 M44.22 190.86 h2.30 M256.51 190.86 h-2.30 M44.22 188.56 h2.30 M256.51 188.56 h-2.30 M44.22 186.50 h4.00 M256.51 186.50 h-4.00 M44.22 172.95 h2.30 M256.51 172.95 h-2.30 M44.22 165.03 h2.30 M256.51 165.03 h-2.30 M44.22 159.41 h2.30 M256.51 159.41 h-2.30 M44.22 155.05 h2.30 M256.51 155.05 h-2.30 M44.22 151.48 h2.30 M256.51 151.48 h-2.30 M44.22 148.47 h2.30 M256.51 148.47 h-2.30 M44.22 145.86 h2.30 M256.51 145.86 h-2.30 M44.22 143.56 h2.30 M256.51 143.56 h-2.30 M44.22 141.50 h4.00 M256.51 141.50 h-4.00 M44.22 127.95 h2.30 M256.51 127.95 h-2.30 M44.22 120.03 h2.30 M256.51 120.03 h-2.30 M44.22 114.41 h2.30 M256.51 114.41 h-2.30 M44.22 110.05 h2.30 M256.51 110.05 h-2.30 M44.22 106.48 h2.30 M256.51 106.48 h-2.30 M44.22 103.47 h2.30 M256.51 103.47 h-2.30 M44.22 100.86 h2.30 M256.51 100.86 h-2.30 M44.22 98.56 h2.30 M256.51 98.56 h-2.30 M44.22 96.50 h4.00 M256.51 96.50 h-4.00 M44.22 82.95 h2.30 M256.51 82.95 h-2.30 M44.22 75.03 h2.30 M256.51 75.03 h-2.30 M44.22 69.41 h2.30 M256.51 69.41 h-2.30 M44.22 65.05 h2.30 M256.51 65.05 h-2.30 M44.22 61.48 h2.30 M256.51 61.48 h-2.30 M44.22 58.47 h2.30 M256.51 58.47 h-2.30 M44.22 55.86 h2.30 M256.51 55.86 h-2.30 M44.22 53.56 h2.30 M256.51 53.56 h-2.30 M44.22 51.50 h4.00 M256.51 51.50 h-4.00 M44.22 37.95 h2.30 M256.51 37.95 h-2.30 M44.22 30.03 h2.30 M256.51 30.03 h-2.30 M44.22 24.41 h2.30 M256.51 24.41 h-2.30 M44.22 20.05 h2.30 M256.51 20.05 h-2.30" stroke="#1a1a1a" stroke-width="1" fill="none"/>
<rect x="44.22" y="20.05" width="212.29" height="211.45" fill="none" stroke="#1a1a1a" stroke-width="1.3"/>
<text transform="translate(39.32 54.30) scale(0.860 1)" font-size="9.60" text-anchor="end">10</text>
<text transform="translate(39.32 99.30) scale(0.860 1)" font-size="9.60" text-anchor="end">1</text>
<text transform="translate(39.32 144.30) scale(0.860 1)" font-size="9.60" text-anchor="end">0.1</text>
<text transform="translate(39.32 189.30) scale(0.860 1)" font-size="9.60" text-anchor="end">0.01</text>
<text transform="translate(39.32 234.30) scale(0.860 1)" font-size="9.60" text-anchor="end">0.001</text>
<text transform="translate(71.50 243.50) scale(0.860 1)" font-size="9.60" text-anchor="middle">0.01</text>
<text transform="translate(140.05 243.50) scale(0.860 1)" font-size="9.60" text-anchor="middle">0.1</text>
<text transform="translate(208.60 243.50) scale(0.860 1)" font-size="9.60" text-anchor="middle">1</text>
<text x="150.20" y="262.00" font-size="11.00" text-anchor="middle"><tspan font-style="italic">q</tspan> / Å<tspan font-size="7" dy="-4.6">−1</tspan></text>
<text transform="translate(13.20 125.60) rotate(-90)" font-size="9.6" text-anchor="middle"><tspan font-style="italic">I</tspan>(<tspan font-style="italic">q</tspan>) / cm<tspan font-size="6.2" dy="-3.9">−1</tspan></text>
<path d="M331.02 231.50 v-2.30 M331.02 20.05 v2.30 M337.66 231.50 v-2.30 M337.66 20.05 v2.30 M343.09 231.50 v-2.30 M343.09 20.05 v2.30 M347.68 231.50 v-2.30 M347.68 20.05 v2.30 M351.66 231.50 v-2.30 M351.66 20.05 v2.30 M355.16 231.50 v-2.30 M355.16 20.05 v2.30 M358.30 231.50 v-4.00 M358.30 20.05 v4.00 M378.94 231.50 v-2.30 M378.94 20.05 v2.30 M391.01 231.50 v-2.30 M391.01 20.05 v2.30 M399.57 231.50 v-2.30 M399.57 20.05 v2.30 M406.21 231.50 v-2.30 M406.21 20.05 v2.30 M411.64 231.50 v-2.30 M411.64 20.05 v2.30 M416.23 231.50 v-2.30 M416.23 20.05 v2.30 M420.21 231.50 v-2.30 M420.21 20.05 v2.30 M423.71 231.50 v-2.30 M423.71 20.05 v2.30 M426.85 231.50 v-4.00 M426.85 20.05 v4.00 M447.49 231.50 v-2.30 M447.49 20.05 v2.30 M459.56 231.50 v-2.30 M459.56 20.05 v2.30 M468.12 231.50 v-2.30 M468.12 20.05 v2.30 M474.76 231.50 v-2.30 M474.76 20.05 v2.30 M480.19 231.50 v-2.30 M480.19 20.05 v2.30 M484.78 231.50 v-2.30 M484.78 20.05 v2.30 M488.76 231.50 v-2.30 M488.76 20.05 v2.30 M492.26 231.50 v-2.30 M492.26 20.05 v2.30 M495.40 231.50 v-4.00 M495.40 20.05 v4.00 M516.04 231.50 v-2.30 M516.04 20.05 v2.30 M528.11 231.50 v-2.30 M528.11 20.05 v2.30 M536.67 231.50 v-2.30 M536.67 20.05 v2.30 M543.31 231.50 v-2.30 M543.31 20.05 v2.30 M331.02 231.50 h4.00 M543.31 231.50 h-4.00 M331.02 217.95 h2.30 M543.31 217.95 h-2.30 M331.02 210.03 h2.30 M543.31 210.03 h-2.30 M331.02 204.41 h2.30 M543.31 204.41 h-2.30 M331.02 200.05 h2.30 M543.31 200.05 h-2.30 M331.02 196.48 h2.30 M543.31 196.48 h-2.30 M331.02 193.47 h2.30 M543.31 193.47 h-2.30 M331.02 190.86 h2.30 M543.31 190.86 h-2.30 M331.02 188.56 h2.30 M543.31 188.56 h-2.30 M331.02 186.50 h4.00 M543.31 186.50 h-4.00 M331.02 172.95 h2.30 M543.31 172.95 h-2.30 M331.02 165.03 h2.30 M543.31 165.03 h-2.30 M331.02 159.41 h2.30 M543.31 159.41 h-2.30 M331.02 155.05 h2.30 M543.31 155.05 h-2.30 M331.02 151.48 h2.30 M543.31 151.48 h-2.30 M331.02 148.47 h2.30 M543.31 148.47 h-2.30 M331.02 145.86 h2.30 M543.31 145.86 h-2.30 M331.02 143.56 h2.30 M543.31 143.56 h-2.30 M331.02 141.50 h4.00 M543.31 141.50 h-4.00 M331.02 127.95 h2.30 M543.31 127.95 h-2.30 M331.02 120.03 h2.30 M543.31 120.03 h-2.30 M331.02 114.41 h2.30 M543.31 114.41 h-2.30 M331.02 110.05 h2.30 M543.31 110.05 h-2.30 M331.02 106.48 h2.30 M543.31 106.48 h-2.30 M331.02 103.47 h2.30 M543.31 103.47 h-2.30 M331.02 100.86 h2.30 M543.31 100.86 h-2.30 M331.02 98.56 h2.30 M543.31 98.56 h-2.30 M331.02 96.50 h4.00 M543.31 96.50 h-4.00 M331.02 82.95 h2.30 M543.31 82.95 h-2.30 M331.02 75.03 h2.30 M543.31 75.03 h-2.30 M331.02 69.41 h2.30 M543.31 69.41 h-2.30 M331.02 65.05 h2.30 M543.31 65.05 h-2.30 M331.02 61.48 h2.30 M543.31 61.48 h-2.30 M331.02 58.47 h2.30 M543.31 58.47 h-2.30 M331.02 55.86 h2.30 M543.31 55.86 h-2.30 M331.02 53.56 h2.30 M543.31 53.56 h-2.30 M331.02 51.50 h4.00 M543.31 51.50 h-4.00 M331.02 37.95 h2.30 M543.31 37.95 h-2.30 M331.02 30.03 h2.30 M543.31 30.03 h-2.30 M331.02 24.41 h2.30 M543.31 24.41 h-2.30 M331.02 20.05 h2.30 M543.31 20.05 h-2.30" stroke="#1a1a1a" stroke-width="1" fill="none"/>
<rect x="331.02" y="20.05" width="212.29" height="211.45" fill="none" stroke="#1a1a1a" stroke-width="1.3"/>
<text transform="translate(326.12 54.30) scale(0.860 1)" font-size="9.60" text-anchor="end">10</text>
<text transform="translate(326.12 99.30) scale(0.860 1)" font-size="9.60" text-anchor="end">1</text>
<text transform="translate(326.12 144.30) scale(0.860 1)" font-size="9.60" text-anchor="end">0.1</text>
<text transform="translate(326.12 189.30) scale(0.860 1)" font-size="9.60" text-anchor="end">0.01</text>
<text transform="translate(326.12 234.30) scale(0.860 1)" font-size="9.60" text-anchor="end">0.001</text>
<text transform="translate(358.30 243.50) scale(0.860 1)" font-size="9.60" text-anchor="middle">0.01</text>
<text transform="translate(426.85 243.50) scale(0.860 1)" font-size="9.60" text-anchor="middle">0.1</text>
<text transform="translate(495.40 243.50) scale(0.860 1)" font-size="9.60" text-anchor="middle">1</text>
<text x="437.00" y="262.00" font-size="11.00" text-anchor="middle"><tspan font-style="italic">q</tspan> / Å<tspan font-size="7" dy="-4.6">−1</tspan></text>
<text transform="translate(300.00 125.60) rotate(-90)" font-size="9.6" text-anchor="middle"><tspan font-style="italic">I</tspan>(<tspan font-style="italic">q</tspan>) / cm<tspan font-size="6.2" dy="-3.9">−1</tspan></text>
<text x="4.00" y="16.30" font-size="15.00">(a)</text>
<text x="290.60" y="16.30" font-size="15.00">(b)</text>
<text transform="translate(52.30 39.20) scale(0.830 1)" font-size="9.60">x 10<tspan font-size="6.2" dy="-3.6">1.5</tspan></text>
<text transform="translate(52.30 82.00) scale(0.830 1)" font-size="9.60">x 10<tspan font-size="6.2" dy="-3.6">1</tspan></text>
<text transform="translate(52.30 103.80) scale(0.830 1)" font-size="9.60">x 10<tspan font-size="6.2" dy="-3.6">0.5</tspan></text>
<text transform="translate(52.30 119.60) scale(0.830 1)" font-size="9.60">x 10<tspan font-size="6.2" dy="-3.6">0</tspan></text>
<path d="M167.8 27.50 l3.5 5.2 h-7 z" stroke="#c4a22a" stroke-width="1.2" fill="none"/>
<text transform="translate(176.70 32.90) scale(0.890 1)" font-size="9.00">PVP–TEAOH–ZnAc<tspan font-size="6" dy="2.4">2</tspan></text>
<circle cx="167.6" cy="42.00" r="2.7" stroke="#86b8e6" stroke-width="1.1" fill="none"/>
<text transform="translate(176.70 44.90) scale(0.890 1)" font-size="9.00">PVP–TEAOH</text>
<path d="M167.8 55.30 l3.5 -5.2 h-7 z" stroke="#5cbc22" stroke-width="1.2" fill="none"/>
<text transform="translate(176.70 54.90) scale(0.890 1)" font-size="9.00">PVP–ZnAc<tspan font-size="6" dy="2.4">2</tspan></text>
<rect x="165.2" y="61.80" width="4.8" height="4.8" stroke="#9058e6" stroke-width="1.1" fill="none"/>
<text transform="translate(176.70 66.90) scale(0.890 1)" font-size="9.00">PVP</text>
<rect x="463.5" y="71" width="17" height="7" fill="#e2fafc"/>
<path d="M464.00 31.60 H481.60" stroke="#2a2ad0" stroke-width="1.5" stroke-dasharray="2.6 1.8"/>
<text transform="translate(484.60 35.00) scale(0.860 1)" font-size="9.40"><tspan font-style="italic">I</tspan>(<tspan font-style="italic">q</tspan>)<tspan font-size="6" dy="1.8">poly</tspan><tspan dy="-1.8"> [67,68]</tspan></text>
<path d="M464.00 43.10 H481.60" stroke="#111" stroke-width="1.5"/>
<text transform="translate(484.60 46.50) scale(0.860 1)" font-size="9.40"><tspan font-style="italic">I</tspan>(<tspan font-style="italic">q</tspan>)<tspan font-size="6" dy="1.8">poly</tspan><tspan dy="-1.8">+ </tspan><tspan font-style="italic">I</tspan>(<tspan font-style="italic">q</tspan>)<tspan font-size="6" dy="1.8">G</tspan></text>
<path d="M464.00 55.40 H481.60" stroke="#e0b850" stroke-width="1.5" stroke-dasharray="2.6 1.8"/>
<text transform="translate(484.60 58.80) scale(0.860 1)" font-size="9.40"><tspan font-style="italic">I</tspan>(<tspan font-style="italic">q</tspan>)<tspan font-size="6" dy="1.8">G</tspan></text>
<path d="M464.00 67.00 H481.60" stroke="#a05a40" stroke-width="1.5" stroke-dasharray="2.6 1.8"/>
<text transform="translate(484.60 70.40) scale(0.860 1)" font-size="9.40"><tspan font-style="italic">I</tspan>(<tspan font-style="italic">q</tspan>)<tspan font-size="6" dy="1.8">L</tspan><tspan dy="-1.8"> [69]</tspan></text>
<path d="M464.00 79.00 H481.60" stroke="#66c23a" stroke-width="1.5"/>
<text transform="translate(484.60 82.40) scale(0.860 1)" font-size="9.40"><tspan font-style="italic">I</tspan>(<tspan font-style="italic">q</tspan>)<tspan font-size="6" dy="1.8">L</tspan><tspan dy="-1.8">+ </tspan><tspan font-style="italic">I</tspan>(<tspan font-style="italic">q</tspan>)<tspan font-size="6" dy="1.8">G</tspan></text>
<rect x="55.90" y="132.60" width="74.30" height="75.90" fill="#fff"/>
<defs><filter id="bl" x="-20%" y="-20%" width="140%" height="140%"><feGaussianBlur stdDeviation="0.7"/></filter></defs>
<g filter="url(#bl)"><path d="M65.5 140 L67.5 137 L70.5 137.8 L73.5 140.8 L77.5 143.2 L81.5 145.6 L85 148.8 L88.5 152.5 L92 156.8 L95 160.6 L97.5 164.5 L96 165.5 L92.5 162 L89 158.6 L86 155.6 L83 152.6 L79 149.6 L75.5 148 L72 147.6 L69.5 147.6 L67.5 149.5 L66 146 Z" fill="#d6d6d6"/><path d="M72 150 L78 150.5 L84 154 L88 158 L86 159 L80 154.5 L74 152.5 Z" fill="#dcdcdc"/><rect x="66.2" y="150.8" width="2" height="2" fill="#c8c8c8"/><rect x="70.8" y="150.6" width="2" height="2" fill="#c8c8c8"/><rect x="66.8" y="157.6" width="2" height="2.4" fill="#cccccc"/><rect x="68.6" y="137.2" width="2" height="2" fill="#c0c0c0"/></g>
<g filter="url(#bl)"><path d="M101.6 172.6 L104 175.2 L106 177.3 L108 178.6 L109.5 178 L110.5 180 L112 179.5 L113.5 181.5 L115 181 L116.2 178.3 L117 181.2 L118 177.8 L119 175.3 L119.8 176.8 L120.6 175.6 L121.4 179 L121.2 184 L121.8 187 L120.8 189.5 L119.6 188.6 L119 192 L118 195.5 L117.2 199.6 L116.4 198.6 L114.6 192.4 L112.4 186.6 L110.2 182.6 L107.8 179.2 L104.8 176 L102 173.4 Z" fill="#e2a218"/><path d="M103 172.5 L106 175 L104.5 176.5 L102 174 Z" fill="#f0c860"/><path d="M116.2 199 L118.6 199.4 L118.2 202.2 L116.8 202 Z" fill="#e6b040"/></g>
<path d="M97.30 169.54 L97.73 170.02 L98.16 170.51 L98.60 171.00 L99.04 171.50 L99.49 172.00 L99.93 172.51 L100.38 173.01 L100.82 173.52 L101.26 174.02 L101.69 174.51 L102.10 175.00 L102.50 175.48 L102.90 175.95 L103.28 176.41 L103.66 176.87 L104.03 177.33 L104.40 177.78 L104.75 178.24 L105.10 178.70 L105.44 179.16 L105.77 179.62 L106.10 180.07 L106.41 180.53 L106.72 180.99 L107.02 181.45 L107.31 181.92 L107.60 182.40 L107.87 182.88 L108.14 183.35 L108.39 183.83 L108.63 184.31 L108.87 184.80 L109.11 185.31 L109.35 185.84 L109.60 186.40 L109.85 186.98 L110.10 187.59 L110.35 188.20 L110.60 188.84 L110.85 189.50 L111.10 190.18 L111.35 190.88 L111.60 191.60 L111.85 192.35 L112.11 193.13 L112.36 193.94 L112.62 194.76 L112.87 195.60" stroke="#8a1a10" stroke-width="1" fill="none"/>
<path d="M68.80 147.80 L69.04 147.81 L69.37 147.83 L69.75 147.85 L70.18 147.88 L70.64 147.90 L71.10 147.93 L71.56 147.96 L72.00 148.00 L72.42 148.03 L72.85 148.06 L73.29 148.08 L73.73 148.11 L74.17 148.15 L74.62 148.21 L75.06 148.29 L75.50 148.40 L75.93 148.53 L76.36 148.68 L76.78 148.84 L77.21 149.03 L77.64 149.23 L78.08 149.46 L78.53 149.72 L79.00 150.00 L79.50 150.32 L80.02 150.69 L80.56 151.09 L81.11 151.51 L81.66 151.94 L82.20 152.37 L82.71 152.79 L83.20 153.20 L83.66 153.59 L84.10 153.98 L84.52 154.37 L84.93 154.75 L85.32 155.13 L85.72 155.52 L86.11 155.91 L86.50 156.30 L86.88 156.69 L87.25 157.08 L87.61 157.47 L87.97 157.86 L88.33 158.26 L88.70 158.66 L89.09 159.08 L89.50 159.50 L89.94 159.94 L90.40 160.38 L90.87 160.83 L91.36 161.29 L91.85 161.76 L92.34 162.24 L92.82 162.71 L93.30 163.20 L93.77 163.69 L94.24 164.20 L94.70 164.72 L95.17 165.24 L95.63 165.76 L96.09 166.28 L96.55 166.79 L97.00 167.30 L97.45 167.80 L97.89 168.29 L98.33 168.77 L98.76 169.26 L99.20 169.74 L99.63 170.22 L100.06 170.71 L100.50 171.20 L100.94 171.70 L101.39 172.20 L101.83 172.71 L102.28 173.21 L102.72 173.72 L103.16 174.22 L103.59 174.71 L104.00 175.20 L104.40 175.68 L104.80 176.15 L105.18 176.61 L105.56 177.07 L105.93 177.53 L106.30 177.98 L106.65 178.44 L107.00 178.90 L107.34 179.36 L107.67 179.82 L108.00 180.27 L108.31 180.73 L108.62 181.19 L108.92 181.65 L109.21 182.12 L109.50 182.60 L109.77 183.08 L110.04 183.55 L110.29 184.03 L110.53 184.51 L110.77 185.00 L111.01 185.51 L111.25 186.04 L111.50 186.60 L111.75 187.18 L112.00 187.79 L112.25 188.40 L112.50 189.04 L112.75 189.70 L113.00 190.38 L113.25 191.08 L113.50 191.80 L113.75 192.55 L114.01 193.33 L114.26 194.14 L114.52 194.96 L114.77 195.80 L115.02 196.64 L115.26 197.47 L115.50 198.30 L115.74 199.17 L115.99 200.10 L116.23 201.06 L116.47 202.01 L116.70 202.90 L116.90 203.71 L117.07 204.39 L117.20 204.90" stroke="#111" stroke-width="1.3" fill="none"/>
<path d="M54.90 208.50 v-2.50 M54.90 132.60 v2.50 M61.01 208.50 v-1.30 M61.01 132.60 v1.30 M64.59 208.50 v-1.30 M64.59 132.60 v1.30 M67.12 208.50 v-1.30 M67.12 132.60 v1.30 M69.09 208.50 v-1.30 M69.09 132.60 v1.30 M70.70 208.50 v-1.30 M70.70 132.60 v1.30 M72.06 208.50 v-1.30 M72.06 132.60 v1.30 M73.23 208.50 v-1.30 M73.23 132.60 v1.30 M74.27 208.50 v-1.30 M74.27 132.60 v1.30 M75.20 208.50 v-2.50 M75.20 132.60 v2.50 M81.31 208.50 v-1.30 M81.31 132.60 v1.30 M84.89 208.50 v-1.30 M84.89 132.60 v1.30 M87.42 208.50 v-1.30 M87.42 132.60 v1.30 M89.39 208.50 v-1.30 M89.39 132.60 v1.30 M91.00 208.50 v-1.30 M91.00 132.60 v1.30 M92.36 208.50 v-1.30 M92.36 132.60 v1.30 M93.53 208.50 v-1.30 M93.53 132.60 v1.30 M94.57 208.50 v-1.30 M94.57 132.60 v1.30 M95.50 208.50 v-2.50 M95.50 132.60 v2.50 M101.61 208.50 v-1.30 M101.61 132.60 v1.30 M105.19 208.50 v-1.30 M105.19 132.60 v1.30 M107.72 208.50 v-1.30 M107.72 132.60 v1.30 M109.69 208.50 v-1.30 M109.69 132.60 v1.30 M111.30 208.50 v-1.30 M111.30 132.60 v1.30 M112.66 208.50 v-1.30 M112.66 132.60 v1.30 M113.83 208.50 v-1.30 M113.83 132.60 v1.30 M114.87 208.50 v-1.30 M114.87 132.60 v1.30 M115.80 208.50 v-2.50 M115.80 132.60 v2.50 M121.91 208.50 v-1.30 M121.91 132.60 v1.30 M125.49 208.50 v-1.30 M125.49 132.60 v1.30 M128.02 208.50 v-1.30 M128.02 132.60 v1.30 M129.99 208.50 v-1.30 M129.99 132.60 v1.30 M55.90 208.48 h1.30 M130.20 208.48 h-1.30 M55.90 207.25 h1.30 M130.20 207.25 h-1.30 M55.90 206.21 h1.30 M130.20 206.21 h-1.30 M55.90 205.31 h1.30 M130.20 205.31 h-1.30 M55.90 204.51 h1.30 M130.20 204.51 h-1.30 M55.90 203.80 h2.50 M130.20 203.80 h-2.50 M55.90 199.12 h1.30 M130.20 199.12 h-1.30 M55.90 196.38 h1.30 M130.20 196.38 h-1.30 M55.90 194.44 h1.30 M130.20 194.44 h-1.30 M55.90 192.93 h1.30 M130.20 192.93 h-1.30 M55.90 191.70 h1.30 M130.20 191.70 h-1.30 M55.90 190.66 h1.30 M130.20 190.66 h-1.30 M55.90 189.76 h1.30 M130.20 189.76 h-1.30 M55.90 188.96 h1.30 M130.20 188.96 h-1.30 M55.90 188.25 h2.50 M130.20 188.25 h-2.50 M55.90 183.57 h1.30 M130.20 183.57 h-1.30 M55.90 180.83 h1.30 M130.20 180.83 h-1.30 M55.90 178.89 h1.30 M130.20 178.89 h-1.30 M55.90 177.38 h1.30 M130.20 177.38 h-1.30 M55.90 176.15 h1.30 M130.20 176.15 h-1.30 M55.90 175.11 h1.30 M130.20 175.11 h-1.30 M55.90 174.21 h1.30 M130.20 174.21 h-1.30 M55.90 173.41 h1.30 M130.20 173.41 h-1.30 M55.90 172.70 h2.50 M130.20 172.70 h-2.50 M55.90 168.02 h1.30 M130.20 168.02 h-1.30 M55.90 165.28 h1.30 M130.20 165.28 h-1.30 M55.90 163.34 h1.30 M130.20 163.34 h-1.30 M55.90 161.83 h1.30 M130.20 161.83 h-1.30 M55.90 160.60 h1.30 M130.20 160.60 h-1.30 M55.90 159.56 h1.30 M130.20 159.56 h-1.30 M55.90 158.66 h1.30 M130.20 158.66 h-1.30 M55.90 157.86 h1.30 M130.20 157.86 h-1.30 M55.90 157.15 h2.50 M130.20 157.15 h-2.50 M55.90 152.47 h1.30 M130.20 152.47 h-1.30 M55.90 149.73 h1.30 M130.20 149.73 h-1.30 M55.90 147.79 h1.30 M130.20 147.79 h-1.30 M55.90 146.28 h1.30 M130.20 146.28 h-1.30 M55.90 145.05 h1.30 M130.20 145.05 h-1.30 M55.90 144.01 h1.30 M130.20 144.01 h-1.30 M55.90 143.11 h1.30 M130.20 143.11 h-1.30 M55.90 142.31 h1.30 M130.20 142.31 h-1.30 M55.90 141.60 h2.50 M130.20 141.60 h-2.50 M55.90 136.92 h1.30 M130.20 136.92 h-1.30 M55.90 134.18 h1.30 M130.20 134.18 h-1.30" stroke="#1a1a1a" stroke-width="0.8" fill="none"/>
<rect x="55.90" y="132.60" width="74.30" height="75.90" fill="none" stroke="#1a1a1a" stroke-width="1"/>
<text transform="translate(54.90 217.70) scale(0.820 1)" font-size="7.40" text-anchor="middle">0.001</text>
<text transform="translate(75.20 217.70) scale(0.820 1)" font-size="7.40" text-anchor="middle">0.01</text>
<text transform="translate(95.50 217.70) scale(0.820 1)" font-size="7.40" text-anchor="middle">0.1</text>
<text transform="translate(115.80 217.70) scale(0.820 1)" font-size="7.40" text-anchor="middle">1</text>
<text transform="translate(134.60 144.00) scale(0.820 1)" font-size="7.40">10</text>
<text transform="translate(134.60 159.55) scale(0.820 1)" font-size="7.40">1</text>
<text transform="translate(134.60 175.10) scale(0.820 1)" font-size="7.40">0.1</text>
<text transform="translate(134.60 190.65) scale(0.820 1)" font-size="7.40">0.01</text>
<text transform="translate(134.60 206.20) scale(0.820 1)" font-size="7.40">0.001</text>
<text x="93.00" y="225.80" font-size="8.20" text-anchor="middle"><tspan font-style="italic">q</tspan> / Å<tspan font-size="5" dy="-3">−1</tspan></text>
<text transform="translate(154.9 167.3) rotate(-90)" font-size="7.3" text-anchor="middle"><tspan font-style="italic">I</tspan>(q) / cm<tspan font-size="5" dy="-3">−1</tspan></text>
<path d="M61.7 191.0 l2.3 3.8 h-4.6 z" fill="#c8a020"/>
<rect x="60.2" y="199.2" width="3" height="3" fill="#d8d0d8"/>
<text transform="translate(68.50 195.60) scale(0.790 1)" font-size="7.60">In-house SAXS</text>
<text transform="translate(68.50 202.90) scale(0.790 1)" font-size="7.60">USAXS/SAXS</text>
</svg>
</body></html>
